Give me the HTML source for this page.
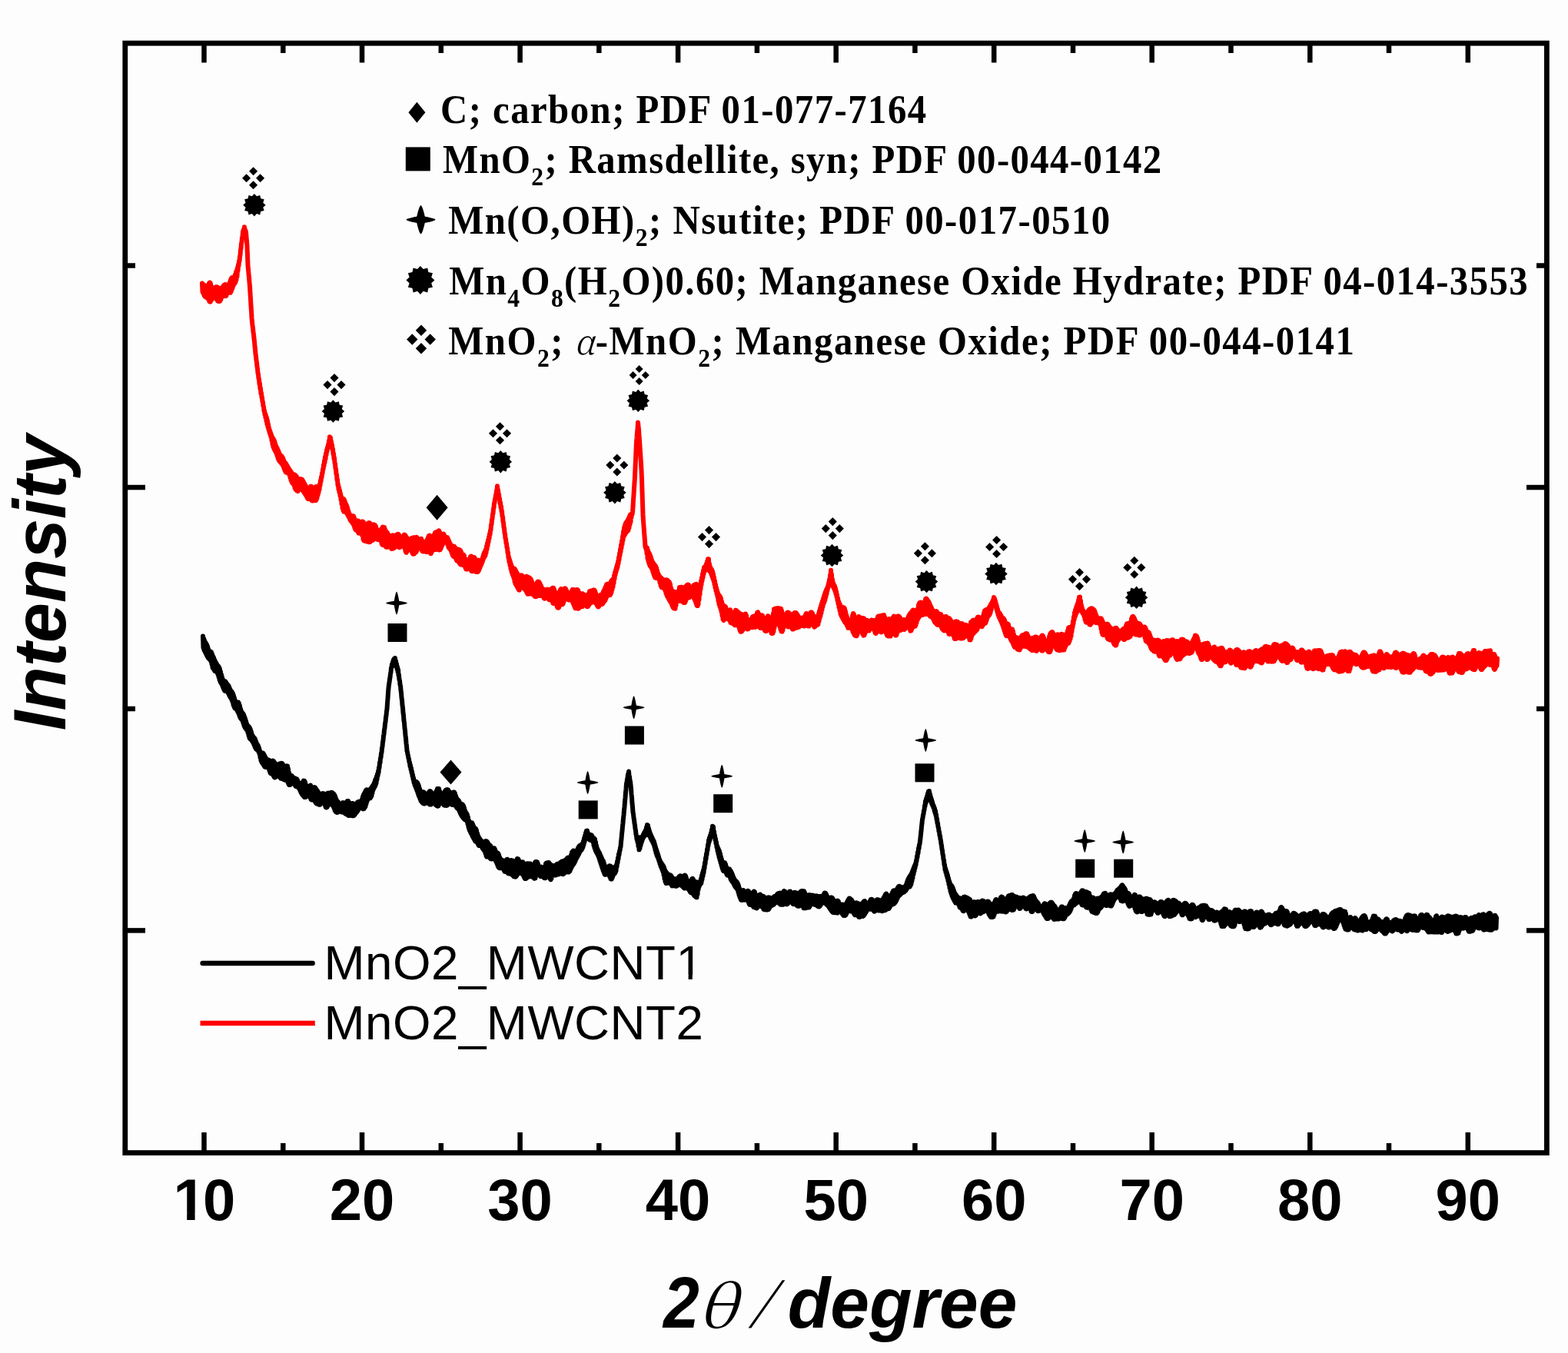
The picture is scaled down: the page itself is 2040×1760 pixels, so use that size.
<!DOCTYPE html>
<html><head><meta charset="utf-8"><title>XRD</title>
<style>html,body{margin:0;padding:0;background:#fdfdfd;}svg{display:block;}</style>
</head><body>
<svg xmlns="http://www.w3.org/2000/svg" width="2040" height="1760" viewBox="0 0 2040 1760">
<defs><clipPath id="clip2"><path clip-rule="evenodd" d="M400,1200 H1000 V1300 H400 Z M880,1268.2 H895.6 V1280 H880 Z M900.8,1268.2 H916 V1280 H900.8 Z"/></clipPath><clipPath id="clip1"><path clip-rule="evenodd" d="M200,1500 H300 V1600 H200 Z M200,1578.5 H243.2 V1600 H200 Z M253.6,1578.5 H300 V1600 H253.6 Z"/></clipPath></defs>
<rect x="0" y="0" width="2040" height="1760" fill="#fdfdfd"/>
<g fill="none" stroke-linejoin="round" stroke-linecap="round">
<path d="M264.0,827.4 L264.5,842.3 L265.0,830.4 L265.5,845.3 L266.0,833.0 L266.5,847.4 L267.0,835.2 L267.5,849.4 L268.0,836.7 L268.5,851.3 L269.0,838.4 L269.5,853.4 L270.0,840.8 L270.5,855.2 L271.0,844.0 L271.5,856.5 L272.0,846.6 L272.5,857.4 L273.0,847.4 L273.5,858.3 L274.0,847.4 L274.5,860.4 L275.0,848.5 L275.5,864.0 L276.0,850.9 L276.5,868.2 L277.0,853.5 L277.5,869.7 L278.0,855.6 L278.5,871.1 L279.0,858.1 L279.5,872.9 L280.0,860.3 L280.5,873.1 L281.0,862.1 L281.5,873.4 L282.0,863.8 L282.5,874.8 L283.0,865.4 L283.5,877.0 L284.0,866.6 L284.5,880.3 L285.0,868.0 L285.5,883.9 L286.0,870.2 L286.5,886.6 L287.0,873.7 L287.5,888.3 L288.0,877.5 L288.5,890.0 L289.0,881.0 L289.5,892.3 L290.0,884.1 L290.5,894.8 L291.0,885.9 L291.5,897.2 L292.0,886.2 L292.5,898.6 L293.0,886.3 L293.5,899.0 L294.0,887.5 L294.5,898.9 L295.0,889.2 L295.5,899.4 L296.0,890.4 L296.5,900.8 L297.0,891.5 L297.5,902.7 L298.0,893.3 L298.5,904.8 L299.0,895.7 L299.5,906.6 L300.0,897.8 L300.5,908.2 L301.0,899.2 L301.5,910.1 L302.0,900.3 L302.5,912.9 L303.0,902.2 L303.5,916.7 L304.0,904.8 L304.5,919.2 L305.0,908.0 L305.5,921.1 L306.0,911.2 L306.5,921.7 L307.0,913.5 L307.5,922.4 L308.0,914.3 L308.5,924.2 L309.0,913.7 L309.5,926.1 L310.0,913.4 L310.5,928.1 L311.0,915.2 L311.5,930.8 L312.0,918.2 L312.5,933.4 L313.0,922.0 L313.5,934.8 L314.0,925.1 L314.5,935.6 L315.0,926.9 L315.5,937.5 L316.0,928.1 L316.5,940.6 L317.0,929.6 L317.5,943.8 L318.0,932.0 L318.5,946.0 L319.0,934.7 L319.5,947.4 L320.0,937.8 L320.5,948.5 L321.0,941.0 L321.5,950.0 L322.0,943.4 L322.5,952.9 L323.0,944.6 L323.5,956.7 L324.0,945.4 L324.5,959.8 L325.0,946.9 L325.5,961.2 L326.0,949.2 L326.5,962.0 L327.0,952.3 L327.5,963.2 L328.0,955.5 L328.5,964.5 L329.0,957.6 L329.5,966.4 L330.0,958.9 L330.5,968.7 L331.0,960.0 L331.5,971.1 L332.0,961.6 L332.5,973.2 L333.0,964.2 L333.5,974.7 L334.0,966.7 L334.5,975.3 L335.0,968.4 L335.5,976.0 L336.0,970.1 L336.5,978.0 L337.0,972.7 L337.5,980.6 L338.0,976.0 L338.5,985.1 L339.0,978.4 L339.5,989.1 L340.0,979.2 L340.5,991.5 L341.0,979.2 L341.5,992.8 L342.0,979.5 L342.5,994.1 L343.0,980.7 L343.5,995.8 L344.0,982.4 L344.5,997.4 L345.0,984.4 L345.5,998.0 L346.0,986.3 L346.5,997.6 L347.0,987.6 L347.5,997.0 L348.0,988.4 L348.5,997.4 L349.0,988.7 L349.5,999.3 L350.0,988.7 L350.5,1002.4 L351.0,989.4 L351.5,1005.1 L352.0,990.2 L352.5,1006.2 L353.0,990.6 L353.5,1006.6 L354.0,990.0 L354.5,1007.0 L355.0,989.6 L355.5,1008.5 L356.0,990.2 L356.5,1010.4 L357.0,991.8 L357.5,1011.5 L358.0,992.9 L358.5,1010.7 L359.0,993.7 L359.5,1009.0 L360.0,994.9 L360.5,1008.5 L361.0,996.0 L361.5,1009.2 L362.0,995.6 L362.5,1009.8 L363.0,994.3 L363.5,1010.3 L364.0,993.3 L364.5,1011.3 L365.0,992.9 L365.5,1012.6 L366.0,992.7 L366.5,1013.0 L367.0,992.9 L367.5,1012.9 L368.0,994.2 L368.5,1013.3 L369.0,996.7 L369.5,1014.2 L370.0,998.9 L370.5,1014.8 L371.0,999.6 L371.5,1014.5 L372.0,998.2 L372.5,1014.3 L373.0,996.2 L373.5,1015.5 L374.0,996.4 L374.5,1017.7 L375.0,999.9 L375.5,1020.0 L376.0,1004.9 L376.5,1021.1 L377.0,1008.2 L377.5,1020.8 L378.0,1008.9 L378.5,1019.9 L379.0,1008.7 L379.5,1019.2 L380.0,1009.4 L380.5,1018.9 L381.0,1010.9 L381.5,1018.9 L382.0,1011.6 L382.5,1019.5 L383.0,1011.9 L383.5,1020.9 L384.0,1012.5 L384.5,1022.4 L385.0,1012.9 L385.5,1023.2 L386.0,1013.3 L386.5,1023.4 L387.0,1014.7 L387.5,1023.9 L388.0,1017.0 L388.5,1024.9 L389.0,1018.6 L389.5,1026.4 L390.0,1019.2 L390.5,1028.3 L391.0,1019.8 L391.5,1030.5 L392.0,1020.4 L392.5,1032.5 L393.0,1020.3 L393.5,1033.9 L394.0,1017.2 L394.5,1034.9 L395.0,1015.4 L395.5,1036.2 L396.0,1015.7 L396.5,1037.1 L397.0,1017.6 L397.5,1037.0 L398.0,1020.8 L398.5,1036.1 L399.0,1024.7 L399.5,1035.1 L400.0,1026.2 L400.5,1034.5 L401.0,1026.9 L401.5,1034.5 L402.0,1025.6 L402.5,1035.5 L403.0,1022.4 L403.5,1037.5 L404.0,1021.6 L404.5,1039.7 L405.0,1023.8 L405.5,1040.5 L406.0,1026.2 L406.5,1040.1 L407.0,1026.4 L407.5,1039.6 L408.0,1024.8 L408.5,1040.3 L409.0,1023.9 L409.5,1042.0 L410.0,1024.6 L410.5,1043.6 L411.0,1026.1 L411.5,1044.8 L412.0,1027.5 L412.5,1045.6 L413.0,1028.7 L413.5,1045.8 L414.0,1030.6 L414.5,1046.2 L415.0,1033.1 L415.5,1046.8 L416.0,1034.2 L416.5,1046.7 L417.0,1033.5 L417.5,1044.6 L418.0,1032.5 L418.5,1041.0 L419.0,1032.2 L419.5,1040.5 L420.0,1032.2 L420.5,1040.6 L421.0,1032.2 L421.5,1042.6 L422.0,1032.7 L422.5,1046.6 L423.0,1033.5 L423.5,1049.4 L424.0,1033.7 L424.5,1050.5 L425.0,1033.0 L425.5,1049.9 L426.0,1032.1 L426.5,1048.1 L427.0,1031.5 L427.5,1046.6 L428.0,1032.0 L428.5,1046.2 L429.0,1032.8 L429.5,1046.3 L430.0,1032.3 L430.5,1046.2 L431.0,1030.8 L431.5,1046.3 L432.0,1030.9 L432.5,1047.1 L433.0,1031.7 L433.5,1048.6 L434.0,1032.5 L434.5,1050.9 L435.0,1033.7 L435.5,1053.6 L436.0,1035.8 L436.5,1055.5 L437.0,1038.6 L437.5,1056.5 L438.0,1041.0 L438.5,1056.9 L439.0,1042.2 L439.5,1056.6 L440.0,1043.2 L440.5,1055.4 L441.0,1045.1 L441.5,1054.1 L442.0,1047.1 L442.5,1054.1 L443.0,1047.5 L443.5,1055.5 L444.0,1046.5 L444.5,1056.4 L445.0,1044.9 L445.5,1056.2 L446.0,1044.1 L446.5,1055.9 L447.0,1044.7 L447.5,1056.5 L448.0,1045.9 L448.5,1057.5 L449.0,1046.2 L449.5,1058.4 L450.0,1045.2 L450.5,1059.1 L451.0,1043.1 L451.5,1059.5 L452.0,1041.9 L452.5,1060.2 L453.0,1042.0 L453.5,1060.9 L454.0,1043.7 L454.5,1061.0 L455.0,1046.2 L455.5,1060.5 L456.0,1047.4 L456.5,1060.4 L457.0,1046.5 L457.5,1060.9 L458.0,1045.1 L458.5,1061.2 L459.0,1045.1 L459.5,1061.2 L460.0,1046.5 L460.5,1060.9 L461.0,1048.0 L461.5,1059.8 L462.0,1048.3 L462.5,1058.3 L463.0,1047.0 L463.5,1057.1 L464.0,1045.1 L464.5,1056.2 L465.0,1043.8 L465.5,1054.7 L466.0,1043.1 L466.5,1053.0 L467.0,1042.7 L467.5,1051.4 L468.0,1042.8 L468.5,1050.0 L469.0,1043.1 L469.5,1049.1 L470.0,1042.3 L470.5,1049.8 L471.0,1039.8 L471.5,1051.4 L472.0,1036.3 L472.5,1052.3 L473.0,1033.8 L473.5,1051.9 L474.0,1032.1 L474.5,1050.5 L475.0,1030.1 L475.5,1048.9 L476.0,1028.3 L476.5,1045.7 L477.0,1027.3 L477.5,1042.5 L478.0,1027.4 L478.5,1040.1 L479.0,1028.7 L479.5,1039.0 L480.0,1029.4 L480.5,1038.6 L481.0,1027.9 L481.5,1038.3 L482.0,1026.3 L482.5,1037.2 L483.0,1024.9 L483.5,1035.0 L484.0,1023.4 L484.5,1031.4 L485.0,1022.0 L485.5,1027.8 L486.0,1020.5 L486.5,1025.5 L487.0,1018.0 L487.5,1023.9 L488.0,1015.1 L488.5,1022.0 L489.0,1013.1 L489.5,1019.1 L490.0,1010.1 L490.5,1014.4 L491.0,1006.9 L491.5,1009.6 L492.0,1003.3 L492.5,1005.3 L493.0,998.5 L493.5,999.0 L494.0,992.0 L494.5,992.3 L495.0,986.0 L495.5,985.6 L496.0,979.8 L496.5,979.0 L497.0,973.1 L497.5,971.3 L498.0,965.2 L498.5,963.2 L499.0,957.2 L499.5,955.1 L500.0,949.4 L500.5,947.1 L501.0,941.5 L501.5,938.9 L502.0,933.6 L502.5,930.6 L503.0,925.5 L503.5,922.3 L504.0,914.6 L504.5,908.5 L505.0,901.0 L505.5,894.9 L506.0,890.7 L506.5,887.9 L507.0,883.7 L507.5,881.2 L508.0,876.4 L508.5,874.4 L509.0,868.7 L509.5,868.1 L510.0,863.8 L510.5,866.7 L511.0,860.9 L511.5,865.4 L512.0,858.3 L512.5,863.7 L513.0,856.8 L513.5,862.1 L514.0,855.9 L514.5,862.5 L515.0,859.8 L515.5,866.7 L516.0,863.5 L516.5,870.2 L517.0,867.2 L517.5,873.7 L518.0,870.8 L518.5,878.4 L519.0,877.9 L519.5,884.6 L520.0,884.9 L520.5,890.8 L521.0,891.8 L521.5,898.1 L522.0,900.9 L522.5,907.8 L523.0,910.8 L523.5,917.6 L524.0,920.7 L524.5,927.6 L525.0,930.4 L525.5,937.5 L526.0,940.2 L526.5,947.3 L527.0,950.3 L527.5,957.0 L528.0,960.3 L528.5,966.8 L529.0,970.4 L529.5,976.7 L530.0,978.1 L530.5,981.6 L531.0,983.0 L531.5,986.6 L532.0,987.4 L532.5,991.7 L533.0,991.5 L533.5,996.7 L534.0,995.3 L534.5,1000.8 L535.0,999.1 L535.5,1004.9 L536.0,1003.3 L536.5,1009.2 L537.0,1007.7 L537.5,1013.6 L538.0,1011.7 L538.5,1017.8 L539.0,1015.2 L539.5,1021.1 L540.0,1016.2 L540.5,1023.4 L541.0,1016.6 L541.5,1025.8 L542.0,1017.2 L542.5,1028.4 L543.0,1018.2 L543.5,1031.2 L544.0,1019.9 L544.5,1034.3 L545.0,1022.5 L545.5,1036.3 L546.0,1025.9 L546.5,1039.1 L547.0,1028.9 L547.5,1041.6 L548.0,1030.2 L548.5,1043.0 L549.0,1030.2 L549.5,1044.0 L550.0,1030.1 L550.5,1045.0 L551.0,1030.2 L551.5,1045.5 L552.0,1031.0 L552.5,1045.5 L553.0,1032.6 L553.5,1044.5 L554.0,1034.1 L554.5,1043.4 L555.0,1034.5 L555.5,1043.1 L556.0,1033.7 L556.5,1044.0 L557.0,1032.3 L557.5,1045.1 L558.0,1030.6 L558.5,1046.0 L559.0,1029.2 L559.5,1046.6 L560.0,1029.2 L560.5,1046.6 L561.0,1030.4 L561.5,1045.4 L562.0,1031.8 L562.5,1043.2 L563.0,1032.4 L563.5,1041.7 L564.0,1032.6 L564.5,1042.6 L565.0,1032.5 L565.5,1044.9 L566.0,1031.9 L566.5,1046.6 L567.0,1030.5 L567.5,1047.3 L568.0,1028.4 L568.5,1048.1 L569.0,1025.9 L569.5,1048.8 L570.0,1025.9 L570.5,1048.1 L571.0,1026.1 L571.5,1045.9 L572.0,1029.0 L572.5,1044.1 L573.0,1031.5 L573.5,1043.2 L574.0,1032.9 L574.5,1043.3 L575.0,1034.0 L575.5,1044.2 L576.0,1034.1 L576.5,1045.7 L577.0,1032.9 L577.5,1047.1 L578.0,1030.8 L578.5,1047.7 L579.0,1028.9 L579.5,1047.8 L580.0,1027.8 L580.5,1048.0 L581.0,1027.2 L581.5,1047.8 L582.0,1027.0 L582.5,1046.7 L583.0,1027.5 L583.5,1046.2 L584.0,1029.1 L584.5,1046.0 L585.0,1030.6 L585.5,1045.5 L586.0,1031.3 L586.5,1045.5 L587.0,1031.4 L587.5,1046.4 L588.0,1031.2 L588.5,1046.9 L589.0,1030.9 L589.5,1046.2 L590.0,1030.5 L590.5,1045.7 L591.0,1030.6 L591.5,1046.4 L592.0,1032.3 L592.5,1047.9 L593.0,1035.2 L593.5,1049.4 L594.0,1038.1 L594.5,1050.8 L595.0,1039.7 L595.5,1051.6 L596.0,1040.5 L596.5,1052.6 L597.0,1041.7 L597.5,1054.6 L598.0,1043.7 L598.5,1057.0 L599.0,1045.2 L599.5,1059.2 L600.0,1045.8 L600.5,1061.0 L601.0,1046.0 L601.5,1062.4 L602.0,1046.7 L602.5,1063.6 L603.0,1048.3 L603.5,1064.9 L604.0,1051.1 L604.5,1065.9 L605.0,1054.3 L605.5,1066.3 L606.0,1056.7 L606.5,1066.8 L607.0,1058.0 L607.5,1068.4 L608.0,1060.0 L608.5,1071.9 L609.0,1063.3 L609.5,1076.0 L610.0,1067.2 L610.5,1079.1 L611.0,1069.8 L611.5,1081.2 L612.0,1070.5 L612.5,1083.3 L613.0,1070.1 L613.5,1084.8 L614.0,1070.3 L614.5,1087.3 L615.0,1072.1 L615.5,1089.1 L616.0,1074.6 L616.5,1090.9 L617.0,1076.5 L617.5,1092.6 L618.0,1077.2 L618.5,1094.4 L619.0,1077.9 L619.5,1094.3 L620.0,1080.3 L620.5,1095.4 L621.0,1083.9 L621.5,1097.1 L622.0,1087.1 L622.5,1099.1 L623.0,1089.3 L623.5,1100.1 L624.0,1090.7 L624.5,1100.0 L625.0,1092.0 L625.5,1100.0 L626.0,1093.3 L626.5,1101.1 L627.0,1094.6 L627.5,1103.1 L628.0,1096.0 L628.5,1104.7 L629.0,1096.5 L629.5,1105.5 L630.0,1095.7 L630.5,1107.0 L631.0,1094.6 L631.5,1109.8 L632.0,1094.1 L632.5,1113.1 L633.0,1094.3 L633.5,1114.6 L634.0,1095.2 L634.5,1114.4 L635.0,1096.7 L635.5,1114.2 L636.0,1098.5 L636.5,1114.9 L637.0,1099.4 L637.5,1116.1 L638.0,1100.0 L638.5,1117.2 L639.0,1101.9 L639.5,1117.5 L640.0,1104.0 L640.5,1116.7 L641.0,1104.3 L641.5,1115.6 L642.0,1103.4 L642.5,1115.9 L643.0,1103.3 L643.5,1117.5 L644.0,1105.0 L644.5,1119.1 L645.0,1107.5 L645.5,1120.8 L646.0,1109.2 L646.5,1123.2 L647.0,1109.6 L647.5,1125.9 L648.0,1110.0 L648.5,1128.0 L649.0,1112.0 L649.5,1129.0 L650.0,1115.1 L650.5,1129.3 L651.0,1117.5 L651.5,1128.9 L652.0,1118.0 L652.5,1128.4 L653.0,1118.5 L653.5,1128.7 L654.0,1119.7 L654.5,1129.8 L655.0,1120.4 L655.5,1131.7 L656.0,1121.0 L656.5,1133.6 L657.0,1121.7 L657.5,1133.9 L658.0,1120.0 L658.5,1133.4 L659.0,1118.2 L659.5,1133.8 L660.0,1117.7 L660.5,1135.2 L661.0,1118.7 L661.5,1136.3 L662.0,1119.9 L662.5,1136.5 L663.0,1120.1 L663.5,1136.5 L664.0,1119.6 L664.5,1136.8 L665.0,1119.1 L665.5,1137.3 L666.0,1119.2 L666.5,1137.8 L667.0,1119.6 L667.5,1138.8 L668.0,1120.3 L668.5,1140.1 L669.0,1121.6 L669.5,1140.5 L670.0,1122.9 L670.5,1140.7 L671.0,1122.1 L671.5,1140.0 L672.0,1119.3 L672.5,1138.4 L673.0,1116.9 L673.5,1137.0 L674.0,1117.2 L674.5,1136.1 L675.0,1119.1 L675.5,1135.2 L676.0,1121.0 L676.5,1135.0 L677.0,1122.3 L677.5,1135.5 L678.0,1122.5 L678.5,1136.4 L679.0,1121.7 L679.5,1137.0 L680.0,1121.3 L680.5,1138.1 L681.0,1122.5 L681.5,1140.1 L682.0,1124.1 L682.5,1142.2 L683.0,1124.7 L683.5,1143.1 L684.0,1124.4 L684.5,1142.6 L685.0,1123.7 L685.5,1141.7 L686.0,1123.2 L686.5,1141.1 L687.0,1123.4 L687.5,1140.5 L688.0,1123.6 L688.5,1140.1 L689.0,1123.5 L689.5,1140.0 L690.0,1123.5 L690.5,1140.3 L691.0,1124.4 L691.5,1140.5 L692.0,1125.9 L692.5,1140.6 L693.0,1126.9 L693.5,1140.9 L694.0,1126.8 L694.5,1141.8 L695.0,1125.0 L695.5,1142.8 L696.0,1121.9 L696.5,1142.1 L697.0,1120.9 L697.5,1139.0 L698.0,1121.1 L698.5,1135.8 L699.0,1121.4 L699.5,1136.0 L700.0,1123.9 L700.5,1136.2 L701.0,1127.8 L701.5,1137.0 L702.0,1129.4 L702.5,1139.0 L703.0,1128.6 L703.5,1140.0 L704.0,1127.5 L704.5,1140.1 L705.0,1127.8 L705.5,1140.1 L706.0,1129.2 L706.5,1140.6 L707.0,1130.4 L707.5,1141.4 L708.0,1130.0 L708.5,1142.2 L709.0,1127.3 L709.5,1142.2 L710.0,1123.4 L710.5,1141.0 L711.0,1122.4 L711.5,1139.5 L712.0,1122.5 L712.5,1138.7 L713.0,1122.4 L713.5,1138.6 L714.0,1122.1 L714.5,1140.1 L715.0,1123.3 L715.5,1142.7 L716.0,1125.2 L716.5,1144.2 L717.0,1125.9 L717.5,1142.4 L718.0,1125.6 L718.5,1138.7 L719.0,1125.7 L719.5,1136.5 L720.0,1126.4 L720.5,1136.7 L721.0,1127.3 L721.5,1138.0 L722.0,1127.4 L722.5,1138.6 L723.0,1126.2 L723.5,1138.1 L724.0,1124.5 L724.5,1137.4 L725.0,1123.8 L725.5,1137.4 L726.0,1124.2 L726.5,1137.5 L727.0,1124.0 L727.5,1136.9 L728.0,1122.9 L728.5,1136.1 L729.0,1122.0 L729.5,1135.8 L730.0,1121.2 L730.5,1136.3 L731.0,1120.6 L731.5,1137.0 L732.0,1120.3 L732.5,1137.2 L733.0,1120.1 L733.5,1136.5 L734.0,1119.5 L734.5,1135.4 L735.0,1119.2 L735.5,1134.2 L736.0,1118.5 L736.5,1133.2 L737.0,1117.4 L737.5,1133.2 L738.0,1116.2 L738.5,1134.4 L739.0,1115.5 L739.5,1134.6 L740.0,1115.7 L740.5,1134.0 L741.0,1116.1 L741.5,1132.8 L742.0,1115.2 L742.5,1130.5 L743.0,1112.3 L743.5,1128.4 L744.0,1108.8 L744.5,1126.5 L745.0,1107.8 L745.5,1125.0 L746.0,1106.6 L746.5,1123.7 L747.0,1106.7 L747.5,1122.2 L748.0,1108.2 L748.5,1120.0 L749.0,1108.8 L749.5,1117.5 L750.0,1107.8 L750.5,1115.6 L751.0,1105.4 L751.5,1114.0 L752.0,1103.2 L752.5,1112.1 L753.0,1101.6 L753.5,1110.3 L754.0,1100.2 L754.5,1108.2 L755.0,1099.4 L755.5,1106.8 L756.0,1099.1 L756.5,1105.8 L757.0,1098.7 L757.5,1104.4 L758.0,1097.1 L758.5,1102.1 L759.0,1094.2 L759.5,1098.7 L760.0,1090.5 L760.5,1095.3 L761.0,1087.2 L761.5,1092.2 L762.0,1083.6 L762.5,1089.7 L763.0,1080.7 L763.5,1087.7 L764.0,1080.4 L764.5,1089.5 L765.0,1083.4 L765.5,1090.6 L766.0,1085.0 L766.5,1091.7 L767.0,1086.0 L767.5,1092.7 L768.0,1086.3 L768.5,1092.7 L769.0,1086.0 L769.5,1092.5 L770.0,1086.8 L770.5,1093.9 L771.0,1088.6 L771.5,1095.3 L772.0,1089.9 L772.5,1099.5 L773.0,1090.4 L773.5,1102.8 L774.0,1091.7 L774.5,1105.6 L775.0,1095.6 L775.5,1107.9 L776.0,1100.0 L776.5,1109.7 L777.0,1103.4 L777.5,1111.6 L778.0,1105.8 L778.5,1113.7 L779.0,1107.7 L779.5,1116.6 L780.0,1109.5 L780.5,1119.8 L781.0,1111.9 L781.5,1122.8 L782.0,1114.3 L782.5,1125.8 L783.0,1116.4 L783.5,1129.0 L784.0,1118.7 L784.5,1132.0 L785.0,1120.2 L785.5,1134.5 L786.0,1123.3 L786.5,1136.8 L787.0,1126.5 L787.5,1137.8 L788.0,1127.2 L788.5,1137.6 L789.0,1128.0 L789.5,1136.8 L790.0,1128.7 L790.5,1136.4 L791.0,1128.6 L791.5,1137.0 L792.0,1127.1 L792.5,1138.5 L793.0,1126.2 L793.5,1140.8 L794.0,1126.4 L794.5,1143.1 L795.0,1127.3 L795.5,1143.6 L796.0,1128.9 L796.5,1142.0 L797.0,1130.4 L797.5,1139.5 L798.0,1130.2 L798.5,1137.5 L799.0,1128.5 L799.5,1136.3 L800.0,1127.8 L800.5,1135.6 L801.0,1128.7 L801.5,1133.0 L802.0,1125.0 L802.5,1127.9 L803.0,1120.8 L803.5,1122.5 L804.0,1116.1 L804.5,1117.4 L805.0,1111.1 L805.5,1112.0 L806.0,1107.0 L806.5,1106.6 L807.0,1102.5 L807.5,1101.6 L808.0,1095.1 L808.5,1091.2 L809.0,1084.9 L809.5,1080.9 L810.0,1074.7 L810.5,1070.5 L811.0,1064.3 L811.5,1060.1 L812.0,1053.8 L812.5,1049.3 L813.0,1042.4 L813.5,1037.8 L814.0,1030.8 L814.5,1026.3 L815.0,1019.4 L815.5,1017.7 L816.0,1013.5 L816.5,1012.1 L817.0,1007.4 L817.5,1006.9 L818.0,1003.5 L818.5,1009.3 L819.0,1010.2 L819.5,1015.0 L820.0,1016.5 L820.5,1020.8 L821.0,1025.7 L821.5,1033.0 L822.0,1037.7 L822.5,1045.1 L823.0,1049.8 L823.5,1056.6 L824.0,1059.0 L824.5,1063.8 L825.0,1066.3 L825.5,1070.9 L826.0,1073.5 L826.5,1078.2 L827.0,1080.4 L827.5,1085.6 L828.0,1087.2 L828.5,1091.8 L829.0,1090.0 L829.5,1095.6 L830.0,1090.4 L830.5,1100.7 L831.0,1090.0 L831.5,1105.3 L832.0,1089.2 L832.5,1103.4 L833.0,1089.4 L833.5,1099.9 L834.0,1089.8 L834.5,1096.5 L835.0,1089.3 L835.5,1093.7 L836.0,1087.8 L836.5,1091.1 L837.0,1085.4 L837.5,1088.9 L838.0,1083.5 L838.5,1087.5 L839.0,1081.8 L839.5,1086.5 L840.0,1079.7 L840.5,1086.0 L841.0,1076.2 L841.5,1085.9 L842.0,1073.0 L842.5,1085.6 L843.0,1073.7 L843.5,1086.2 L844.0,1077.4 L844.5,1086.7 L845.0,1080.8 L845.5,1088.3 L846.0,1084.1 L846.5,1090.6 L847.0,1086.3 L847.5,1092.6 L848.0,1088.5 L848.5,1094.3 L849.0,1090.7 L849.5,1096.2 L850.0,1092.7 L850.5,1098.4 L851.0,1094.8 L851.5,1101.9 L852.0,1098.2 L852.5,1105.8 L853.0,1101.8 L853.5,1109.5 L854.0,1105.0 L854.5,1112.5 L855.0,1108.0 L855.5,1114.9 L856.0,1111.0 L856.5,1117.3 L857.0,1114.2 L857.5,1120.2 L858.0,1117.4 L858.5,1123.4 L859.0,1120.0 L859.5,1126.4 L860.0,1121.8 L860.5,1128.9 L861.0,1123.2 L861.5,1131.2 L862.0,1124.7 L862.5,1133.9 L863.0,1126.6 L863.5,1137.8 L864.0,1128.4 L864.5,1142.9 L865.0,1131.5 L865.5,1146.7 L866.0,1133.4 L866.5,1148.9 L867.0,1134.9 L867.5,1149.0 L868.0,1136.1 L868.5,1147.9 L869.0,1137.1 L869.5,1147.9 L870.0,1137.7 L870.5,1148.5 L871.0,1138.0 L871.5,1148.8 L872.0,1138.3 L872.5,1149.4 L873.0,1138.9 L873.5,1150.9 L874.0,1140.6 L874.5,1152.4 L875.0,1142.5 L875.5,1152.3 L876.0,1143.7 L876.5,1151.7 L877.0,1143.8 L877.5,1151.6 L878.0,1143.2 L878.5,1152.3 L879.0,1143.3 L879.5,1152.8 L880.0,1143.4 L880.5,1152.7 L881.0,1143.2 L881.5,1152.1 L882.0,1142.7 L882.5,1151.3 L883.0,1141.1 L883.5,1150.7 L884.0,1139.9 L884.5,1150.5 L885.0,1139.3 L885.5,1150.6 L886.0,1139.4 L886.5,1151.6 L887.0,1139.8 L887.5,1152.6 L888.0,1140.0 L888.5,1153.5 L889.0,1139.9 L889.5,1154.7 L890.0,1139.2 L890.5,1155.4 L891.0,1138.5 L891.5,1155.5 L892.0,1139.4 L892.5,1155.3 L893.0,1142.2 L893.5,1155.2 L894.0,1145.4 L894.5,1155.4 L895.0,1147.1 L895.5,1156.3 L896.0,1146.7 L896.5,1157.7 L897.0,1146.0 L897.5,1159.4 L898.0,1145.9 L898.5,1160.8 L899.0,1145.2 L899.5,1161.4 L900.0,1143.6 L900.5,1161.4 L901.0,1142.7 L901.5,1162.1 L902.0,1143.9 L902.5,1164.0 L903.0,1146.2 L903.5,1165.2 L904.0,1147.5 L904.5,1166.0 L905.0,1147.3 L905.5,1166.9 L906.0,1147.3 L906.5,1167.3 L907.0,1149.7 L907.5,1163.3 L908.0,1152.0 L908.5,1157.6 L909.0,1151.2 L909.5,1154.0 L910.0,1149.2 L910.5,1151.2 L911.0,1146.3 L911.5,1150.1 L912.0,1143.0 L912.5,1148.5 L913.0,1139.0 L913.5,1144.4 L914.0,1135.5 L914.5,1139.8 L915.0,1132.2 L915.5,1135.5 L916.0,1128.0 L916.5,1129.8 L917.0,1122.2 L917.5,1123.8 L918.0,1116.3 L918.5,1117.8 L919.0,1110.7 L919.5,1111.8 L920.0,1105.1 L920.5,1106.1 L921.0,1099.1 L921.5,1100.4 L922.0,1093.0 L922.5,1096.1 L923.0,1089.7 L923.5,1092.9 L924.0,1086.9 L924.5,1089.7 L925.0,1083.8 L925.5,1086.8 L926.0,1079.5 L926.5,1085.0 L927.0,1074.7 L927.5,1082.6 L928.0,1075.4 L928.5,1084.6 L929.0,1081.4 L929.5,1088.0 L930.0,1086.6 L930.5,1092.2 L931.0,1091.1 L931.5,1097.1 L932.0,1095.4 L932.5,1102.1 L933.0,1099.9 L933.5,1106.9 L934.0,1102.7 L934.5,1110.9 L935.0,1104.8 L935.5,1114.9 L936.0,1107.2 L936.5,1118.4 L937.0,1110.6 L937.5,1121.9 L938.0,1114.4 L938.5,1125.3 L939.0,1118.1 L939.5,1128.8 L940.0,1121.1 L940.5,1131.6 L941.0,1123.2 L941.5,1133.0 L942.0,1122.5 L942.5,1132.6 L943.0,1122.2 L943.5,1133.1 L944.0,1124.2 L944.5,1134.9 L945.0,1127.4 L945.5,1137.3 L946.0,1129.6 L946.5,1138.6 L947.0,1130.3 L947.5,1138.2 L948.0,1130.3 L948.5,1138.2 L949.0,1130.6 L949.5,1140.3 L950.0,1131.9 L950.5,1143.3 L951.0,1133.4 L951.5,1145.2 L952.0,1135.4 L952.5,1146.5 L953.0,1137.8 L953.5,1147.7 L954.0,1140.2 L954.5,1149.6 L955.0,1142.4 L955.5,1151.7 L956.0,1144.3 L956.5,1153.4 L957.0,1145.7 L957.5,1154.6 L958.0,1146.6 L958.5,1155.6 L959.0,1147.8 L959.5,1157.4 L960.0,1149.6 L960.5,1160.6 L961.0,1152.1 L961.5,1164.2 L962.0,1155.4 L962.5,1166.9 L963.0,1157.9 L963.5,1169.3 L964.0,1159.6 L964.5,1170.8 L965.0,1160.9 L965.5,1170.9 L966.0,1159.1 L966.5,1170.2 L967.0,1158.1 L967.5,1170.3 L968.0,1158.9 L968.5,1170.7 L969.0,1160.7 L969.5,1170.6 L970.0,1161.6 L970.5,1169.7 L971.0,1160.9 L971.5,1169.0 L972.0,1159.5 L972.5,1170.1 L973.0,1158.7 L973.5,1172.8 L974.0,1159.4 L974.5,1175.4 L975.0,1160.8 L975.5,1176.8 L976.0,1162.1 L976.5,1177.0 L977.0,1163.3 L977.5,1176.8 L978.0,1164.0 L978.5,1177.0 L979.0,1163.0 L979.5,1178.4 L980.0,1160.7 L980.5,1179.9 L981.0,1159.4 L981.5,1180.3 L982.0,1160.6 L982.5,1180.7 L983.0,1163.4 L983.5,1181.0 L984.0,1165.9 L984.5,1181.4 L985.0,1167.1 L985.5,1180.4 L986.0,1166.8 L986.5,1178.8 L987.0,1165.4 L987.5,1178.3 L988.0,1163.9 L988.5,1178.3 L989.0,1163.6 L989.5,1178.5 L990.0,1164.5 L990.5,1179.0 L991.0,1165.2 L991.5,1179.6 L992.0,1165.4 L992.5,1180.6 L993.0,1165.8 L993.5,1182.6 L994.0,1166.8 L994.5,1183.2 L995.0,1167.9 L995.5,1183.3 L996.0,1168.4 L996.5,1183.4 L997.0,1168.1 L997.5,1183.5 L998.0,1167.7 L998.5,1183.5 L999.0,1167.6 L999.5,1183.1 L1000.0,1167.6 L1000.5,1182.1 L1001.0,1167.5 L1001.5,1180.4 L1002.0,1167.7 L1002.5,1179.0 L1003.0,1168.1 L1003.5,1178.3 L1004.0,1168.6 L1004.5,1177.9 L1005.0,1168.6 L1005.5,1177.4 L1006.0,1167.8 L1006.5,1176.8 L1007.0,1166.5 L1007.5,1175.6 L1008.0,1165.8 L1008.5,1173.8 L1009.0,1165.7 L1009.5,1172.7 L1010.0,1165.0 L1010.5,1173.0 L1011.0,1163.5 L1011.5,1173.9 L1012.0,1162.4 L1012.5,1174.3 L1013.0,1162.1 L1013.5,1174.6 L1014.0,1162.0 L1014.5,1175.7 L1015.0,1161.6 L1015.5,1176.7 L1016.0,1161.9 L1016.5,1176.7 L1017.0,1162.8 L1017.5,1176.5 L1018.0,1162.7 L1018.5,1176.8 L1019.0,1160.7 L1019.5,1176.5 L1020.0,1159.0 L1020.5,1175.6 L1021.0,1159.6 L1021.5,1175.1 L1022.0,1161.5 L1022.5,1175.6 L1023.0,1162.7 L1023.5,1176.3 L1024.0,1162.9 L1024.5,1175.9 L1025.0,1162.3 L1025.5,1174.8 L1026.0,1160.9 L1026.5,1173.6 L1027.0,1159.7 L1027.5,1172.6 L1028.0,1159.6 L1028.5,1172.5 L1029.0,1160.9 L1029.5,1172.5 L1030.0,1162.3 L1030.5,1174.1 L1031.0,1162.7 L1031.5,1175.6 L1032.0,1161.9 L1032.5,1176.2 L1033.0,1161.1 L1033.5,1175.7 L1034.0,1160.8 L1034.5,1175.3 L1035.0,1160.9 L1035.5,1175.9 L1036.0,1161.6 L1036.5,1177.3 L1037.0,1163.3 L1037.5,1178.5 L1038.0,1164.7 L1038.5,1178.8 L1039.0,1164.3 L1039.5,1178.7 L1040.0,1162.4 L1040.5,1178.1 L1041.0,1160.4 L1041.5,1177.2 L1042.0,1159.4 L1042.5,1176.4 L1043.0,1159.1 L1043.5,1176.7 L1044.0,1159.0 L1044.5,1178.7 L1045.0,1159.2 L1045.5,1181.2 L1046.0,1159.3 L1046.5,1181.3 L1047.0,1161.2 L1047.5,1181.3 L1048.0,1163.5 L1048.5,1181.2 L1049.0,1164.7 L1049.5,1180.2 L1050.0,1164.9 L1050.5,1180.5 L1051.0,1164.7 L1051.5,1180.6 L1052.0,1164.2 L1052.5,1180.3 L1053.0,1163.9 L1053.5,1179.2 L1054.0,1164.3 L1054.5,1177.4 L1055.0,1164.8 L1055.5,1175.6 L1056.0,1164.7 L1056.5,1174.7 L1057.0,1164.4 L1057.5,1174.9 L1058.0,1164.7 L1058.5,1175.9 L1059.0,1165.4 L1059.5,1176.6 L1060.0,1165.8 L1060.5,1176.9 L1061.0,1165.6 L1061.5,1177.1 L1062.0,1165.3 L1062.5,1177.7 L1063.0,1165.4 L1063.5,1178.5 L1064.0,1165.8 L1064.5,1179.2 L1065.0,1166.1 L1065.5,1179.4 L1066.0,1166.1 L1066.5,1179.0 L1067.0,1166.0 L1067.5,1177.7 L1068.0,1166.1 L1068.5,1175.6 L1069.0,1166.2 L1069.5,1174.3 L1070.0,1165.9 L1070.5,1174.4 L1071.0,1164.8 L1071.5,1174.4 L1072.0,1163.0 L1072.5,1174.4 L1073.0,1161.6 L1073.5,1174.6 L1074.0,1161.7 L1074.5,1175.7 L1075.0,1163.3 L1075.5,1176.6 L1076.0,1165.5 L1076.5,1177.5 L1077.0,1167.3 L1077.5,1178.5 L1078.0,1168.0 L1078.5,1179.8 L1079.0,1168.2 L1079.5,1181.3 L1080.0,1167.9 L1080.5,1182.9 L1081.0,1167.6 L1081.5,1184.4 L1082.0,1167.4 L1082.5,1185.7 L1083.0,1168.2 L1083.5,1186.6 L1084.0,1170.1 L1084.5,1187.1 L1085.0,1172.0 L1085.5,1187.2 L1086.0,1172.8 L1086.5,1186.5 L1087.0,1172.7 L1087.5,1186.5 L1088.0,1172.3 L1088.5,1187.3 L1089.0,1171.8 L1089.5,1187.6 L1090.0,1171.7 L1090.5,1186.6 L1091.0,1173.0 L1091.5,1185.1 L1092.0,1175.4 L1092.5,1184.4 L1093.0,1177.1 L1093.5,1185.1 L1094.0,1177.2 L1094.5,1186.4 L1095.0,1177.2 L1095.5,1188.0 L1096.0,1176.5 L1096.5,1189.7 L1097.0,1176.7 L1097.5,1190.9 L1098.0,1177.7 L1098.5,1190.9 L1099.0,1177.9 L1099.5,1190.9 L1100.0,1177.2 L1100.5,1190.2 L1101.0,1175.3 L1101.5,1188.1 L1102.0,1173.4 L1102.5,1186.1 L1103.0,1171.6 L1103.5,1184.2 L1104.0,1169.7 L1104.5,1183.3 L1105.0,1168.6 L1105.5,1184.0 L1106.0,1169.0 L1106.5,1185.1 L1107.0,1169.9 L1107.5,1185.6 L1108.0,1170.8 L1108.5,1185.6 L1109.0,1172.4 L1109.5,1186.0 L1110.0,1175.0 L1110.5,1187.4 L1111.0,1177.3 L1111.5,1189.2 L1112.0,1177.6 L1112.5,1190.3 L1113.0,1175.9 L1113.5,1189.6 L1114.0,1174.3 L1114.5,1188.2 L1115.0,1174.6 L1115.5,1188.7 L1116.0,1175.7 L1116.5,1191.3 L1117.0,1175.9 L1117.5,1192.8 L1118.0,1175.8 L1118.5,1192.9 L1119.0,1176.1 L1119.5,1191.8 L1120.0,1176.3 L1120.5,1191.2 L1121.0,1175.8 L1121.5,1191.6 L1122.0,1174.9 L1122.5,1191.9 L1123.0,1173.8 L1123.5,1191.2 L1124.0,1172.4 L1124.5,1189.8 L1125.0,1171.9 L1125.5,1188.3 L1126.0,1173.3 L1126.5,1186.9 L1127.0,1175.7 L1127.5,1185.3 L1128.0,1176.7 L1128.5,1183.1 L1129.0,1176.5 L1129.5,1181.0 L1130.0,1176.2 L1130.5,1180.6 L1131.0,1174.5 L1131.5,1181.8 L1132.0,1171.9 L1132.5,1182.8 L1133.0,1170.0 L1133.5,1182.4 L1134.0,1169.7 L1134.5,1181.8 L1135.0,1170.5 L1135.5,1182.4 L1136.0,1171.8 L1136.5,1184.3 L1137.0,1173.5 L1137.5,1185.7 L1138.0,1174.4 L1138.5,1185.1 L1139.0,1173.5 L1139.5,1182.8 L1140.0,1171.5 L1140.5,1181.2 L1141.0,1170.2 L1141.5,1182.1 L1142.0,1170.2 L1142.5,1184.0 L1143.0,1170.5 L1143.5,1184.6 L1144.0,1170.9 L1144.5,1183.9 L1145.0,1171.6 L1145.5,1183.7 L1146.0,1172.0 L1146.5,1184.5 L1147.0,1171.7 L1147.5,1185.2 L1148.0,1170.5 L1148.5,1185.0 L1149.0,1169.0 L1149.5,1184.4 L1150.0,1167.3 L1150.5,1184.3 L1151.0,1165.5 L1151.5,1184.2 L1152.0,1163.6 L1152.5,1183.5 L1153.0,1162.6 L1153.5,1182.6 L1154.0,1163.8 L1154.5,1182.1 L1155.0,1167.1 L1155.5,1182.2 L1156.0,1169.8 L1156.5,1182.0 L1157.0,1169.1 L1157.5,1180.5 L1158.0,1167.5 L1158.5,1178.3 L1159.0,1165.3 L1159.5,1176.9 L1160.0,1163.2 L1160.5,1176.6 L1161.0,1160.9 L1161.5,1176.5 L1162.0,1158.9 L1162.5,1176.0 L1163.0,1158.2 L1163.5,1175.1 L1164.0,1158.7 L1164.5,1174.1 L1165.0,1158.9 L1165.5,1172.8 L1166.0,1158.0 L1166.5,1170.9 L1167.0,1156.4 L1167.5,1168.6 L1168.0,1154.7 L1168.5,1166.6 L1169.0,1153.2 L1169.5,1165.5 L1170.0,1152.7 L1170.5,1164.7 L1171.0,1153.2 L1171.5,1163.5 L1172.0,1153.8 L1172.5,1162.3 L1173.0,1154.0 L1173.5,1161.5 L1174.0,1154.2 L1174.5,1161.3 L1175.0,1154.3 L1175.5,1160.9 L1176.0,1153.9 L1176.5,1160.2 L1177.0,1153.7 L1177.5,1159.3 L1178.0,1152.6 L1178.5,1158.6 L1179.0,1150.6 L1179.5,1157.2 L1180.0,1147.6 L1180.5,1155.0 L1181.0,1144.8 L1181.5,1153.2 L1182.0,1142.8 L1182.5,1153.0 L1183.0,1140.9 L1183.5,1153.6 L1184.0,1139.3 L1184.5,1152.2 L1185.0,1138.0 L1185.5,1149.9 L1186.0,1136.1 L1186.5,1145.8 L1187.0,1133.4 L1187.5,1141.8 L1188.0,1130.9 L1188.5,1137.7 L1189.0,1128.2 L1189.5,1133.5 L1190.0,1125.9 L1190.5,1129.4 L1191.0,1123.4 L1191.5,1125.6 L1192.0,1119.4 L1192.5,1120.3 L1193.0,1114.1 L1193.5,1115.2 L1194.0,1108.7 L1194.5,1109.9 L1195.0,1103.6 L1195.5,1103.9 L1196.0,1099.0 L1196.5,1098.1 L1197.0,1094.3 L1197.5,1090.5 L1198.0,1084.8 L1198.5,1080.9 L1199.0,1075.1 L1199.5,1071.2 L1200.0,1065.8 L1200.5,1064.2 L1201.0,1060.1 L1201.5,1059.0 L1202.0,1054.2 L1202.5,1053.9 L1203.0,1048.2 L1203.5,1048.8 L1204.0,1042.3 L1204.5,1044.9 L1205.0,1039.1 L1205.5,1042.3 L1206.0,1036.1 L1206.5,1040.0 L1207.0,1032.6 L1207.5,1038.2 L1208.0,1029.4 L1208.5,1036.7 L1209.0,1028.9 L1209.5,1038.4 L1210.0,1033.0 L1210.5,1041.0 L1211.0,1036.6 L1211.5,1043.5 L1212.0,1039.8 L1212.5,1046.0 L1213.0,1043.0 L1213.5,1048.2 L1214.0,1046.3 L1214.5,1050.8 L1215.0,1048.7 L1215.5,1054.1 L1216.0,1051.3 L1216.5,1057.2 L1217.0,1054.6 L1217.5,1060.4 L1218.0,1059.2 L1218.5,1065.5 L1219.0,1064.9 L1219.5,1070.7 L1220.0,1070.6 L1220.5,1076.1 L1221.0,1076.2 L1221.5,1081.5 L1222.0,1081.9 L1222.5,1086.6 L1223.0,1087.4 L1223.5,1091.6 L1224.0,1093.3 L1224.5,1098.0 L1225.0,1099.8 L1225.5,1104.7 L1226.0,1106.2 L1226.5,1111.5 L1227.0,1112.4 L1227.5,1118.3 L1228.0,1118.5 L1228.5,1124.9 L1229.0,1124.6 L1229.5,1131.2 L1230.0,1129.1 L1230.5,1134.8 L1231.0,1132.3 L1231.5,1138.4 L1232.0,1135.2 L1232.5,1141.8 L1233.0,1138.5 L1233.5,1145.9 L1234.0,1142.3 L1234.5,1150.4 L1235.0,1145.8 L1235.5,1154.9 L1236.0,1148.7 L1236.5,1159.0 L1237.0,1150.9 L1237.5,1162.2 L1238.0,1152.0 L1238.5,1165.2 L1239.0,1153.4 L1239.5,1167.7 L1240.0,1155.7 L1240.5,1169.5 L1241.0,1158.6 L1241.5,1171.4 L1242.0,1161.3 L1242.5,1173.2 L1243.0,1163.0 L1243.5,1174.5 L1244.0,1164.2 L1244.5,1174.5 L1245.0,1165.7 L1245.5,1174.3 L1246.0,1167.4 L1246.5,1175.0 L1247.0,1168.0 L1247.5,1177.4 L1248.0,1168.0 L1248.5,1179.8 L1249.0,1168.5 L1249.5,1180.8 L1250.0,1169.4 L1250.5,1181.2 L1251.0,1169.8 L1251.5,1182.4 L1252.0,1169.1 L1252.5,1184.3 L1253.0,1167.7 L1253.5,1185.2 L1254.0,1166.7 L1254.5,1184.4 L1255.0,1166.5 L1255.5,1183.0 L1256.0,1166.9 L1256.5,1182.3 L1257.0,1167.3 L1257.5,1182.6 L1258.0,1167.8 L1258.5,1183.6 L1259.0,1168.3 L1259.5,1184.8 L1260.0,1168.9 L1260.5,1186.8 L1261.0,1169.5 L1261.5,1189.8 L1262.0,1170.2 L1262.5,1192.1 L1263.0,1172.5 L1263.5,1192.6 L1264.0,1174.2 L1264.5,1191.7 L1265.0,1174.8 L1265.5,1190.0 L1266.0,1174.2 L1266.5,1189.7 L1267.0,1173.2 L1267.5,1190.7 L1268.0,1173.2 L1268.5,1191.5 L1269.0,1174.1 L1269.5,1191.1 L1270.0,1174.6 L1270.5,1189.1 L1271.0,1173.9 L1271.5,1186.3 L1272.0,1173.0 L1272.5,1184.8 L1273.0,1173.0 L1273.5,1185.7 L1274.0,1173.9 L1274.5,1187.7 L1275.0,1174.5 L1275.5,1188.5 L1276.0,1173.8 L1276.5,1187.7 L1277.0,1172.3 L1277.5,1186.7 L1278.0,1171.6 L1278.5,1186.3 L1279.0,1171.8 L1279.5,1186.1 L1280.0,1172.5 L1280.5,1185.4 L1281.0,1173.2 L1281.5,1183.8 L1282.0,1173.7 L1282.5,1183.0 L1283.0,1173.6 L1283.5,1183.1 L1284.0,1172.9 L1284.5,1184.5 L1285.0,1172.4 L1285.5,1186.7 L1286.0,1172.8 L1286.5,1188.8 L1287.0,1174.3 L1287.5,1190.7 L1288.0,1176.2 L1288.5,1192.1 L1289.0,1177.4 L1289.5,1193.1 L1290.0,1177.3 L1290.5,1193.1 L1291.0,1176.3 L1291.5,1192.9 L1292.0,1175.8 L1292.5,1192.5 L1293.0,1175.3 L1293.5,1189.9 L1294.0,1173.5 L1294.5,1187.2 L1295.0,1171.0 L1295.5,1185.5 L1296.0,1170.0 L1296.5,1185.2 L1297.0,1171.1 L1297.5,1185.6 L1298.0,1173.2 L1298.5,1185.7 L1299.0,1174.2 L1299.5,1185.2 L1300.0,1172.9 L1300.5,1184.6 L1301.0,1170.0 L1301.5,1184.6 L1302.0,1167.5 L1302.5,1185.3 L1303.0,1166.6 L1303.5,1185.7 L1304.0,1166.9 L1304.5,1185.4 L1305.0,1168.1 L1305.5,1185.1 L1306.0,1170.2 L1306.5,1185.4 L1307.0,1172.5 L1307.5,1186.1 L1308.0,1173.4 L1308.5,1186.4 L1309.0,1172.0 L1309.5,1186.0 L1310.0,1169.5 L1310.5,1184.3 L1311.0,1167.2 L1311.5,1181.5 L1312.0,1165.6 L1312.5,1179.1 L1313.0,1165.1 L1313.5,1179.0 L1314.0,1165.0 L1314.5,1181.2 L1315.0,1164.6 L1315.5,1183.5 L1316.0,1164.0 L1316.5,1184.0 L1317.0,1164.0 L1317.5,1183.8 L1318.0,1164.9 L1318.5,1183.6 L1319.0,1166.1 L1319.5,1182.1 L1320.0,1166.7 L1320.5,1179.2 L1321.0,1166.6 L1321.5,1176.7 L1322.0,1166.4 L1322.5,1175.7 L1323.0,1166.9 L1323.5,1176.1 L1324.0,1167.7 L1324.5,1177.9 L1325.0,1167.9 L1325.5,1180.5 L1326.0,1167.7 L1326.5,1182.0 L1327.0,1168.3 L1327.5,1181.6 L1328.0,1169.2 L1328.5,1180.1 L1329.0,1169.1 L1329.5,1178.5 L1330.0,1168.2 L1330.5,1177.2 L1331.0,1167.5 L1331.5,1176.7 L1332.0,1167.7 L1332.5,1177.9 L1333.0,1168.8 L1333.5,1180.0 L1334.0,1170.1 L1334.5,1181.9 L1335.0,1170.6 L1335.5,1182.4 L1336.0,1169.8 L1336.5,1181.1 L1337.0,1168.8 L1337.5,1179.5 L1338.0,1168.1 L1338.5,1179.1 L1339.0,1167.4 L1339.5,1180.2 L1340.0,1166.6 L1340.5,1182.6 L1341.0,1165.8 L1341.5,1185.4 L1342.0,1165.5 L1342.5,1186.1 L1343.0,1165.2 L1343.5,1185.4 L1344.0,1165.0 L1344.5,1183.4 L1345.0,1166.1 L1345.5,1182.1 L1346.0,1168.3 L1346.5,1181.4 L1347.0,1170.6 L1347.5,1181.1 L1348.0,1171.9 L1348.5,1182.2 L1349.0,1172.9 L1349.5,1184.1 L1350.0,1174.1 L1350.5,1185.2 L1351.0,1175.5 L1351.5,1185.1 L1352.0,1177.2 L1352.5,1184.5 L1353.0,1178.6 L1353.5,1183.6 L1354.0,1179.1 L1354.5,1183.5 L1355.0,1179.5 L1355.5,1183.9 L1356.0,1179.9 L1356.5,1185.5 L1357.0,1179.5 L1357.5,1187.9 L1358.0,1176.7 L1358.5,1189.6 L1359.0,1175.3 L1359.5,1190.9 L1360.0,1175.5 L1360.5,1192.6 L1361.0,1177.2 L1361.5,1194.4 L1362.0,1179.0 L1362.5,1195.1 L1363.0,1179.0 L1363.5,1194.8 L1364.0,1177.4 L1364.5,1194.0 L1365.0,1175.7 L1365.5,1193.4 L1366.0,1174.5 L1366.5,1192.7 L1367.0,1173.7 L1367.5,1192.3 L1368.0,1173.7 L1368.5,1192.4 L1369.0,1174.7 L1369.5,1193.3 L1370.0,1176.3 L1370.5,1194.9 L1371.0,1177.7 L1371.5,1195.9 L1372.0,1178.6 L1372.5,1195.7 L1373.0,1179.9 L1373.5,1195.0 L1374.0,1181.9 L1374.5,1195.0 L1375.0,1183.8 L1375.5,1195.4 L1376.0,1184.4 L1376.5,1195.6 L1377.0,1184.2 L1377.5,1195.4 L1378.0,1183.8 L1378.5,1194.8 L1379.0,1182.9 L1379.5,1194.5 L1380.0,1181.2 L1380.5,1194.6 L1381.0,1179.6 L1381.5,1194.9 L1382.0,1179.5 L1382.5,1195.1 L1383.0,1180.9 L1383.5,1195.3 L1384.0,1182.0 L1384.5,1194.8 L1385.0,1181.7 L1385.5,1193.3 L1386.0,1181.1 L1386.5,1191.2 L1387.0,1181.9 L1387.5,1190.0 L1388.0,1182.3 L1388.5,1189.2 L1389.0,1181.0 L1389.5,1188.6 L1390.0,1179.8 L1390.5,1187.6 L1391.0,1178.1 L1391.5,1186.4 L1392.0,1175.8 L1392.5,1184.8 L1393.0,1173.7 L1393.5,1182.4 L1394.0,1172.3 L1394.5,1179.8 L1395.0,1171.6 L1395.5,1178.0 L1396.0,1170.9 L1396.5,1177.7 L1397.0,1168.7 L1397.5,1177.3 L1398.0,1164.9 L1398.5,1176.5 L1399.0,1162.7 L1399.5,1175.7 L1400.0,1161.9 L1400.5,1174.7 L1401.0,1162.3 L1401.5,1174.2 L1402.0,1163.3 L1402.5,1173.7 L1403.0,1164.5 L1403.5,1172.6 L1404.0,1164.9 L1404.5,1171.6 L1405.0,1163.7 L1405.5,1172.3 L1406.0,1161.5 L1406.5,1174.7 L1407.0,1159.5 L1407.5,1176.9 L1408.0,1158.3 L1408.5,1177.5 L1409.0,1158.6 L1409.5,1177.3 L1410.0,1159.9 L1410.5,1177.3 L1411.0,1160.7 L1411.5,1178.0 L1412.0,1160.6 L1412.5,1179.2 L1413.0,1160.1 L1413.5,1180.4 L1414.0,1160.5 L1414.5,1180.8 L1415.0,1161.0 L1415.5,1180.1 L1416.0,1161.4 L1416.5,1179.1 L1417.0,1162.0 L1417.5,1179.0 L1418.0,1165.2 L1418.5,1180.5 L1419.0,1168.5 L1419.5,1183.3 L1420.0,1169.7 L1420.5,1185.6 L1421.0,1168.6 L1421.5,1186.1 L1422.0,1167.6 L1422.5,1186.6 L1423.0,1168.2 L1423.5,1187.1 L1424.0,1169.9 L1424.5,1187.5 L1425.0,1170.7 L1425.5,1187.9 L1426.0,1170.2 L1426.5,1188.1 L1427.0,1169.0 L1427.5,1187.3 L1428.0,1168.4 L1428.5,1185.8 L1429.0,1169.1 L1429.5,1183.4 L1430.0,1169.2 L1430.5,1181.9 L1431.0,1168.6 L1431.5,1181.3 L1432.0,1167.6 L1432.5,1180.5 L1433.0,1166.8 L1433.5,1179.2 L1434.0,1166.0 L1434.5,1177.8 L1435.0,1164.3 L1435.5,1176.4 L1436.0,1162.4 L1436.5,1175.4 L1437.0,1162.0 L1437.5,1175.7 L1438.0,1161.7 L1438.5,1177.1 L1439.0,1163.5 L1439.5,1178.1 L1440.0,1165.7 L1440.5,1177.7 L1441.0,1167.1 L1441.5,1176.9 L1442.0,1167.0 L1442.5,1176.8 L1443.0,1165.4 L1443.5,1177.3 L1444.0,1163.8 L1444.5,1178.3 L1445.0,1163.3 L1445.5,1178.6 L1446.0,1163.8 L1446.5,1177.7 L1447.0,1164.4 L1447.5,1175.4 L1448.0,1164.4 L1448.5,1172.9 L1449.0,1163.4 L1449.5,1170.7 L1450.0,1162.6 L1450.5,1169.2 L1451.0,1162.1 L1451.5,1168.0 L1452.0,1160.8 L1452.5,1167.5 L1453.0,1158.7 L1453.5,1167.2 L1454.0,1157.5 L1454.5,1166.1 L1455.0,1156.9 L1455.5,1165.4 L1456.0,1156.1 L1456.5,1166.3 L1457.0,1155.1 L1457.5,1168.8 L1458.0,1153.9 L1458.5,1171.7 L1459.0,1152.3 L1459.5,1172.0 L1460.0,1151.3 L1460.5,1172.4 L1461.0,1152.5 L1461.5,1171.8 L1462.0,1154.0 L1462.5,1170.0 L1463.0,1155.2 L1463.5,1169.3 L1464.0,1157.0 L1464.5,1169.8 L1465.0,1159.8 L1465.5,1171.2 L1466.0,1161.8 L1466.5,1173.2 L1467.0,1162.1 L1467.5,1175.7 L1468.0,1162.0 L1468.5,1178.0 L1469.0,1163.1 L1469.5,1178.9 L1470.0,1165.4 L1470.5,1178.4 L1471.0,1167.7 L1471.5,1177.4 L1472.0,1169.0 L1472.5,1176.7 L1473.0,1169.3 L1473.5,1176.2 L1474.0,1167.7 L1474.5,1176.7 L1475.0,1165.3 L1475.5,1178.7 L1476.0,1163.8 L1476.5,1181.7 L1477.0,1164.3 L1477.5,1184.3 L1478.0,1166.1 L1478.5,1186.0 L1479.0,1167.3 L1479.5,1186.5 L1480.0,1167.5 L1480.5,1185.4 L1481.0,1166.9 L1481.5,1183.9 L1482.0,1166.4 L1482.5,1184.0 L1483.0,1166.6 L1483.5,1185.1 L1484.0,1167.5 L1484.5,1186.0 L1485.0,1168.7 L1485.5,1186.1 L1486.0,1169.4 L1486.5,1185.5 L1487.0,1169.4 L1487.5,1184.3 L1488.0,1169.4 L1488.5,1183.0 L1489.0,1169.5 L1489.5,1182.3 L1490.0,1169.2 L1490.5,1183.2 L1491.0,1168.7 L1491.5,1186.0 L1492.0,1168.8 L1492.5,1189.2 L1493.0,1169.2 L1493.5,1189.7 L1494.0,1169.6 L1494.5,1189.8 L1495.0,1169.7 L1495.5,1189.8 L1496.0,1170.0 L1496.5,1189.7 L1497.0,1170.9 L1497.5,1189.4 L1498.0,1172.4 L1498.5,1186.7 L1499.0,1173.8 L1499.5,1184.6 L1500.0,1174.2 L1500.5,1183.6 L1501.0,1173.7 L1501.5,1183.2 L1502.0,1173.3 L1502.5,1183.0 L1503.0,1173.7 L1503.5,1183.4 L1504.0,1174.6 L1504.5,1184.8 L1505.0,1175.4 L1505.5,1186.8 L1506.0,1176.0 L1506.5,1187.8 L1507.0,1176.2 L1507.5,1187.1 L1508.0,1175.4 L1508.5,1185.4 L1509.0,1174.0 L1509.5,1183.8 L1510.0,1173.1 L1510.5,1183.5 L1511.0,1173.1 L1511.5,1184.7 L1512.0,1173.9 L1512.5,1186.8 L1513.0,1175.3 L1513.5,1189.3 L1514.0,1176.5 L1514.5,1191.5 L1515.0,1176.2 L1515.5,1192.2 L1516.0,1174.6 L1516.5,1190.4 L1517.0,1173.2 L1517.5,1187.7 L1518.0,1172.2 L1518.5,1186.8 L1519.0,1171.2 L1519.5,1188.5 L1520.0,1170.7 L1520.5,1191.2 L1521.0,1172.4 L1521.5,1192.2 L1522.0,1175.3 L1522.5,1192.0 L1523.0,1176.5 L1523.5,1191.9 L1524.0,1174.8 L1524.5,1191.4 L1525.0,1172.2 L1525.5,1190.5 L1526.0,1170.9 L1526.5,1190.3 L1527.0,1170.8 L1527.5,1190.1 L1528.0,1171.2 L1528.5,1189.2 L1529.0,1171.7 L1529.5,1187.8 L1530.0,1172.6 L1530.5,1186.6 L1531.0,1173.7 L1531.5,1185.1 L1532.0,1174.4 L1532.5,1183.6 L1533.0,1174.4 L1533.5,1182.7 L1534.0,1174.9 L1534.5,1182.8 L1535.0,1176.4 L1535.5,1184.0 L1536.0,1178.0 L1536.5,1186.9 L1537.0,1178.6 L1537.5,1189.6 L1538.0,1178.3 L1538.5,1190.3 L1539.0,1177.4 L1539.5,1189.3 L1540.0,1176.3 L1540.5,1188.0 L1541.0,1175.3 L1541.5,1187.4 L1542.0,1174.7 L1542.5,1187.5 L1543.0,1175.2 L1543.5,1188.0 L1544.0,1176.4 L1544.5,1188.9 L1545.0,1178.1 L1545.5,1190.4 L1546.0,1179.8 L1546.5,1192.5 L1547.0,1180.8 L1547.5,1194.8 L1548.0,1180.7 L1548.5,1195.3 L1549.0,1179.6 L1549.5,1195.5 L1550.0,1178.0 L1550.5,1195.1 L1551.0,1176.8 L1551.5,1193.5 L1552.0,1176.9 L1552.5,1192.7 L1553.0,1178.4 L1553.5,1192.7 L1554.0,1181.1 L1554.5,1193.0 L1555.0,1183.1 L1555.5,1193.2 L1556.0,1183.4 L1556.5,1192.7 L1557.0,1183.4 L1557.5,1191.8 L1558.0,1181.6 L1558.5,1190.6 L1559.0,1180.8 L1559.5,1189.6 L1560.0,1180.7 L1560.5,1189.3 L1561.0,1180.4 L1561.5,1190.4 L1562.0,1179.3 L1562.5,1193.3 L1563.0,1178.2 L1563.5,1196.3 L1564.0,1177.9 L1564.5,1197.2 L1565.0,1178.1 L1565.5,1195.7 L1566.0,1177.7 L1566.5,1193.5 L1567.0,1177.8 L1567.5,1192.3 L1568.0,1178.0 L1568.5,1192.1 L1569.0,1178.3 L1569.5,1192.0 L1570.0,1180.0 L1570.5,1192.3 L1571.0,1181.6 L1571.5,1194.0 L1572.0,1182.6 L1572.5,1195.9 L1573.0,1183.4 L1573.5,1196.2 L1574.0,1183.7 L1574.5,1194.8 L1575.0,1183.9 L1575.5,1193.2 L1576.0,1184.1 L1576.5,1193.4 L1577.0,1184.6 L1577.5,1194.2 L1578.0,1185.3 L1578.5,1195.9 L1579.0,1186.4 L1579.5,1197.3 L1580.0,1187.5 L1580.5,1197.7 L1581.0,1187.7 L1581.5,1197.4 L1582.0,1187.2 L1582.5,1196.4 L1583.0,1186.6 L1583.5,1195.3 L1584.0,1187.1 L1584.5,1195.5 L1585.0,1188.3 L1585.5,1195.6 L1586.0,1188.9 L1586.5,1195.6 L1587.0,1188.2 L1587.5,1198.6 L1588.0,1187.1 L1588.5,1202.1 L1589.0,1186.2 L1589.5,1204.9 L1590.0,1185.4 L1590.5,1204.9 L1591.0,1184.7 L1591.5,1204.9 L1592.0,1183.7 L1592.5,1205.0 L1593.0,1182.3 L1593.5,1203.5 L1594.0,1182.4 L1594.5,1202.3 L1595.0,1183.1 L1595.5,1201.3 L1596.0,1185.5 L1596.5,1200.0 L1597.0,1186.7 L1597.5,1198.8 L1598.0,1186.4 L1598.5,1199.2 L1599.0,1186.1 L1599.5,1201.1 L1600.0,1186.3 L1600.5,1203.1 L1601.0,1187.0 L1601.5,1204.3 L1602.0,1188.2 L1602.5,1204.8 L1603.0,1189.2 L1603.5,1205.3 L1604.0,1189.1 L1604.5,1205.3 L1605.0,1187.5 L1605.5,1205.0 L1606.0,1185.2 L1606.5,1203.2 L1607.0,1183.7 L1607.5,1198.9 L1608.0,1183.7 L1608.5,1195.2 L1609.0,1184.0 L1609.5,1195.1 L1610.0,1183.7 L1610.5,1196.6 L1611.0,1183.6 L1611.5,1198.6 L1612.0,1184.2 L1612.5,1199.1 L1613.0,1185.3 L1613.5,1198.8 L1614.0,1186.7 L1614.5,1197.9 L1615.0,1188.2 L1615.5,1196.8 L1616.0,1188.8 L1616.5,1197.3 L1617.0,1187.7 L1617.5,1198.5 L1618.0,1186.2 L1618.5,1202.3 L1619.0,1185.5 L1619.5,1206.1 L1620.0,1185.6 L1620.5,1208.1 L1621.0,1186.2 L1621.5,1208.3 L1622.0,1187.5 L1622.5,1208.4 L1623.0,1188.7 L1623.5,1208.4 L1624.0,1188.7 L1624.5,1208.3 L1625.0,1187.1 L1625.5,1207.5 L1626.0,1185.3 L1626.5,1205.3 L1627.0,1185.1 L1627.5,1203.8 L1628.0,1185.3 L1628.5,1204.0 L1629.0,1188.0 L1629.5,1205.1 L1630.0,1191.0 L1630.5,1205.9 L1631.0,1192.6 L1631.5,1205.9 L1632.0,1192.0 L1632.5,1204.9 L1633.0,1189.6 L1633.5,1202.7 L1634.0,1187.1 L1634.5,1200.0 L1635.0,1186.5 L1635.5,1198.4 L1636.0,1187.3 L1636.5,1199.0 L1637.0,1188.0 L1637.5,1201.9 L1638.0,1187.9 L1638.5,1205.1 L1639.0,1187.3 L1639.5,1206.7 L1640.0,1186.3 L1640.5,1206.2 L1641.0,1185.6 L1641.5,1204.8 L1642.0,1186.2 L1642.5,1203.3 L1643.0,1188.2 L1643.5,1202.2 L1644.0,1190.3 L1644.5,1201.8 L1645.0,1191.2 L1645.5,1201.6 L1646.0,1190.9 L1646.5,1201.0 L1647.0,1190.6 L1647.5,1200.4 L1648.0,1190.8 L1648.5,1199.9 L1649.0,1190.5 L1649.5,1199.6 L1650.0,1189.7 L1650.5,1199.7 L1651.0,1189.5 L1651.5,1200.7 L1652.0,1190.3 L1652.5,1202.2 L1653.0,1191.2 L1653.5,1203.2 L1654.0,1191.3 L1654.5,1202.9 L1655.0,1191.0 L1655.5,1201.5 L1656.0,1190.9 L1656.5,1200.8 L1657.0,1191.2 L1657.5,1201.0 L1658.0,1190.5 L1658.5,1201.2 L1659.0,1189.0 L1659.5,1200.5 L1660.0,1187.8 L1660.5,1200.0 L1661.0,1187.4 L1661.5,1200.8 L1662.0,1187.2 L1662.5,1202.3 L1663.0,1186.9 L1663.5,1202.0 L1664.0,1186.0 L1664.5,1199.8 L1665.0,1183.8 L1665.5,1196.8 L1666.0,1181.0 L1666.5,1194.2 L1667.0,1180.1 L1667.5,1194.0 L1668.0,1180.9 L1668.5,1196.0 L1669.0,1183.1 L1669.5,1199.4 L1670.0,1184.9 L1670.5,1202.3 L1671.0,1185.7 L1671.5,1203.6 L1672.0,1185.6 L1672.5,1204.0 L1673.0,1185.0 L1673.5,1204.5 L1674.0,1185.3 L1674.5,1204.7 L1675.0,1186.8 L1675.5,1204.2 L1676.0,1189.2 L1676.5,1203.5 L1677.0,1191.5 L1677.5,1203.2 L1678.0,1192.7 L1678.5,1202.6 L1679.0,1192.8 L1679.5,1201.4 L1680.0,1192.3 L1680.5,1199.7 L1681.0,1190.9 L1681.5,1198.6 L1682.0,1188.9 L1682.5,1197.7 L1683.0,1187.7 L1683.5,1197.3 L1684.0,1187.9 L1684.5,1197.3 L1685.0,1188.7 L1685.5,1199.9 L1686.0,1189.6 L1686.5,1203.1 L1687.0,1190.7 L1687.5,1204.8 L1688.0,1191.7 L1688.5,1204.8 L1689.0,1192.3 L1689.5,1203.6 L1690.0,1192.3 L1690.5,1201.7 L1691.0,1191.5 L1691.5,1200.4 L1692.0,1190.7 L1692.5,1200.7 L1693.0,1190.1 L1693.5,1201.2 L1694.0,1189.4 L1694.5,1200.9 L1695.0,1188.7 L1695.5,1201.1 L1696.0,1188.4 L1696.5,1202.9 L1697.0,1188.6 L1697.5,1204.7 L1698.0,1189.5 L1698.5,1205.2 L1699.0,1190.9 L1699.5,1204.8 L1700.0,1192.2 L1700.5,1204.2 L1701.0,1192.4 L1701.5,1203.2 L1702.0,1191.3 L1702.5,1202.0 L1703.0,1189.6 L1703.5,1200.5 L1704.0,1188.3 L1704.5,1198.6 L1705.0,1187.9 L1705.5,1198.8 L1706.0,1188.8 L1706.5,1199.0 L1707.0,1189.7 L1707.5,1199.1 L1708.0,1189.1 L1708.5,1199.3 L1709.0,1187.3 L1709.5,1202.0 L1710.0,1185.7 L1710.5,1203.8 L1711.0,1185.6 L1711.5,1204.2 L1712.0,1185.6 L1712.5,1203.3 L1713.0,1185.7 L1713.5,1202.1 L1714.0,1188.0 L1714.5,1201.8 L1715.0,1191.0 L1715.5,1202.1 L1716.0,1193.3 L1716.5,1202.4 L1717.0,1194.0 L1717.5,1202.2 L1718.0,1193.1 L1718.5,1202.3 L1719.0,1191.3 L1719.5,1203.6 L1720.0,1189.7 L1720.5,1205.4 L1721.0,1189.1 L1721.5,1206.4 L1722.0,1189.1 L1722.5,1206.0 L1723.0,1189.5 L1723.5,1204.7 L1724.0,1190.2 L1724.5,1203.6 L1725.0,1191.6 L1725.5,1203.6 L1726.0,1193.1 L1726.5,1204.7 L1727.0,1193.9 L1727.5,1205.9 L1728.0,1194.0 L1728.5,1206.5 L1729.0,1193.9 L1729.5,1206.5 L1730.0,1193.0 L1730.5,1206.0 L1731.0,1191.2 L1731.5,1204.9 L1732.0,1189.3 L1732.5,1204.3 L1733.0,1187.9 L1733.5,1205.4 L1734.0,1187.1 L1734.5,1207.2 L1735.0,1186.8 L1735.5,1208.1 L1736.0,1185.9 L1736.5,1207.8 L1737.0,1185.1 L1737.5,1206.5 L1738.0,1184.7 L1738.5,1204.6 L1739.0,1184.6 L1739.5,1202.2 L1740.0,1185.1 L1740.5,1199.8 L1741.0,1184.5 L1741.5,1197.6 L1742.0,1183.2 L1742.5,1196.6 L1743.0,1183.0 L1743.5,1196.4 L1744.0,1183.1 L1744.5,1196.8 L1745.0,1184.1 L1745.5,1197.3 L1746.0,1187.6 L1746.5,1197.7 L1747.0,1188.0 L1747.5,1200.4 L1748.0,1185.5 L1748.5,1203.6 L1749.0,1185.4 L1749.5,1206.4 L1750.0,1185.8 L1750.5,1208.6 L1751.0,1188.6 L1751.5,1208.9 L1752.0,1193.6 L1752.5,1209.3 L1753.0,1196.0 L1753.5,1209.6 L1754.0,1196.3 L1754.5,1209.5 L1755.0,1194.7 L1755.5,1208.1 L1756.0,1193.2 L1756.5,1205.9 L1757.0,1193.0 L1757.5,1203.7 L1758.0,1194.5 L1758.5,1203.5 L1759.0,1196.7 L1759.5,1205.4 L1760.0,1197.7 L1760.5,1207.7 L1761.0,1196.8 L1761.5,1209.0 L1762.0,1195.0 L1762.5,1209.4 L1763.0,1194.0 L1763.5,1209.5 L1764.0,1194.9 L1764.5,1209.7 L1765.0,1197.2 L1765.5,1210.1 L1766.0,1199.2 L1766.5,1210.6 L1767.0,1200.0 L1767.5,1210.0 L1768.0,1199.4 L1768.5,1208.4 L1769.0,1198.1 L1769.5,1207.5 L1770.0,1196.5 L1770.5,1208.5 L1771.0,1194.8 L1771.5,1210.2 L1772.0,1193.3 L1772.5,1210.6 L1773.0,1192.1 L1773.5,1209.1 L1774.0,1191.3 L1774.5,1207.6 L1775.0,1191.1 L1775.5,1207.8 L1776.0,1191.9 L1776.5,1209.0 L1777.0,1194.4 L1777.5,1209.3 L1778.0,1197.8 L1778.5,1207.8 L1779.0,1200.3 L1779.5,1205.8 L1780.0,1200.3 L1780.5,1205.4 L1781.0,1200.4 L1781.5,1206.6 L1782.0,1200.1 L1782.5,1208.0 L1783.0,1199.1 L1783.5,1208.8 L1784.0,1198.1 L1784.5,1209.3 L1785.0,1196.5 L1785.5,1209.7 L1786.0,1194.0 L1786.5,1210.3 L1787.0,1191.6 L1787.5,1211.3 L1788.0,1191.7 L1788.5,1212.1 L1789.0,1191.7 L1789.5,1211.9 L1790.0,1193.9 L1790.5,1210.8 L1791.0,1195.5 L1791.5,1209.8 L1792.0,1195.6 L1792.5,1209.2 L1793.0,1195.4 L1793.5,1208.4 L1794.0,1196.5 L1794.5,1207.5 L1795.0,1198.1 L1795.5,1207.5 L1796.0,1198.8 L1796.5,1208.7 L1797.0,1198.8 L1797.5,1210.3 L1798.0,1199.5 L1798.5,1211.3 L1799.0,1200.7 L1799.5,1212.1 L1800.0,1201.0 L1800.5,1213.3 L1801.0,1199.8 L1801.5,1214.5 L1802.0,1197.8 L1802.5,1214.6 L1803.0,1196.0 L1803.5,1213.5 L1804.0,1195.2 L1804.5,1212.0 L1805.0,1196.2 L1805.5,1210.7 L1806.0,1198.4 L1806.5,1209.8 L1807.0,1200.0 L1807.5,1209.3 L1808.0,1200.4 L1808.5,1209.4 L1809.0,1200.4 L1809.5,1210.1 L1810.0,1200.6 L1810.5,1210.9 L1811.0,1200.3 L1811.5,1211.4 L1812.0,1199.0 L1812.5,1210.7 L1813.0,1197.6 L1813.5,1208.8 L1814.0,1196.7 L1814.5,1206.7 L1815.0,1196.2 L1815.5,1206.2 L1816.0,1196.1 L1816.5,1207.5 L1817.0,1196.6 L1817.5,1209.0 L1818.0,1197.3 L1818.5,1209.6 L1819.0,1197.7 L1819.5,1209.1 L1820.0,1197.9 L1820.5,1208.7 L1821.0,1197.8 L1821.5,1209.3 L1822.0,1197.9 L1822.5,1210.9 L1823.0,1198.9 L1823.5,1211.9 L1824.0,1200.3 L1824.5,1210.8 L1825.0,1200.1 L1825.5,1208.1 L1826.0,1199.9 L1826.5,1205.8 L1827.0,1197.8 L1827.5,1205.8 L1828.0,1195.3 L1828.5,1208.0 L1829.0,1192.7 L1829.5,1210.4 L1830.0,1190.9 L1830.5,1211.2 L1831.0,1190.2 L1831.5,1210.2 L1832.0,1190.1 L1832.5,1208.6 L1833.0,1190.3 L1833.5,1207.6 L1834.0,1190.5 L1834.5,1207.5 L1835.0,1191.1 L1835.5,1208.4 L1836.0,1192.9 L1836.5,1209.4 L1837.0,1193.5 L1837.5,1209.8 L1838.0,1192.4 L1838.5,1209.7 L1839.0,1191.4 L1839.5,1209.8 L1840.0,1191.4 L1840.5,1210.1 L1841.0,1191.5 L1841.5,1210.2 L1842.0,1193.6 L1842.5,1210.3 L1843.0,1195.5 L1843.5,1210.4 L1844.0,1196.8 L1844.5,1210.3 L1845.0,1197.3 L1845.5,1209.1 L1846.0,1196.2 L1846.5,1207.2 L1847.0,1193.7 L1847.5,1205.1 L1848.0,1191.1 L1848.5,1204.2 L1849.0,1190.0 L1849.5,1204.9 L1850.0,1189.9 L1850.5,1206.3 L1851.0,1191.2 L1851.5,1207.0 L1852.0,1192.9 L1852.5,1206.9 L1853.0,1193.8 L1853.5,1207.1 L1854.0,1193.0 L1854.5,1207.7 L1855.0,1191.1 L1855.5,1208.3 L1856.0,1189.8 L1856.5,1209.3 L1857.0,1190.1 L1857.5,1211.3 L1858.0,1191.5 L1858.5,1212.4 L1859.0,1192.7 L1859.5,1212.4 L1860.0,1193.6 L1860.5,1212.3 L1861.0,1195.0 L1861.5,1212.3 L1862.0,1197.2 L1862.5,1212.3 L1863.0,1198.8 L1863.5,1212.3 L1864.0,1198.8 L1864.5,1212.4 L1865.0,1198.8 L1865.5,1212.4 L1866.0,1198.1 L1866.5,1212.4 L1867.0,1195.3 L1867.5,1212.0 L1868.0,1192.2 L1868.5,1212.5 L1869.0,1191.3 L1869.5,1212.5 L1870.0,1193.4 L1870.5,1212.6 L1871.0,1197.0 L1871.5,1212.3 L1872.0,1199.1 L1872.5,1211.6 L1873.0,1198.3 L1873.5,1211.9 L1874.0,1195.7 L1874.5,1212.7 L1875.0,1193.4 L1875.5,1213.1 L1876.0,1192.6 L1876.5,1212.1 L1877.0,1192.7 L1877.5,1209.8 L1878.0,1193.1 L1878.5,1207.5 L1879.0,1193.6 L1879.5,1206.5 L1880.0,1194.2 L1880.5,1207.4 L1881.0,1194.2 L1881.5,1209.6 L1882.0,1193.1 L1882.5,1211.5 L1883.0,1191.7 L1883.5,1212.0 L1884.0,1191.2 L1884.5,1211.4 L1885.0,1191.6 L1885.5,1210.8 L1886.0,1192.2 L1886.5,1210.6 L1887.0,1192.5 L1887.5,1210.2 L1888.0,1192.6 L1888.5,1209.4 L1889.0,1192.8 L1889.5,1209.3 L1890.0,1193.3 L1890.5,1209.5 L1891.0,1193.3 L1891.5,1209.4 L1892.0,1192.2 L1892.5,1210.1 L1893.0,1191.8 L1893.5,1212.5 L1894.0,1191.7 L1894.5,1214.5 L1895.0,1191.7 L1895.5,1214.4 L1896.0,1192.7 L1896.5,1214.2 L1897.0,1193.5 L1897.5,1213.6 L1898.0,1193.5 L1898.5,1210.6 L1899.0,1193.2 L1899.5,1208.7 L1900.0,1193.2 L1900.5,1207.7 L1901.0,1193.3 L1901.5,1207.2 L1902.0,1193.7 L1902.5,1207.4 L1903.0,1194.1 L1903.5,1207.7 L1904.0,1194.2 L1904.5,1207.4 L1905.0,1193.7 L1905.5,1206.5 L1906.0,1193.0 L1906.5,1205.1 L1907.0,1193.1 L1907.5,1205.0 L1908.0,1194.2 L1908.5,1206.0 L1909.0,1195.5 L1909.5,1208.6 L1910.0,1196.2 L1910.5,1210.9 L1911.0,1196.2 L1911.5,1211.8 L1912.0,1195.6 L1912.5,1211.8 L1913.0,1194.7 L1913.5,1211.4 L1914.0,1194.0 L1914.5,1211.2 L1915.0,1193.7 L1915.5,1210.9 L1916.0,1194.0 L1916.5,1209.9 L1917.0,1193.9 L1917.5,1208.0 L1918.0,1193.0 L1918.5,1206.0 L1919.0,1192.3 L1919.5,1204.4 L1920.0,1193.2 L1920.5,1203.6 L1921.0,1194.4 L1921.5,1204.1 L1922.0,1193.5 L1922.5,1205.8 L1923.0,1191.2 L1923.5,1207.3 L1924.0,1190.0 L1924.5,1207.4 L1925.0,1190.5 L1925.5,1206.3 L1926.0,1191.1 L1926.5,1205.2 L1927.0,1191.0 L1927.5,1205.0 L1928.0,1190.3 L1928.5,1206.0 L1929.0,1189.4 L1929.5,1208.3 L1930.0,1189.3 L1930.5,1209.6 L1931.0,1190.5 L1931.5,1209.3 L1932.0,1191.9 L1932.5,1209.1 L1933.0,1192.3 L1933.5,1209.1 L1934.0,1191.5 L1934.5,1208.7 L1935.0,1190.3 L1935.5,1208.2 L1936.0,1189.3 L1936.5,1208.8 L1937.0,1188.3 L1937.5,1209.6 L1938.0,1187.7 L1938.5,1209.8 L1939.0,1188.5 L1939.5,1209.8 L1940.0,1190.6 L1940.5,1209.6 L1941.0,1192.4 L1941.5,1208.9 L1942.0,1193.1 L1942.5,1208.1 L1943.0,1192.5 L1943.5,1207.3 L1944.0,1191.4 L1944.5,1206.7 L1945.0,1190.8 L1945.5,1206.6 L1946.0,1191.9 L1946.5,1207.4 L1947.0,1193.9" stroke="#000" stroke-width="6"/>
<path d="M263.0,368.6 L263.5,379.6 L264.0,369.8 L264.5,381.4 L265.0,370.6 L265.5,384.0 L266.0,371.1 L266.5,385.5 L267.0,371.6 L267.5,386.1 L268.0,373.0 L268.5,386.8 L269.0,374.6 L269.5,387.4 L270.0,374.3 L270.5,388.1 L271.0,371.5 L271.5,390.0 L272.0,368.5 L272.5,392.2 L273.0,367.6 L273.5,392.7 L274.0,369.1 L274.5,391.1 L275.0,372.3 L275.5,389.3 L276.0,375.5 L276.5,388.3 L277.0,377.2 L277.5,387.6 L278.0,377.2 L278.5,387.3 L279.0,376.1 L279.5,387.4 L280.0,374.5 L280.5,387.7 L281.0,373.3 L281.5,388.7 L282.0,373.2 L282.5,390.4 L283.0,373.8 L283.5,391.6 L284.0,374.2 L284.5,392.0 L285.0,374.7 L285.5,392.0 L286.0,375.3 L286.5,391.2 L287.0,375.5 L287.5,389.4 L288.0,375.2 L288.5,386.6 L289.0,374.2 L289.5,383.6 L290.0,372.9 L290.5,381.9 L291.0,371.5 L291.5,382.2 L292.0,370.4 L292.5,384.0 L293.0,370.0 L293.5,385.2 L294.0,370.4 L294.5,384.5 L295.0,371.5 L295.5,381.6 L296.0,371.5 L296.5,378.7 L297.0,370.9 L297.5,377.8 L298.0,369.3 L298.5,379.6 L299.0,366.9 L299.5,380.8 L300.0,364.1 L300.5,379.5 L301.0,361.9 L301.5,377.0 L302.0,361.0 L302.5,374.6 L303.0,361.1 L303.5,371.8 L304.0,360.9 L304.5,369.7 L305.0,359.8 L305.5,368.5 L306.0,357.2 L306.5,366.8 L307.0,354.3 L307.5,363.8 L308.0,351.8 L308.5,359.7 L309.0,348.3 L309.5,352.6 L310.0,344.2 L310.5,345.8 L311.0,339.7 L311.5,339.9 L312.0,333.9 L312.5,332.1 L313.0,325.3 L313.5,323.3 L314.0,316.8 L314.5,315.2 L315.0,309.1 L315.5,307.8 L316.0,301.2 L316.5,303.4 L317.0,298.4 L317.5,302.0 L318.0,295.2 L318.5,301.4 L319.0,298.6 L319.5,301.9 L320.0,301.4 L320.5,308.3 L321.0,313.6 L321.5,320.3 L322.0,332.2 L322.5,345.3 L323.0,350.1 L323.5,356.2 L324.0,361.0 L324.5,367.1 L325.0,372.4 L325.5,381.2 L326.0,388.4 L326.5,397.4 L327.0,404.4 L327.5,413.5 L328.0,418.1 L328.5,423.5 L329.0,426.5 L329.5,432.0 L330.0,434.9 L330.5,440.5 L331.0,444.2 L331.5,450.5 L332.0,454.4 L332.5,460.5 L333.0,463.5 L333.5,468.7 L334.0,471.5 L334.5,477.0 L335.0,479.4 L335.5,485.4 L336.0,486.7 L336.5,492.5 L337.0,492.9 L337.5,499.4 L338.0,498.9 L338.5,505.9 L339.0,504.9 L339.5,511.9 L340.0,510.9 L340.5,517.0 L341.0,516.9 L341.5,522.7 L342.0,522.9 L342.5,528.6 L343.0,528.9 L343.5,534.4 L344.0,534.1 L344.5,539.0 L345.0,537.5 L345.5,543.2 L346.0,540.3 L346.5,547.6 L347.0,543.3 L347.5,551.8 L348.0,547.0 L348.5,555.5 L349.0,551.4 L349.5,558.8 L350.0,556.3 L350.5,562.3 L351.0,559.6 L351.5,565.3 L352.0,562.4 L352.5,568.3 L353.0,565.2 L353.5,572.8 L354.0,568.0 L354.5,577.8 L355.0,569.9 L355.5,581.3 L356.0,571.5 L356.5,583.7 L357.0,573.4 L357.5,585.7 L358.0,576.4 L358.5,587.7 L359.0,579.8 L359.5,589.7 L360.0,582.0 L360.5,592.4 L361.0,583.8 L361.5,595.5 L362.0,586.1 L362.5,598.0 L363.0,588.6 L363.5,599.5 L364.0,590.8 L364.5,600.7 L365.0,592.2 L365.5,601.8 L366.0,593.0 L366.5,603.0 L367.0,593.9 L367.5,604.3 L368.0,595.8 L368.5,606.3 L369.0,598.3 L369.5,609.1 L370.0,600.5 L370.5,611.7 L371.0,601.9 L371.5,613.5 L372.0,603.1 L372.5,614.5 L373.0,604.7 L373.5,614.9 L374.0,606.4 L374.5,615.2 L375.0,608.1 L375.5,615.9 L376.0,609.8 L376.5,617.8 L377.0,611.2 L377.5,621.0 L378.0,612.7 L378.5,624.4 L379.0,614.3 L379.5,626.9 L380.0,615.7 L380.5,628.3 L381.0,617.0 L381.5,629.2 L382.0,617.0 L382.5,631.1 L383.0,617.3 L383.5,634.3 L384.0,618.1 L384.5,636.4 L385.0,619.0 L385.5,637.5 L386.0,620.3 L386.5,638.4 L387.0,622.1 L387.5,638.9 L388.0,623.8 L388.5,637.6 L389.0,624.2 L389.5,635.3 L390.0,623.6 L390.5,633.8 L391.0,623.1 L391.5,634.2 L392.0,623.2 L392.5,635.7 L393.0,623.8 L393.5,637.7 L394.0,625.2 L394.5,639.0 L395.0,627.1 L395.5,640.4 L396.0,629.0 L396.5,642.0 L397.0,630.7 L397.5,643.4 L398.0,632.4 L398.5,645.0 L399.0,634.6 L399.5,647.1 L400.0,637.0 L400.5,648.6 L401.0,637.2 L401.5,649.0 L402.0,635.9 L402.5,648.9 L403.0,634.0 L403.5,649.0 L404.0,632.8 L404.5,649.8 L405.0,632.7 L405.5,650.9 L406.0,633.7 L406.5,651.4 L407.0,635.3 L407.5,651.3 L408.0,636.3 L408.5,651.0 L409.0,635.7 L409.5,651.1 L410.0,634.7 L410.5,651.1 L411.0,633.0 L411.5,650.2 L412.0,633.0 L412.5,647.9 L413.0,634.2 L413.5,644.1 L414.0,635.0 L414.5,641.0 L415.0,634.4 L415.5,637.0 L416.0,629.8 L416.5,631.7 L417.0,625.1 L417.5,626.4 L418.0,620.5 L418.5,621.3 L419.0,615.7 L419.5,615.9 L420.0,610.4 L420.5,610.8 L421.0,604.8 L421.5,606.2 L422.0,599.4 L422.5,601.8 L423.0,594.5 L423.5,597.2 L424.0,590.0 L424.5,592.1 L425.0,585.6 L425.5,587.2 L426.0,582.0 L426.5,583.1 L427.0,578.2 L427.5,579.8 L428.0,573.5 L428.5,576.9 L429.0,568.2 L429.5,573.8 L430.0,569.2 L430.5,576.3 L431.0,573.9 L431.5,579.6 L432.0,578.4 L432.5,584.4 L433.0,584.0 L433.5,590.4 L434.0,589.8 L434.5,596.2 L435.0,595.7 L435.5,602.6 L436.0,602.9 L436.5,609.6 L437.0,610.0 L437.5,616.7 L438.0,617.0 L438.5,624.0 L439.0,623.7 L439.5,631.1 L440.0,630.2 L440.5,636.4 L441.0,633.9 L441.5,640.5 L442.0,637.7 L442.5,644.9 L443.0,641.8 L443.5,649.9 L444.0,645.7 L444.5,655.6 L445.0,648.8 L445.5,660.5 L446.0,648.9 L446.5,663.8 L447.0,649.0 L447.5,665.6 L448.0,650.5 L448.5,665.6 L449.0,653.1 L449.5,665.9 L450.0,655.5 L450.5,666.6 L451.0,657.6 L451.5,668.0 L452.0,660.2 L452.5,670.1 L453.0,663.4 L453.5,672.0 L454.0,666.6 L454.5,673.8 L455.0,669.0 L455.5,676.4 L456.0,670.6 L456.5,677.6 L457.0,671.5 L457.5,678.9 L458.0,671.7 L458.5,680.2 L459.0,671.1 L459.5,681.4 L460.0,671.6 L460.5,684.0 L461.0,674.0 L461.5,686.9 L462.0,677.0 L462.5,688.9 L463.0,678.5 L463.5,689.6 L464.0,678.1 L464.5,690.0 L465.0,677.3 L465.5,691.4 L466.0,677.4 L466.5,693.3 L467.0,678.3 L467.5,693.7 L468.0,678.7 L468.5,692.2 L469.0,678.9 L469.5,691.2 L470.0,678.9 L470.5,692.6 L471.0,678.5 L471.5,697.0 L472.0,678.4 L472.5,701.4 L473.0,679.6 L473.5,703.3 L474.0,682.0 L474.5,703.6 L475.0,684.7 L475.5,703.9 L476.0,686.2 L476.5,704.2 L477.0,685.2 L477.5,704.4 L478.0,682.7 L478.5,704.7 L479.0,680.6 L479.5,705.0 L480.0,679.9 L480.5,705.3 L481.0,680.2 L481.5,704.9 L482.0,681.5 L482.5,703.8 L483.0,683.7 L483.5,703.2 L484.0,684.6 L484.5,702.8 L485.0,683.0 L485.5,702.1 L486.0,682.3 L486.5,701.4 L487.0,682.7 L487.5,700.5 L488.0,683.2 L488.5,699.9 L489.0,684.9 L489.5,700.1 L490.0,687.8 L490.5,701.2 L491.0,689.9 L491.5,702.0 L492.0,691.2 L492.5,701.3 L493.0,691.6 L493.5,700.2 L494.0,690.9 L494.5,700.6 L495.0,689.7 L495.5,703.5 L496.0,688.5 L496.5,706.9 L497.0,686.9 L497.5,708.7 L498.0,685.6 L498.5,708.9 L499.0,685.8 L499.5,708.9 L500.0,686.1 L500.5,709.5 L501.0,688.8 L501.5,710.6 L502.0,691.0 L502.5,711.7 L503.0,692.1 L503.5,711.8 L504.0,693.2 L504.5,709.7 L505.0,694.9 L505.5,706.9 L506.0,696.3 L506.5,706.4 L507.0,697.1 L507.5,709.1 L508.0,697.5 L508.5,712.4 L509.0,697.3 L509.5,713.9 L510.0,696.6 L510.5,713.8 L511.0,696.3 L511.5,713.4 L512.0,696.8 L512.5,712.9 L513.0,697.3 L513.5,712.2 L514.0,697.2 L514.5,711.1 L515.0,696.4 L515.5,710.1 L516.0,695.6 L516.5,709.8 L517.0,695.1 L517.5,710.3 L518.0,694.8 L518.5,711.3 L519.0,695.8 L519.5,712.2 L520.0,699.0 L520.5,711.8 L521.0,703.0 L521.5,710.5 L522.0,704.9 L522.5,709.9 L523.0,703.5 L523.5,710.2 L524.0,700.1 L524.5,710.4 L525.0,696.7 L525.5,710.7 L526.0,695.6 L526.5,713.1 L527.0,695.9 L527.5,717.0 L528.0,697.4 L528.5,718.8 L529.0,699.0 L529.5,717.5 L530.0,700.6 L530.5,715.8 L531.0,702.7 L531.5,715.1 L532.0,704.2 L532.5,714.7 L533.0,704.0 L533.5,714.3 L534.0,702.1 L534.5,714.8 L535.0,700.4 L535.5,716.8 L536.0,699.8 L536.5,719.3 L537.0,699.6 L537.5,720.8 L538.0,699.3 L538.5,720.6 L539.0,699.2 L539.5,719.6 L540.0,699.4 L540.5,718.7 L541.0,699.1 L541.5,717.9 L542.0,698.8 L542.5,715.9 L543.0,699.9 L543.5,712.1 L544.0,702.7 L544.5,710.5 L545.0,704.6 L545.5,710.2 L546.0,703.5 L546.5,709.9 L547.0,701.2 L547.5,711.9 L548.0,700.8 L548.5,715.0 L549.0,703.1 L549.5,716.8 L550.0,704.6 L550.5,717.4 L551.0,704.6 L551.5,717.3 L552.0,704.7 L552.5,716.9 L553.0,704.8 L553.5,717.1 L554.0,705.0 L554.5,718.0 L555.0,704.2 L555.5,718.0 L556.0,701.6 L556.5,716.5 L557.0,699.1 L557.5,715.1 L558.0,696.9 L558.5,716.1 L559.0,696.5 L559.5,718.7 L560.0,698.1 L560.5,720.1 L561.0,700.1 L561.5,718.5 L562.0,701.0 L562.5,715.6 L563.0,700.4 L563.5,714.4 L564.0,698.3 L564.5,714.9 L565.0,695.3 L565.5,715.3 L566.0,692.9 L566.5,715.0 L567.0,692.3 L567.5,714.6 L568.0,693.1 L568.5,714.4 L569.0,692.8 L569.5,714.6 L570.0,691.0 L570.5,715.3 L571.0,690.2 L571.5,715.4 L572.0,691.9 L572.5,715.3 L573.0,694.6 L573.5,713.5 L574.0,696.1 L574.5,711.1 L575.0,696.0 L575.5,708.8 L576.0,695.0 L576.5,707.1 L577.0,694.4 L577.5,705.8 L578.0,695.9 L578.5,705.0 L579.0,698.8 L579.5,704.7 L580.0,699.8 L580.5,704.6 L581.0,699.5 L581.5,705.7 L582.0,699.0 L582.5,708.8 L583.0,701.3 L583.5,711.9 L584.0,703.4 L584.5,713.0 L585.0,705.4 L585.5,714.2 L586.0,707.4 L586.5,715.9 L587.0,709.3 L587.5,718.5 L588.0,711.1 L588.5,721.3 L589.0,711.8 L589.5,723.1 L590.0,710.4 L590.5,723.8 L591.0,710.7 L591.5,724.3 L592.0,712.5 L592.5,725.5 L593.0,713.9 L593.5,727.7 L594.0,714.2 L594.5,729.4 L595.0,714.2 L595.5,730.0 L596.0,714.6 L596.5,730.6 L597.0,714.9 L597.5,731.9 L598.0,715.2 L598.5,733.3 L599.0,715.9 L599.5,734.3 L600.0,718.1 L600.5,734.7 L601.0,720.6 L601.5,734.4 L602.0,721.5 L602.5,734.0 L603.0,721.5 L603.5,734.4 L604.0,723.1 L604.5,736.2 L605.0,726.7 L605.5,738.7 L606.0,727.4 L606.5,740.4 L607.0,727.9 L607.5,740.6 L608.0,728.2 L608.5,739.9 L609.0,728.6 L609.5,739.2 L610.0,729.0 L610.5,738.8 L611.0,727.1 L611.5,739.2 L612.0,724.2 L612.5,741.1 L613.0,723.4 L613.5,742.8 L614.0,724.6 L614.5,743.2 L615.0,725.8 L615.5,742.8 L616.0,725.7 L616.5,742.5 L617.0,725.1 L617.5,742.4 L618.0,726.5 L618.5,742.9 L619.0,728.9 L619.5,743.8 L620.0,729.9 L620.5,744.1 L621.0,729.1 L621.5,743.8 L622.0,728.7 L622.5,742.8 L623.0,728.8 L623.5,740.8 L624.0,729.6 L624.5,738.4 L625.0,729.9 L625.5,736.1 L626.0,729.6 L626.5,734.0 L627.0,728.5 L627.5,731.5 L628.0,725.0 L628.5,728.6 L629.0,721.4 L629.5,725.9 L630.0,719.0 L630.5,724.4 L631.0,717.2 L631.5,722.7 L632.0,714.8 L632.5,719.1 L633.0,710.7 L633.5,714.7 L634.0,706.7 L634.5,710.1 L635.0,702.8 L635.5,705.5 L636.0,698.7 L636.5,700.4 L637.0,694.4 L637.5,695.6 L638.0,689.9 L638.5,689.6 L639.0,682.7 L639.5,682.3 L640.0,675.5 L640.5,675.1 L641.0,668.4 L641.5,668.0 L642.0,661.4 L642.5,660.6 L643.0,654.6 L643.5,653.9 L644.0,649.3 L644.5,648.0 L645.0,643.9 L645.5,642.8 L646.0,638.3 L646.5,638.2 L647.0,632.3 L647.5,638.8 L648.0,637.2 L648.5,643.7 L649.0,642.9 L649.5,649.0 L650.0,648.3 L650.5,654.8 L651.0,653.3 L651.5,660.1 L652.0,658.5 L652.5,665.0 L653.0,664.7 L653.5,671.6 L654.0,672.1 L654.5,678.6 L655.0,679.6 L655.5,686.0 L656.0,687.1 L656.5,693.4 L657.0,694.4 L657.5,700.2 L658.0,700.8 L658.5,706.4 L659.0,707.0 L659.5,712.6 L660.0,712.7 L660.5,719.0 L661.0,718.5 L661.5,725.6 L662.0,724.5 L662.5,731.0 L663.0,727.6 L663.5,735.3 L664.0,730.8 L664.5,739.9 L665.0,733.9 L665.5,743.6 L666.0,736.8 L666.5,746.6 L667.0,738.9 L667.5,748.8 L668.0,739.2 L668.5,752.0 L669.0,739.6 L669.5,756.3 L670.0,740.6 L670.5,759.3 L671.0,742.3 L671.5,761.0 L672.0,744.2 L672.5,762.6 L673.0,746.0 L673.5,764.5 L674.0,748.2 L674.5,766.3 L675.0,750.3 L675.5,767.6 L676.0,750.8 L676.5,765.8 L677.0,749.7 L677.5,763.9 L678.0,748.3 L678.5,763.0 L679.0,748.5 L679.5,763.1 L680.0,750.9 L680.5,764.0 L681.0,753.5 L681.5,765.2 L682.0,753.8 L682.5,766.3 L683.0,752.2 L683.5,767.2 L684.0,750.1 L684.5,768.8 L685.0,749.8 L685.5,771.0 L686.0,750.3 L686.5,772.7 L687.0,750.8 L687.5,772.8 L688.0,751.3 L688.5,772.0 L689.0,751.8 L689.5,771.4 L690.0,752.7 L690.5,771.9 L691.0,754.1 L691.5,772.7 L692.0,756.8 L692.5,773.0 L693.0,759.7 L693.5,773.1 L694.0,761.0 L694.5,774.0 L695.0,760.9 L695.5,775.4 L696.0,760.5 L696.5,776.2 L697.0,760.2 L697.5,776.1 L698.0,759.1 L698.5,775.2 L699.0,757.2 L699.5,774.3 L700.0,756.4 L700.5,774.1 L701.0,756.7 L701.5,774.6 L702.0,758.2 L702.5,775.1 L703.0,760.2 L703.5,774.8 L704.0,762.2 L704.5,774.1 L705.0,764.6 L705.5,774.1 L706.0,766.6 L706.5,775.4 L707.0,767.1 L707.5,777.5 L708.0,766.8 L708.5,778.7 L709.0,767.1 L709.5,778.1 L710.0,767.6 L710.5,776.4 L711.0,767.4 L711.5,775.6 L712.0,766.7 L712.5,776.8 L713.0,766.8 L713.5,778.9 L714.0,767.6 L714.5,780.2 L715.0,767.9 L715.5,780.1 L716.0,767.4 L716.5,779.9 L717.0,766.4 L717.5,780.6 L718.0,765.5 L718.5,782.5 L719.0,764.8 L719.5,784.6 L720.0,764.8 L720.5,785.1 L721.0,766.6 L721.5,783.9 L722.0,769.6 L722.5,783.3 L723.0,772.3 L723.5,785.1 L724.0,773.5 L724.5,788.5 L725.0,773.0 L725.5,790.5 L726.0,772.1 L726.5,790.7 L727.0,771.1 L727.5,789.3 L728.0,769.4 L728.5,786.5 L729.0,767.2 L729.5,785.2 L730.0,766.1 L730.5,785.6 L731.0,767.3 L731.5,786.3 L732.0,769.0 L732.5,785.5 L733.0,768.7 L733.5,783.0 L734.0,766.6 L734.5,780.5 L735.0,765.3 L735.5,779.1 L736.0,766.0 L736.5,778.8 L737.0,767.9 L737.5,779.0 L738.0,769.7 L738.5,779.2 L739.0,771.2 L739.5,780.1 L740.0,772.6 L740.5,780.6 L741.0,773.6 L741.5,780.0 L742.0,773.3 L742.5,780.2 L743.0,771.5 L743.5,780.3 L744.0,768.6 L744.5,782.2 L745.0,766.7 L745.5,784.5 L746.0,767.0 L746.5,786.6 L747.0,768.0 L747.5,789.1 L748.0,767.9 L748.5,791.3 L749.0,767.3 L749.5,791.3 L750.0,767.0 L750.5,791.5 L751.0,767.1 L751.5,791.6 L752.0,767.8 L752.5,791.7 L753.0,770.3 L753.5,790.6 L754.0,773.5 L754.5,789.4 L755.0,774.9 L755.5,788.9 L756.0,773.7 L756.5,789.2 L757.0,772.2 L757.5,789.1 L758.0,772.2 L758.5,788.0 L759.0,773.2 L759.5,786.2 L760.0,773.6 L760.5,785.0 L761.0,773.9 L761.5,785.6 L762.0,775.5 L762.5,787.3 L763.0,775.6 L763.5,788.8 L764.0,775.6 L764.5,789.2 L765.0,775.7 L765.5,788.2 L766.0,772.1 L766.5,786.3 L767.0,769.3 L767.5,784.9 L768.0,768.7 L768.5,784.4 L769.0,768.9 L769.5,784.0 L770.0,768.6 L770.5,783.1 L771.0,767.9 L771.5,782.2 L772.0,767.5 L772.5,782.1 L773.0,767.5 L773.5,782.9 L774.0,768.4 L774.5,783.8 L775.0,771.2 L775.5,784.9 L776.0,775.3 L776.5,786.5 L777.0,776.9 L777.5,788.5 L778.0,776.9 L778.5,789.5 L779.0,776.6 L779.5,788.3 L780.0,774.7 L780.5,786.6 L781.0,774.1 L781.5,785.7 L782.0,774.2 L782.5,785.9 L783.0,773.5 L783.5,786.0 L784.0,771.7 L784.5,784.8 L785.0,769.5 L785.5,783.1 L786.0,767.5 L786.5,781.8 L787.0,765.6 L787.5,780.6 L788.0,762.9 L788.5,778.2 L789.0,760.5 L789.5,775.8 L790.0,759.8 L790.5,774.4 L791.0,759.8 L791.5,774.1 L792.0,760.2 L792.5,774.2 L793.0,759.8 L793.5,774.1 L794.0,758.4 L794.5,772.9 L795.0,756.2 L795.5,770.5 L796.0,754.7 L796.5,766.8 L797.0,753.9 L797.5,763.3 L798.0,752.7 L798.5,758.8 L799.0,748.7 L799.5,753.3 L800.0,745.0 L800.5,748.4 L801.0,741.5 L801.5,744.5 L802.0,738.0 L802.5,741.1 L803.0,734.5 L803.5,737.8 L804.0,730.5 L804.5,733.4 L805.0,725.3 L805.5,728.2 L806.0,720.0 L806.5,722.9 L807.0,714.5 L807.5,718.0 L808.0,709.0 L808.5,713.1 L809.0,703.7 L809.5,708.0 L810.0,697.8 L810.5,702.9 L811.0,691.5 L811.5,698.0 L812.0,686.4 L812.5,696.4 L813.0,683.2 L813.5,694.6 L814.0,680.6 L814.5,692.8 L815.0,679.3 L815.5,691.7 L816.0,677.7 L816.5,691.0 L817.0,676.1 L817.5,689.6 L818.0,674.0 L818.5,686.4 L819.0,671.8 L819.5,682.4 L820.0,669.6 L820.5,678.9 L821.0,668.9 L821.5,673.3 L822.0,667.9 L822.5,669.3 L823.0,665.8 L823.5,659.4 L824.0,650.6 L824.5,643.6 L825.0,635.3 L825.5,627.9 L826.0,619.7 L826.5,608.9 L827.0,597.2 L827.5,586.5 L828.0,574.7 L828.5,569.5 L829.0,562.4 L829.5,558.1 L830.0,549.4 L830.5,554.4 L831.0,558.5 L831.5,567.4 L832.0,572.7 L832.5,580.6 L833.0,587.7 L833.5,596.1 L834.0,603.5 L834.5,611.8 L835.0,623.7 L835.5,639.3 L836.0,654.2 L836.5,669.7 L837.0,677.8 L837.5,684.6 L838.0,690.8 L838.5,697.9 L839.0,703.2 L839.5,711.3 L840.0,710.2 L840.5,714.7 L841.0,711.9 L841.5,719.8 L842.0,712.8 L842.5,726.3 L843.0,716.1 L843.5,730.1 L844.0,718.4 L844.5,733.2 L845.0,720.3 L845.5,735.6 L846.0,722.6 L846.5,737.2 L847.0,725.3 L847.5,738.4 L848.0,728.5 L848.5,740.8 L849.0,731.0 L849.5,744.2 L850.0,732.6 L850.5,747.2 L851.0,734.0 L851.5,749.6 L852.0,735.3 L852.5,751.3 L853.0,736.5 L853.5,751.8 L854.0,738.6 L854.5,751.4 L855.0,741.9 L855.5,751.1 L856.0,745.2 L856.5,752.1 L857.0,747.4 L857.5,754.0 L858.0,749.3 L858.5,757.9 L859.0,750.7 L859.5,761.5 L860.0,751.6 L860.5,763.5 L861.0,752.6 L861.5,764.3 L862.0,753.6 L862.5,764.6 L863.0,754.4 L863.5,764.8 L864.0,754.6 L864.5,765.8 L865.0,754.5 L865.5,768.4 L866.0,754.5 L866.5,771.6 L867.0,754.3 L867.5,774.5 L868.0,754.6 L868.5,776.3 L869.0,755.6 L869.5,778.0 L870.0,756.6 L870.5,780.0 L871.0,757.6 L871.5,781.8 L872.0,760.3 L872.5,783.2 L873.0,764.5 L873.5,785.3 L874.0,767.6 L874.5,787.7 L875.0,768.9 L875.5,790.0 L876.0,769.2 L876.5,790.9 L877.0,769.4 L877.5,791.6 L878.0,769.9 L878.5,791.8 L879.0,771.2 L879.5,787.3 L880.0,773.1 L880.5,782.6 L881.0,773.9 L881.5,781.2 L882.0,772.1 L882.5,781.3 L883.0,768.0 L883.5,781.3 L884.0,764.0 L884.5,781.9 L885.0,764.0 L885.5,781.7 L886.0,763.8 L886.5,781.5 L887.0,763.7 L887.5,782.1 L888.0,766.3 L888.5,783.0 L889.0,767.1 L889.5,783.8 L890.0,765.8 L890.5,784.1 L891.0,764.2 L891.5,783.2 L892.0,763.0 L892.5,780.7 L893.0,761.9 L893.5,778.1 L894.0,760.9 L894.5,777.2 L895.0,760.4 L895.5,777.5 L896.0,761.0 L896.5,777.5 L897.0,763.3 L897.5,776.2 L898.0,766.1 L898.5,774.5 L899.0,767.3 L899.5,774.9 L900.0,766.0 L900.5,775.2 L901.0,763.7 L901.5,775.6 L902.0,762.1 L902.5,777.4 L903.0,761.1 L903.5,779.4 L904.0,760.5 L904.5,781.6 L905.0,759.9 L905.5,784.5 L906.0,759.8 L906.5,787.5 L907.0,761.4 L907.5,788.1 L908.0,764.4 L908.5,786.1 L909.0,765.6 L909.5,780.0 L910.0,763.8 L910.5,773.3 L911.0,761.0 L911.5,766.7 L912.0,756.1 L912.5,760.9 L913.0,751.4 L913.5,755.9 L914.0,746.7 L914.5,751.6 L915.0,742.3 L915.5,747.0 L916.0,738.2 L916.5,743.6 L917.0,737.2 L917.5,742.2 L918.0,735.9 L918.5,741.5 L919.0,733.6 L919.5,740.7 L920.0,730.4 L920.5,740.8 L921.0,727.3 L921.5,741.5 L922.0,727.3 L922.5,741.6 L923.0,733.4 L923.5,743.2 L924.0,737.2 L924.5,744.6 L925.0,739.4 L925.5,747.3 L926.0,740.7 L926.5,750.0 L927.0,743.0 L927.5,752.7 L928.0,746.4 L928.5,755.5 L929.0,750.8 L929.5,759.8 L930.0,755.6 L930.5,764.3 L931.0,760.2 L931.5,768.5 L932.0,764.5 L932.5,772.3 L933.0,768.1 L933.5,776.4 L934.0,771.1 L934.5,781.3 L935.0,773.7 L935.5,785.8 L936.0,774.8 L936.5,788.9 L937.0,776.3 L937.5,791.9 L938.0,778.4 L938.5,795.6 L939.0,782.4 L939.5,800.7 L940.0,785.7 L940.5,805.1 L941.0,787.9 L941.5,806.9 L942.0,788.4 L942.5,805.5 L943.0,788.4 L943.5,803.9 L944.0,789.5 L944.5,803.9 L945.0,792.1 L945.5,804.9 L946.0,794.5 L946.5,805.2 L947.0,795.3 L947.5,804.6 L948.0,794.6 L948.5,805.3 L949.0,793.5 L949.5,807.7 L950.0,793.2 L950.5,810.0 L951.0,795.6 L951.5,810.4 L952.0,799.6 L952.5,809.8 L953.0,800.6 L953.5,810.2 L954.0,801.0 L954.5,811.7 L955.0,799.7 L955.5,812.9 L956.0,796.1 L956.5,813.3 L957.0,793.8 L957.5,812.7 L958.0,794.0 L958.5,811.5 L959.0,795.3 L959.5,811.2 L960.0,796.1 L960.5,812.9 L961.0,796.7 L961.5,816.3 L962.0,797.8 L962.5,819.8 L963.0,799.0 L963.5,821.8 L964.0,799.3 L964.5,821.8 L965.0,799.0 L965.5,820.7 L966.0,799.5 L966.5,819.4 L967.0,800.5 L967.5,817.8 L968.0,800.6 L968.5,816.5 L969.0,799.4 L969.5,816.1 L970.0,798.6 L970.5,816.6 L971.0,800.6 L971.5,817.4 L972.0,804.7 L972.5,818.4 L973.0,808.0 L973.5,818.3 L974.0,808.2 L974.5,816.6 L975.0,807.8 L975.5,814.4 L976.0,807.4 L976.5,814.1 L977.0,807.1 L977.5,815.5 L978.0,804.6 L978.5,816.3 L979.0,802.4 L979.5,815.8 L980.0,801.7 L980.5,815.5 L981.0,801.6 L981.5,815.8 L982.0,802.0 L982.5,815.9 L983.0,801.9 L983.5,815.3 L984.0,800.1 L984.5,813.8 L985.0,797.2 L985.5,812.3 L986.0,796.3 L986.5,812.4 L987.0,798.3 L987.5,813.7 L988.0,801.1 L988.5,816.3 L989.0,802.4 L989.5,816.9 L990.0,801.6 L990.5,815.8 L991.0,800.3 L991.5,815.0 L992.0,800.7 L992.5,815.7 L993.0,803.4 L993.5,817.3 L994.0,806.4 L994.5,819.2 L995.0,806.7 L995.5,820.7 L996.0,806.7 L996.5,821.1 L997.0,805.6 L997.5,820.3 L998.0,803.0 L998.5,818.5 L999.0,801.3 L999.5,816.5 L1000.0,801.7 L1000.5,815.5 L1001.0,803.8 L1001.5,816.9 L1002.0,806.1 L1002.5,820.2 L1003.0,806.4 L1003.5,823.5 L1004.0,806.1 L1004.5,824.1 L1005.0,803.9 L1005.5,823.7 L1006.0,798.0 L1006.5,821.2 L1007.0,792.3 L1007.5,816.8 L1008.0,791.9 L1008.5,812.8 L1009.0,791.6 L1009.5,810.1 L1010.0,791.4 L1010.5,809.5 L1011.0,791.3 L1011.5,809.9 L1012.0,791.2 L1012.5,811.2 L1013.0,791.3 L1013.5,812.7 L1014.0,791.4 L1014.5,815.3 L1015.0,791.5 L1015.5,818.7 L1016.0,791.8 L1016.5,821.1 L1017.0,794.2 L1017.5,821.6 L1018.0,797.8 L1018.5,819.6 L1019.0,801.2 L1019.5,815.6 L1020.0,803.7 L1020.5,811.3 L1021.0,804.1 L1021.5,810.0 L1022.0,802.6 L1022.5,810.0 L1023.0,799.2 L1023.5,812.0 L1024.0,797.1 L1024.5,814.8 L1025.0,796.6 L1025.5,815.4 L1026.0,797.0 L1026.5,814.7 L1027.0,797.7 L1027.5,814.1 L1028.0,798.8 L1028.5,814.4 L1029.0,800.4 L1029.5,815.9 L1030.0,801.5 L1030.5,817.6 L1031.0,801.5 L1031.5,818.6 L1032.0,799.9 L1032.5,818.3 L1033.0,797.9 L1033.5,817.5 L1034.0,797.0 L1034.5,816.7 L1035.0,797.0 L1035.5,816.6 L1036.0,797.4 L1036.5,816.6 L1037.0,799.0 L1037.5,816.4 L1038.0,800.5 L1038.5,815.9 L1039.0,802.1 L1039.5,815.5 L1040.0,804.3 L1040.5,814.8 L1041.0,806.3 L1041.5,813.9 L1042.0,806.4 L1042.5,813.5 L1043.0,804.7 L1043.5,813.1 L1044.0,803.6 L1044.5,813.4 L1045.0,803.9 L1045.5,814.3 L1046.0,804.3 L1046.5,814.4 L1047.0,802.6 L1047.5,814.0 L1048.0,799.7 L1048.5,813.6 L1049.0,797.9 L1049.5,813.4 L1050.0,798.3 L1050.5,813.7 L1051.0,799.6 L1051.5,814.5 L1052.0,800.7 L1052.5,814.6 L1053.0,800.2 L1053.5,812.6 L1054.0,798.2 L1054.5,809.5 L1055.0,796.5 L1055.5,809.4 L1056.0,796.4 L1056.5,809.4 L1057.0,797.9 L1057.5,810.4 L1058.0,800.2 L1058.5,813.8 L1059.0,802.2 L1059.5,815.7 L1060.0,803.0 L1060.5,815.0 L1061.0,802.6 L1061.5,813.2 L1062.0,802.6 L1062.5,812.5 L1063.0,803.4 L1063.5,813.0 L1064.0,803.0 L1064.5,811.8 L1065.0,798.6 L1065.5,808.2 L1066.0,794.7 L1066.5,804.1 L1067.0,791.6 L1067.5,801.1 L1068.0,788.3 L1068.5,797.3 L1069.0,785.1 L1069.5,793.1 L1070.0,782.1 L1070.5,789.1 L1071.0,778.7 L1071.5,785.7 L1072.0,775.5 L1072.5,783.0 L1073.0,772.5 L1073.5,780.1 L1074.0,769.7 L1074.5,776.6 L1075.0,767.3 L1075.5,772.7 L1076.0,765.4 L1076.5,768.6 L1077.0,762.6 L1077.5,764.4 L1078.0,758.8 L1078.5,760.4 L1079.0,754.1 L1079.5,757.6 L1080.0,748.2 L1080.5,755.3 L1081.0,741.8 L1081.5,757.0 L1082.0,747.2 L1082.5,760.1 L1083.0,753.4 L1083.5,762.3 L1084.0,758.0 L1084.5,764.6 L1085.0,760.5 L1085.5,766.6 L1086.0,762.1 L1086.5,769.3 L1087.0,765.1 L1087.5,772.6 L1088.0,768.9 L1088.5,776.4 L1089.0,773.2 L1089.5,780.8 L1090.0,777.6 L1090.5,785.4 L1091.0,781.7 L1091.5,789.7 L1092.0,784.6 L1092.5,794.1 L1093.0,786.6 L1093.5,798.3 L1094.0,789.0 L1094.5,801.0 L1095.0,790.0 L1095.5,802.7 L1096.0,790.3 L1096.5,804.7 L1097.0,789.9 L1097.5,806.4 L1098.0,790.4 L1098.5,808.2 L1099.0,791.8 L1099.5,809.7 L1100.0,795.3 L1100.5,810.7 L1101.0,799.4 L1101.5,812.3 L1102.0,802.6 L1102.5,814.7 L1103.0,805.0 L1103.5,816.8 L1104.0,806.5 L1104.5,816.6 L1105.0,806.9 L1105.5,814.8 L1106.0,807.2 L1106.5,813.7 L1107.0,807.6 L1107.5,815.6 L1108.0,806.1 L1108.5,819.0 L1109.0,801.1 L1109.5,821.7 L1110.0,798.1 L1110.5,823.7 L1111.0,799.3 L1111.5,825.6 L1112.0,803.6 L1112.5,826.7 L1113.0,807.6 L1113.5,827.1 L1114.0,808.7 L1114.5,827.3 L1115.0,806.8 L1115.5,825.2 L1116.0,803.8 L1116.5,821.8 L1117.0,802.1 L1117.5,820.0 L1118.0,802.4 L1118.5,820.2 L1119.0,803.3 L1119.5,821.2 L1120.0,804.1 L1120.5,821.9 L1121.0,804.7 L1121.5,823.0 L1122.0,804.6 L1122.5,825.0 L1123.0,804.1 L1123.5,826.8 L1124.0,804.6 L1124.5,826.3 L1125.0,806.0 L1125.5,823.7 L1126.0,807.0 L1126.5,820.6 L1127.0,806.9 L1127.5,818.9 L1128.0,806.8 L1128.5,819.2 L1129.0,807.5 L1129.5,820.5 L1130.0,808.9 L1130.5,820.5 L1131.0,809.8 L1131.5,819.2 L1132.0,809.2 L1132.5,817.8 L1133.0,807.7 L1133.5,817.1 L1134.0,806.6 L1134.5,817.2 L1135.0,806.8 L1135.5,817.5 L1136.0,807.6 L1136.5,817.7 L1137.0,807.6 L1137.5,819.9 L1138.0,807.0 L1138.5,822.9 L1139.0,806.9 L1139.5,823.9 L1140.0,806.8 L1140.5,822.1 L1141.0,805.3 L1141.5,819.3 L1142.0,802.6 L1142.5,817.9 L1143.0,801.6 L1143.5,817.8 L1144.0,801.4 L1144.5,819.9 L1145.0,801.2 L1145.5,822.0 L1146.0,801.0 L1146.5,822.5 L1147.0,800.7 L1147.5,821.5 L1148.0,800.5 L1148.5,819.8 L1149.0,800.2 L1149.5,818.0 L1150.0,800.1 L1150.5,817.8 L1151.0,802.4 L1151.5,820.0 L1152.0,805.9 L1152.5,823.0 L1153.0,808.4 L1153.5,825.2 L1154.0,808.5 L1154.5,826.9 L1155.0,806.8 L1155.5,827.4 L1156.0,805.2 L1156.5,827.4 L1157.0,804.9 L1157.5,827.5 L1158.0,805.6 L1158.5,827.6 L1159.0,806.7 L1159.5,825.4 L1160.0,806.9 L1160.5,823.2 L1161.0,805.3 L1161.5,822.4 L1162.0,803.0 L1162.5,822.9 L1163.0,801.6 L1163.5,824.1 L1164.0,802.3 L1164.5,825.7 L1165.0,803.7 L1165.5,826.6 L1166.0,804.0 L1166.5,825.7 L1167.0,802.7 L1167.5,822.8 L1168.0,801.4 L1168.5,819.9 L1169.0,801.5 L1169.5,818.9 L1170.0,802.3 L1170.5,819.3 L1171.0,803.5 L1171.5,819.9 L1172.0,805.2 L1172.5,819.5 L1173.0,806.8 L1173.5,818.6 L1174.0,807.2 L1174.5,818.0 L1175.0,806.6 L1175.5,818.4 L1176.0,806.1 L1176.5,819.0 L1177.0,806.5 L1177.5,818.1 L1178.0,807.2 L1178.5,815.5 L1179.0,807.1 L1179.5,813.4 L1180.0,805.9 L1180.5,813.4 L1181.0,803.9 L1181.5,814.5 L1182.0,801.7 L1182.5,816.0 L1183.0,799.7 L1183.5,818.4 L1184.0,798.2 L1184.5,820.8 L1185.0,797.2 L1185.5,820.2 L1186.0,795.9 L1186.5,817.8 L1187.0,794.6 L1187.5,815.3 L1188.0,793.6 L1188.5,814.7 L1189.0,793.7 L1189.5,814.9 L1190.0,795.2 L1190.5,814.7 L1191.0,796.5 L1191.5,813.0 L1192.0,796.6 L1192.5,810.0 L1193.0,795.2 L1193.5,806.7 L1194.0,791.8 L1194.5,804.3 L1195.0,787.1 L1195.5,802.8 L1196.0,784.7 L1196.5,801.3 L1197.0,783.8 L1197.5,800.1 L1198.0,783.4 L1198.5,799.9 L1199.0,785.3 L1199.5,800.2 L1200.0,785.9 L1200.5,799.9 L1201.0,785.8 L1201.5,798.9 L1202.0,785.0 L1202.5,798.8 L1203.0,782.9 L1203.5,798.8 L1204.0,779.6 L1204.5,799.1 L1205.0,778.4 L1205.5,798.0 L1206.0,779.6 L1206.5,797.2 L1207.0,781.3 L1207.5,797.6 L1208.0,782.2 L1208.5,799.2 L1209.0,784.0 L1209.5,800.9 L1210.0,786.4 L1210.5,802.0 L1211.0,788.7 L1211.5,802.4 L1212.0,790.8 L1212.5,802.7 L1213.0,792.9 L1213.5,803.8 L1214.0,794.7 L1214.5,805.8 L1215.0,795.7 L1215.5,808.1 L1216.0,796.1 L1216.5,809.7 L1217.0,795.5 L1217.5,810.5 L1218.0,794.9 L1218.5,811.6 L1219.0,795.8 L1219.5,812.7 L1220.0,797.5 L1220.5,812.9 L1221.0,799.0 L1221.5,812.1 L1222.0,799.2 L1222.5,811.7 L1223.0,798.8 L1223.5,813.0 L1224.0,799.0 L1224.5,815.2 L1225.0,800.7 L1225.5,817.3 L1226.0,803.3 L1226.5,818.7 L1227.0,805.1 L1227.5,819.7 L1228.0,805.0 L1228.5,820.4 L1229.0,803.5 L1229.5,820.2 L1230.0,802.1 L1230.5,819.1 L1231.0,802.0 L1231.5,818.2 L1232.0,803.3 L1232.5,819.2 L1233.0,804.3 L1233.5,822.2 L1234.0,804.3 L1234.5,824.8 L1235.0,804.3 L1235.5,824.9 L1236.0,805.4 L1236.5,823.0 L1237.0,807.1 L1237.5,821.4 L1238.0,808.7 L1238.5,821.6 L1239.0,809.7 L1239.5,823.4 L1240.0,809.9 L1240.5,826.6 L1241.0,809.7 L1241.5,830.1 L1242.0,809.3 L1242.5,831.1 L1243.0,808.6 L1243.5,831.0 L1244.0,808.2 L1244.5,830.4 L1245.0,808.5 L1245.5,827.3 L1246.0,809.1 L1246.5,826.2 L1247.0,810.0 L1247.5,827.6 L1248.0,811.0 L1248.5,829.5 L1249.0,811.5 L1249.5,830.5 L1250.0,811.3 L1250.5,830.5 L1251.0,810.9 L1251.5,830.4 L1252.0,811.2 L1252.5,830.3 L1253.0,812.6 L1253.5,829.6 L1254.0,813.8 L1254.5,828.6 L1255.0,813.5 L1255.5,827.8 L1256.0,812.7 L1256.5,827.0 L1257.0,812.9 L1257.5,826.0 L1258.0,814.2 L1258.5,825.4 L1259.0,816.1 L1259.5,826.3 L1260.0,817.6 L1260.5,829.2 L1261.0,817.3 L1261.5,832.3 L1262.0,814.0 L1262.5,832.5 L1263.0,809.6 L1263.5,830.2 L1264.0,808.7 L1264.5,827.0 L1265.0,807.8 L1265.5,824.9 L1266.0,806.8 L1266.5,823.7 L1267.0,806.7 L1267.5,822.8 L1268.0,807.8 L1268.5,821.8 L1269.0,807.9 L1269.5,821.0 L1270.0,806.5 L1270.5,820.0 L1271.0,804.4 L1271.5,818.4 L1272.0,802.8 L1272.5,815.9 L1273.0,802.6 L1273.5,814.3 L1274.0,803.4 L1274.5,813.4 L1275.0,804.6 L1275.5,812.5 L1276.0,805.3 L1276.5,814.5 L1277.0,805.0 L1277.5,815.2 L1278.0,803.8 L1278.5,813.8 L1279.0,801.2 L1279.5,812.0 L1280.0,797.5 L1280.5,811.0 L1281.0,794.5 L1281.5,810.9 L1282.0,793.8 L1282.5,809.8 L1283.0,793.1 L1283.5,807.2 L1284.0,793.7 L1284.5,804.1 L1285.0,793.1 L1285.5,801.8 L1286.0,791.7 L1286.5,800.5 L1287.0,790.0 L1287.5,799.7 L1288.0,788.2 L1288.5,797.3 L1289.0,786.3 L1289.5,793.9 L1290.0,784.7 L1290.5,790.0 L1291.0,782.8 L1291.5,787.2 L1292.0,780.4 L1292.5,784.3 L1293.0,777.0 L1293.5,782.9 L1294.0,778.4 L1294.5,786.0 L1295.0,781.5 L1295.5,789.1 L1296.0,785.2 L1296.5,792.5 L1297.0,788.6 L1297.5,796.1 L1298.0,792.2 L1298.5,799.6 L1299.0,795.6 L1299.5,802.4 L1300.0,797.1 L1300.5,804.5 L1301.0,798.1 L1301.5,806.6 L1302.0,799.7 L1302.5,808.7 L1303.0,801.7 L1303.5,811.1 L1304.0,803.3 L1304.5,813.7 L1305.0,804.1 L1305.5,816.6 L1306.0,805.0 L1306.5,820.0 L1307.0,806.7 L1307.5,823.0 L1308.0,809.4 L1308.5,825.7 L1309.0,812.0 L1309.5,827.2 L1310.0,812.5 L1310.5,826.9 L1311.0,811.5 L1311.5,826.2 L1312.0,812.4 L1312.5,826.5 L1313.0,816.0 L1313.5,828.4 L1314.0,819.5 L1314.5,830.9 L1315.0,820.3 L1315.5,833.0 L1316.0,818.9 L1316.5,834.3 L1317.0,818.5 L1317.5,836.1 L1318.0,821.3 L1318.5,838.7 L1319.0,825.3 L1319.5,841.0 L1320.0,828.3 L1320.5,842.1 L1321.0,828.8 L1321.5,842.2 L1322.0,829.1 L1322.5,842.7 L1323.0,829.5 L1323.5,844.1 L1324.0,829.8 L1324.5,844.8 L1325.0,830.2 L1325.5,845.2 L1326.0,830.5 L1326.5,845.5 L1327.0,830.0 L1327.5,843.7 L1328.0,828.9 L1328.5,841.1 L1329.0,827.4 L1329.5,840.2 L1330.0,826.2 L1330.5,840.7 L1331.0,826.1 L1331.5,840.7 L1332.0,826.2 L1332.5,839.8 L1333.0,825.5 L1333.5,839.8 L1334.0,824.5 L1334.5,841.0 L1335.0,823.9 L1335.5,841.3 L1336.0,824.3 L1336.5,840.7 L1337.0,826.0 L1337.5,841.2 L1338.0,828.3 L1338.5,842.7 L1339.0,830.5 L1339.5,843.7 L1340.0,832.4 L1340.5,844.1 L1341.0,833.1 L1341.5,844.9 L1342.0,831.9 L1342.5,845.9 L1343.0,830.1 L1343.5,845.9 L1344.0,829.7 L1344.5,845.3 L1345.0,829.8 L1345.5,845.0 L1346.0,829.2 L1346.5,845.4 L1347.0,828.5 L1347.5,846.3 L1348.0,828.5 L1348.5,846.8 L1349.0,828.9 L1349.5,845.6 L1350.0,829.8 L1350.5,843.4 L1351.0,831.3 L1351.5,842.1 L1352.0,832.1 L1352.5,842.5 L1353.0,831.4 L1353.5,843.7 L1354.0,829.5 L1354.5,845.2 L1355.0,827.5 L1355.5,846.4 L1356.0,826.6 L1356.5,846.4 L1357.0,827.3 L1357.5,845.1 L1358.0,829.4 L1358.5,843.5 L1359.0,831.9 L1359.5,842.2 L1360.0,834.5 L1360.5,841.8 L1361.0,834.6 L1361.5,843.2 L1362.0,834.5 L1362.5,845.6 L1363.0,834.4 L1363.5,847.5 L1364.0,832.8 L1364.5,848.2 L1365.0,828.2 L1365.5,848.3 L1366.0,824.9 L1366.5,847.2 L1367.0,823.4 L1367.5,844.1 L1368.0,822.6 L1368.5,839.8 L1369.0,822.1 L1369.5,837.1 L1370.0,823.4 L1370.5,836.6 L1371.0,826.5 L1371.5,837.6 L1372.0,829.2 L1372.5,839.4 L1373.0,829.6 L1373.5,842.1 L1374.0,827.8 L1374.5,844.5 L1375.0,825.7 L1375.5,845.4 L1376.0,825.3 L1376.5,845.4 L1377.0,826.9 L1377.5,845.9 L1378.0,828.4 L1378.5,846.2 L1379.0,828.1 L1379.5,845.9 L1380.0,826.1 L1380.5,844.6 L1381.0,824.7 L1381.5,844.2 L1382.0,825.1 L1382.5,845.2 L1383.0,826.7 L1383.5,845.6 L1384.0,827.6 L1384.5,845.1 L1385.0,827.4 L1385.5,842.5 L1386.0,826.7 L1386.5,840.3 L1387.0,825.4 L1387.5,838.4 L1388.0,823.4 L1388.5,837.4 L1389.0,820.5 L1389.5,836.8 L1390.0,817.1 L1390.5,836.1 L1391.0,815.9 L1391.5,833.9 L1392.0,817.8 L1392.5,831.2 L1393.0,819.8 L1393.5,827.6 L1394.0,817.6 L1394.5,821.9 L1395.0,813.4 L1395.5,816.4 L1396.0,808.3 L1396.5,811.6 L1397.0,802.5 L1397.5,806.7 L1398.0,797.0 L1398.5,803.2 L1399.0,793.5 L1399.5,800.3 L1400.0,790.5 L1400.5,797.7 L1401.0,787.8 L1401.5,795.5 L1402.0,785.1 L1402.5,793.6 L1403.0,781.1 L1403.5,791.9 L1404.0,776.7 L1404.5,790.5 L1405.0,776.4 L1405.5,792.4 L1406.0,781.6 L1406.5,794.1 L1407.0,787.1 L1407.5,795.8 L1408.0,791.0 L1408.5,797.4 L1409.0,793.8 L1409.5,799.0 L1410.0,795.3 L1410.5,801.7 L1411.0,796.4 L1411.5,805.7 L1412.0,796.9 L1412.5,808.6 L1413.0,797.0 L1413.5,809.7 L1414.0,796.9 L1414.5,808.8 L1415.0,795.9 L1415.5,808.4 L1416.0,794.2 L1416.5,810.2 L1417.0,793.0 L1417.5,812.3 L1418.0,792.3 L1418.5,812.7 L1419.0,791.5 L1419.5,811.4 L1420.0,791.2 L1420.5,809.8 L1421.0,791.6 L1421.5,808.6 L1422.0,792.3 L1422.5,807.5 L1423.0,792.9 L1423.5,807.3 L1424.0,794.3 L1424.5,808.5 L1425.0,797.0 L1425.5,809.8 L1426.0,799.8 L1426.5,810.2 L1427.0,801.9 L1427.5,809.6 L1428.0,803.3 L1428.5,808.9 L1429.0,804.4 L1429.5,810.1 L1430.0,804.9 L1430.5,811.3 L1431.0,804.6 L1431.5,813.0 L1432.0,804.2 L1432.5,817.9 L1433.0,805.1 L1433.5,822.6 L1434.0,807.1 L1434.5,825.5 L1435.0,809.3 L1435.5,826.0 L1436.0,811.4 L1436.5,824.2 L1437.0,813.0 L1437.5,822.6 L1438.0,813.7 L1438.5,823.7 L1439.0,812.9 L1439.5,826.8 L1440.0,811.8 L1440.5,829.7 L1441.0,811.7 L1441.5,831.1 L1442.0,813.0 L1442.5,831.6 L1443.0,814.4 L1443.5,832.1 L1444.0,815.7 L1444.5,832.6 L1445.0,817.1 L1445.5,832.3 L1446.0,818.6 L1446.5,832.0 L1447.0,819.3 L1447.5,833.1 L1448.0,819.3 L1448.5,836.0 L1449.0,818.5 L1449.5,837.8 L1450.0,817.5 L1450.5,838.8 L1451.0,817.0 L1451.5,839.6 L1452.0,816.8 L1452.5,838.4 L1453.0,817.7 L1453.5,835.0 L1454.0,819.6 L1454.5,833.0 L1455.0,821.6 L1455.5,831.8 L1456.0,822.2 L1456.5,830.7 L1457.0,821.3 L1457.5,829.7 L1458.0,820.4 L1458.5,828.8 L1459.0,820.3 L1459.5,828.3 L1460.0,819.8 L1460.5,829.3 L1461.0,818.6 L1461.5,831.1 L1462.0,817.8 L1462.5,832.1 L1463.0,817.4 L1463.5,831.5 L1464.0,816.2 L1464.5,830.0 L1465.0,813.8 L1465.5,828.9 L1466.0,811.6 L1466.5,829.0 L1467.0,811.1 L1467.5,829.7 L1468.0,812.1 L1468.5,829.2 L1469.0,813.2 L1469.5,828.5 L1470.0,812.2 L1470.5,827.9 L1471.0,808.9 L1471.5,825.8 L1472.0,804.9 L1472.5,823.9 L1473.0,802.4 L1473.5,822.7 L1474.0,801.8 L1474.5,822.8 L1475.0,803.1 L1475.5,823.7 L1476.0,804.8 L1476.5,824.6 L1477.0,807.0 L1477.5,825.5 L1478.0,809.5 L1478.5,825.7 L1479.0,810.9 L1479.5,824.9 L1480.0,811.1 L1480.5,824.3 L1481.0,810.8 L1481.5,825.2 L1482.0,811.1 L1482.5,826.6 L1483.0,811.8 L1483.5,826.3 L1484.0,812.9 L1484.5,823.6 L1485.0,814.7 L1485.5,819.9 L1486.0,816.0 L1486.5,821.1 L1487.0,817.7 L1487.5,822.6 L1488.0,816.9 L1488.5,824.2 L1489.0,815.6 L1489.5,829.4 L1490.0,816.3 L1490.5,833.2 L1491.0,818.7 L1491.5,834.4 L1492.0,821.0 L1492.5,834.6 L1493.0,822.0 L1493.5,835.5 L1494.0,822.3 L1494.5,836.7 L1495.0,823.3 L1495.5,838.2 L1496.0,825.7 L1496.5,840.7 L1497.0,828.7 L1497.5,843.2 L1498.0,831.2 L1498.5,844.7 L1499.0,832.6 L1499.5,845.4 L1500.0,832.9 L1500.5,846.2 L1501.0,832.6 L1501.5,847.3 L1502.0,832.7 L1502.5,847.7 L1503.0,833.4 L1503.5,847.0 L1504.0,834.0 L1504.5,846.4 L1505.0,833.6 L1505.5,846.9 L1506.0,832.4 L1506.5,849.0 L1507.0,832.7 L1507.5,851.9 L1508.0,833.6 L1508.5,853.5 L1509.0,836.4 L1509.5,853.2 L1510.0,839.2 L1510.5,852.4 L1511.0,839.7 L1511.5,852.4 L1512.0,837.7 L1512.5,853.3 L1513.0,835.0 L1513.5,854.9 L1514.0,834.0 L1514.5,856.5 L1515.0,833.9 L1515.5,858.1 L1516.0,833.7 L1516.5,859.3 L1517.0,833.4 L1517.5,859.0 L1518.0,833.0 L1518.5,857.3 L1519.0,833.4 L1519.5,854.9 L1520.0,833.6 L1520.5,853.5 L1521.0,833.5 L1521.5,853.0 L1522.0,833.6 L1522.5,852.4 L1523.0,834.0 L1523.5,850.2 L1524.0,833.5 L1524.5,847.2 L1525.0,832.3 L1525.5,847.2 L1526.0,832.2 L1526.5,847.4 L1527.0,833.7 L1527.5,848.1 L1528.0,835.3 L1528.5,851.5 L1529.0,835.7 L1529.5,854.6 L1530.0,834.9 L1530.5,856.8 L1531.0,834.1 L1531.5,857.9 L1532.0,833.9 L1532.5,857.6 L1533.0,834.8 L1533.5,857.4 L1534.0,835.9 L1534.5,857.4 L1535.0,835.6 L1535.5,856.9 L1536.0,833.5 L1536.5,855.0 L1537.0,831.7 L1537.5,853.6 L1538.0,831.8 L1538.5,852.6 L1539.0,831.8 L1539.5,851.8 L1540.0,832.7 L1540.5,851.2 L1541.0,834.7 L1541.5,850.6 L1542.0,835.1 L1542.5,849.8 L1543.0,834.6 L1543.5,848.8 L1544.0,834.6 L1544.5,848.2 L1545.0,835.4 L1545.5,848.9 L1546.0,836.5 L1546.5,850.0 L1547.0,837.7 L1547.5,850.1 L1548.0,838.8 L1548.5,849.6 L1549.0,839.4 L1549.5,849.2 L1550.0,837.5 L1550.5,848.7 L1551.0,835.3 L1551.5,846.7 L1552.0,833.3 L1552.5,843.3 L1553.0,831.4 L1553.5,839.4 L1554.0,829.5 L1554.5,836.6 L1555.0,826.6 L1555.5,838.2 L1556.0,827.1 L1556.5,842.2 L1557.0,827.8 L1557.5,844.9 L1558.0,830.0 L1558.5,847.9 L1559.0,833.5 L1559.5,849.9 L1560.0,837.2 L1560.5,851.5 L1561.0,838.2 L1561.5,853.9 L1562.0,838.3 L1562.5,856.9 L1563.0,838.7 L1563.5,858.1 L1564.0,839.2 L1564.5,857.2 L1565.0,838.9 L1565.5,855.7 L1566.0,837.8 L1566.5,854.7 L1567.0,837.2 L1567.5,854.4 L1568.0,837.1 L1568.5,855.1 L1569.0,837.1 L1569.5,856.8 L1570.0,836.8 L1570.5,858.1 L1571.0,836.6 L1571.5,857.5 L1572.0,837.7 L1572.5,855.5 L1573.0,840.4 L1573.5,853.4 L1574.0,843.4 L1574.5,852.5 L1575.0,845.3 L1575.5,853.0 L1576.0,845.6 L1576.5,854.5 L1577.0,844.9 L1577.5,856.2 L1578.0,843.6 L1578.5,857.4 L1579.0,842.1 L1579.5,858.3 L1580.0,841.5 L1580.5,859.4 L1581.0,843.0 L1581.5,860.3 L1582.0,845.8 L1582.5,860.8 L1583.0,847.5 L1583.5,861.0 L1584.0,846.9 L1584.5,861.7 L1585.0,845.1 L1585.5,863.0 L1586.0,843.7 L1586.5,864.7 L1587.0,843.5 L1587.5,866.2 L1588.0,843.3 L1588.5,866.2 L1589.0,842.8 L1589.5,864.3 L1590.0,843.0 L1590.5,861.6 L1591.0,844.8 L1591.5,860.1 L1592.0,846.9 L1592.5,860.4 L1593.0,848.1 L1593.5,861.4 L1594.0,848.1 L1594.5,861.1 L1595.0,848.0 L1595.5,859.5 L1596.0,848.8 L1596.5,857.8 L1597.0,849.2 L1597.5,856.8 L1598.0,848.3 L1598.5,857.0 L1599.0,846.7 L1599.5,858.5 L1600.0,845.6 L1600.5,861.4 L1601.0,846.0 L1601.5,862.7 L1602.0,847.4 L1602.5,861.4 L1603.0,848.8 L1603.5,859.0 L1604.0,849.5 L1604.5,857.6 L1605.0,849.3 L1605.5,857.6 L1606.0,848.3 L1606.5,859.9 L1607.0,846.9 L1607.5,863.1 L1608.0,845.7 L1608.5,865.0 L1609.0,845.0 L1609.5,864.7 L1610.0,845.1 L1610.5,863.8 L1611.0,845.8 L1611.5,864.2 L1612.0,846.8 L1612.5,865.6 L1613.0,847.9 L1613.5,867.0 L1614.0,849.2 L1614.5,868.3 L1615.0,850.5 L1615.5,868.6 L1616.0,850.6 L1616.5,868.8 L1617.0,849.3 L1617.5,868.9 L1618.0,848.2 L1618.5,869.0 L1619.0,848.7 L1619.5,869.2 L1620.0,850.5 L1620.5,867.6 L1621.0,851.5 L1621.5,864.7 L1622.0,850.6 L1622.5,863.2 L1623.0,848.7 L1623.5,863.0 L1624.0,847.5 L1624.5,864.3 L1625.0,847.2 L1625.5,866.5 L1626.0,847.2 L1626.5,867.8 L1627.0,848.0 L1627.5,867.2 L1628.0,849.5 L1628.5,865.3 L1629.0,850.8 L1629.5,863.0 L1630.0,850.7 L1630.5,861.3 L1631.0,849.5 L1631.5,859.9 L1632.0,847.7 L1632.5,859.2 L1633.0,846.4 L1633.5,859.5 L1634.0,846.1 L1634.5,860.0 L1635.0,847.0 L1635.5,860.0 L1636.0,848.4 L1636.5,860.1 L1637.0,849.0 L1637.5,860.5 L1638.0,848.2 L1638.5,860.8 L1639.0,846.6 L1639.5,861.2 L1640.0,845.4 L1640.5,862.2 L1641.0,844.8 L1641.5,862.5 L1642.0,844.3 L1642.5,861.1 L1643.0,844.0 L1643.5,858.8 L1644.0,843.4 L1644.5,857.0 L1645.0,842.3 L1645.5,856.0 L1646.0,841.0 L1646.5,855.8 L1647.0,840.8 L1647.5,856.8 L1648.0,841.6 L1648.5,858.8 L1649.0,841.9 L1649.5,860.4 L1650.0,841.6 L1650.5,860.4 L1651.0,842.0 L1651.5,859.1 L1652.0,843.8 L1652.5,858.3 L1653.0,845.4 L1653.5,859.3 L1654.0,845.3 L1654.5,860.7 L1655.0,843.4 L1655.5,860.6 L1656.0,840.9 L1656.5,860.4 L1657.0,838.9 L1657.5,860.2 L1658.0,838.0 L1658.5,858.4 L1659.0,838.0 L1659.5,856.6 L1660.0,838.3 L1660.5,853.9 L1661.0,838.6 L1661.5,850.5 L1662.0,839.4 L1662.5,848.8 L1663.0,840.6 L1663.5,850.7 L1664.0,841.5 L1664.5,853.9 L1665.0,841.5 L1665.5,856.3 L1666.0,840.9 L1666.5,857.8 L1667.0,840.1 L1667.5,859.3 L1668.0,839.3 L1668.5,859.9 L1669.0,839.0 L1669.5,859.1 L1670.0,838.7 L1670.5,857.7 L1671.0,837.8 L1671.5,857.6 L1672.0,837.0 L1672.5,859.0 L1673.0,837.2 L1673.5,861.0 L1674.0,838.0 L1674.5,862.1 L1675.0,838.9 L1675.5,861.3 L1676.0,840.3 L1676.5,859.3 L1677.0,842.7 L1677.5,858.3 L1678.0,844.6 L1678.5,858.5 L1679.0,844.8 L1679.5,858.0 L1680.0,843.6 L1680.5,855.4 L1681.0,842.6 L1681.5,853.7 L1682.0,843.1 L1682.5,853.8 L1683.0,845.1 L1683.5,854.0 L1684.0,846.9 L1684.5,854.1 L1685.0,847.7 L1685.5,855.4 L1686.0,847.9 L1686.5,857.4 L1687.0,848.1 L1687.5,858.8 L1688.0,848.3 L1688.5,859.0 L1689.0,848.7 L1689.5,858.4 L1690.0,849.2 L1690.5,858.3 L1691.0,848.6 L1691.5,859.3 L1692.0,846.9 L1692.5,861.1 L1693.0,845.6 L1693.5,861.7 L1694.0,845.6 L1694.5,860.2 L1695.0,846.7 L1695.5,858.0 L1696.0,847.8 L1696.5,858.3 L1697.0,848.4 L1697.5,858.9 L1698.0,848.7 L1698.5,862.6 L1699.0,849.6 L1699.5,866.7 L1700.0,850.8 L1700.5,869.5 L1701.0,850.6 L1701.5,870.0 L1702.0,848.7 L1702.5,869.4 L1703.0,847.6 L1703.5,868.4 L1704.0,848.5 L1704.5,867.8 L1705.0,850.4 L1705.5,867.8 L1706.0,852.0 L1706.5,868.5 L1707.0,852.5 L1707.5,869.6 L1708.0,851.3 L1708.5,870.2 L1709.0,848.9 L1709.5,869.7 L1710.0,846.6 L1710.5,868.2 L1711.0,846.5 L1711.5,866.9 L1712.0,846.5 L1712.5,867.1 L1713.0,846.4 L1713.5,868.3 L1714.0,846.2 L1714.5,869.6 L1715.0,846.1 L1715.5,870.2 L1716.0,846.1 L1716.5,870.1 L1717.0,846.1 L1717.5,869.1 L1718.0,846.3 L1718.5,868.6 L1719.0,848.0 L1719.5,869.8 L1720.0,850.6 L1720.5,871.6 L1721.0,853.1 L1721.5,871.4 L1722.0,855.0 L1722.5,868.2 L1723.0,856.6 L1723.5,864.0 L1724.0,857.0 L1724.5,864.0 L1725.0,855.5 L1725.5,864.2 L1726.0,853.6 L1726.5,864.2 L1727.0,853.1 L1727.5,864.1 L1728.0,853.2 L1728.5,863.9 L1729.0,852.7 L1729.5,863.8 L1730.0,852.3 L1730.5,863.8 L1731.0,852.4 L1731.5,864.6 L1732.0,852.4 L1732.5,866.0 L1733.0,852.0 L1733.5,867.9 L1734.0,852.5 L1734.5,869.6 L1735.0,854.4 L1735.5,870.9 L1736.0,856.7 L1736.5,871.5 L1737.0,858.2 L1737.5,871.3 L1738.0,858.5 L1738.5,870.8 L1739.0,857.8 L1739.5,871.1 L1740.0,856.5 L1740.5,872.4 L1741.0,854.9 L1741.5,873.5 L1742.0,852.8 L1742.5,873.7 L1743.0,850.1 L1743.5,873.5 L1744.0,848.2 L1744.5,873.3 L1745.0,847.9 L1745.5,873.2 L1746.0,847.6 L1746.5,872.9 L1747.0,848.2 L1747.5,872.2 L1748.0,848.8 L1748.5,870.8 L1749.0,848.0 L1749.5,869.6 L1750.0,847.2 L1750.5,869.4 L1751.0,848.1 L1751.5,870.2 L1752.0,850.2 L1752.5,871.4 L1753.0,851.6 L1753.5,872.9 L1754.0,851.0 L1754.5,873.1 L1755.0,849.0 L1755.5,872.9 L1756.0,847.7 L1756.5,869.9 L1757.0,848.0 L1757.5,866.0 L1758.0,849.6 L1758.5,863.6 L1759.0,851.1 L1759.5,862.4 L1760.0,851.6 L1760.5,861.6 L1761.0,851.5 L1761.5,861.4 L1762.0,851.5 L1762.5,862.2 L1763.0,851.7 L1763.5,863.6 L1764.0,852.1 L1764.5,864.2 L1765.0,853.1 L1765.5,863.3 L1766.0,854.4 L1766.5,861.9 L1767.0,855.1 L1767.5,861.7 L1768.0,855.4 L1768.5,862.8 L1769.0,855.8 L1769.5,864.5 L1770.0,855.7 L1770.5,866.1 L1771.0,854.2 L1771.5,867.5 L1772.0,852.1 L1772.5,868.4 L1773.0,850.0 L1773.5,868.7 L1774.0,848.5 L1774.5,868.6 L1775.0,848.4 L1775.5,868.3 L1776.0,849.4 L1776.5,867.7 L1777.0,851.1 L1777.5,867.2 L1778.0,852.7 L1778.5,867.1 L1779.0,854.3 L1779.5,867.0 L1780.0,855.5 L1780.5,865.9 L1781.0,856.0 L1781.5,864.1 L1782.0,855.2 L1782.5,863.4 L1783.0,853.8 L1783.5,865.3 L1784.0,853.2 L1784.5,868.9 L1785.0,853.2 L1785.5,871.8 L1786.0,853.0 L1786.5,873.4 L1787.0,852.5 L1787.5,873.6 L1788.0,852.4 L1788.5,873.8 L1789.0,853.2 L1789.5,873.8 L1790.0,854.3 L1790.5,873.3 L1791.0,854.8 L1791.5,872.0 L1792.0,854.4 L1792.5,871.6 L1793.0,852.8 L1793.5,871.7 L1794.0,850.0 L1794.5,871.1 L1795.0,847.6 L1795.5,869.3 L1796.0,847.6 L1796.5,867.0 L1797.0,849.4 L1797.5,865.8 L1798.0,851.9 L1798.5,866.6 L1799.0,854.3 L1799.5,868.5 L1800.0,856.3 L1800.5,869.3 L1801.0,856.8 L1801.5,868.2 L1802.0,855.2 L1802.5,866.6 L1803.0,852.5 L1803.5,866.2 L1804.0,851.0 L1804.5,866.9 L1805.0,851.7 L1805.5,867.7 L1806.0,853.5 L1806.5,867.8 L1807.0,854.5 L1807.5,867.5 L1808.0,854.3 L1808.5,867.6 L1809.0,854.3 L1809.5,867.9 L1810.0,855.0 L1810.5,867.9 L1811.0,855.6 L1811.5,867.5 L1812.0,854.9 L1812.5,867.0 L1813.0,853.3 L1813.5,866.8 L1814.0,851.2 L1814.5,867.5 L1815.0,849.1 L1815.5,868.7 L1816.0,848.4 L1816.5,868.9 L1817.0,849.3 L1817.5,867.2 L1818.0,850.6 L1818.5,865.0 L1819.0,851.5 L1819.5,864.2 L1820.0,852.3 L1820.5,865.1 L1821.0,852.6 L1821.5,867.3 L1822.0,852.0 L1822.5,869.9 L1823.0,851.1 L1823.5,872.3 L1824.0,850.3 L1824.5,874.3 L1825.0,849.7 L1825.5,874.7 L1826.0,849.7 L1826.5,874.6 L1827.0,850.3 L1827.5,872.0 L1828.0,850.9 L1828.5,869.0 L1829.0,851.2 L1829.5,867.8 L1830.0,851.7 L1830.5,869.8 L1831.0,852.2 L1831.5,874.1 L1832.0,852.3 L1832.5,874.8 L1833.0,852.4 L1833.5,874.7 L1834.0,853.2 L1834.5,874.7 L1835.0,854.3 L1835.5,873.2 L1836.0,854.5 L1836.5,871.9 L1837.0,852.9 L1837.5,871.2 L1838.0,850.9 L1838.5,870.3 L1839.0,849.9 L1839.5,869.0 L1840.0,850.4 L1840.5,867.5 L1841.0,852.9 L1841.5,866.5 L1842.0,857.3 L1842.5,866.5 L1843.0,859.9 L1843.5,867.0 L1844.0,859.9 L1844.5,867.6 L1845.0,859.8 L1845.5,868.2 L1846.0,857.7 L1846.5,868.4 L1847.0,857.0 L1847.5,868.4 L1848.0,857.3 L1848.5,868.6 L1849.0,856.9 L1849.5,868.8 L1850.0,855.3 L1850.5,868.3 L1851.0,853.5 L1851.5,867.4 L1852.0,852.6 L1852.5,867.7 L1853.0,853.5 L1853.5,869.8 L1854.0,855.4 L1854.5,872.3 L1855.0,856.5 L1855.5,873.4 L1856.0,855.9 L1856.5,873.1 L1857.0,854.9 L1857.5,872.9 L1858.0,854.6 L1858.5,873.6 L1859.0,854.5 L1859.5,875.2 L1860.0,853.6 L1860.5,876.7 L1861.0,851.9 L1861.5,876.9 L1862.0,850.9 L1862.5,876.1 L1863.0,850.9 L1863.5,875.2 L1864.0,850.9 L1864.5,874.4 L1865.0,851.7 L1865.5,872.7 L1866.0,852.0 L1866.5,870.3 L1867.0,852.7 L1867.5,868.6 L1868.0,854.3 L1868.5,868.8 L1869.0,856.3 L1869.5,870.4 L1870.0,858.0 L1870.5,871.9 L1871.0,859.2 L1871.5,872.0 L1872.0,859.9 L1872.5,871.4 L1873.0,859.7 L1873.5,871.4 L1874.0,858.4 L1874.5,871.8 L1875.0,856.7 L1875.5,871.7 L1876.0,855.1 L1876.5,871.3 L1877.0,854.5 L1877.5,871.3 L1878.0,854.8 L1878.5,871.4 L1879.0,855.7 L1879.5,870.7 L1880.0,857.0 L1880.5,869.3 L1881.0,857.9 L1881.5,867.9 L1882.0,857.4 L1882.5,867.6 L1883.0,855.8 L1883.5,869.4 L1884.0,855.0 L1884.5,872.4 L1885.0,856.3 L1885.5,875.1 L1886.0,858.2 L1886.5,875.8 L1887.0,858.3 L1887.5,875.7 L1888.0,856.5 L1888.5,875.6 L1889.0,854.8 L1889.5,875.5 L1890.0,854.4 L1890.5,873.5 L1891.0,855.8 L1891.5,871.3 L1892.0,857.7 L1892.5,868.6 L1893.0,858.2 L1893.5,866.3 L1894.0,857.5 L1894.5,865.9 L1895.0,856.5 L1895.5,868.1 L1896.0,855.3 L1896.5,871.3 L1897.0,852.8 L1897.5,873.5 L1898.0,850.1 L1898.5,874.1 L1899.0,850.0 L1899.5,874.0 L1900.0,849.9 L1900.5,874.4 L1901.0,851.3 L1901.5,875.1 L1902.0,852.0 L1902.5,874.9 L1903.0,852.7 L1903.5,873.2 L1904.0,854.2 L1904.5,871.0 L1905.0,855.5 L1905.5,869.8 L1906.0,855.4 L1906.5,870.0 L1907.0,853.7 L1907.5,870.4 L1908.0,851.6 L1908.5,870.0 L1909.0,850.3 L1909.5,869.0 L1910.0,850.0 L1910.5,868.0 L1911.0,850.7 L1911.5,866.9 L1912.0,851.8 L1912.5,866.4 L1913.0,852.5 L1913.5,867.7 L1914.0,852.1 L1914.5,869.5 L1915.0,850.5 L1915.5,870.2 L1916.0,847.9 L1916.5,870.3 L1917.0,846.0 L1917.5,871.1 L1918.0,846.1 L1918.5,871.3 L1919.0,849.3 L1919.5,869.6 L1920.0,852.8 L1920.5,866.6 L1921.0,853.8 L1921.5,863.9 L1922.0,852.4 L1922.5,862.8 L1923.0,850.2 L1923.5,863.1 L1924.0,849.1 L1924.5,865.0 L1925.0,849.3 L1925.5,867.8 L1926.0,849.8 L1926.5,870.3 L1927.0,850.1 L1927.5,871.1 L1928.0,850.2 L1928.5,870.1 L1929.0,850.1 L1929.5,868.7 L1930.0,849.5 L1930.5,867.7 L1931.0,848.3 L1931.5,866.7 L1932.0,847.1 L1932.5,865.6 L1933.0,847.1 L1933.5,864.7 L1934.0,847.0 L1934.5,864.0 L1935.0,846.9 L1935.5,863.6 L1936.0,846.8 L1936.5,863.7 L1937.0,846.7 L1937.5,864.4 L1938.0,846.5 L1938.5,865.0 L1939.0,846.3 L1939.5,864.9 L1940.0,849.7 L1940.5,864.6 L1941.0,852.0 L1941.5,864.7 L1942.0,851.7 L1942.5,866.5 L1943.0,850.9 L1943.5,869.5 L1944.0,851.1 L1944.5,871.0 L1945.0,853.0 L1945.5,869.5 L1946.0,855.5 L1946.5,867.1 L1947.0,856.4 L1947.5,865.8 L1948.0,856.5" stroke="#ff0000" stroke-width="6"/>
</g>
<g fill="#000"><path d="M329.6,217.25 L335.15000000000003,222.8 L329.6,228.35000000000002 L324.05,222.8 Z"/><path d="M338.6,226.25 L344.15000000000003,231.8 L338.6,237.35000000000002 L333.05,231.8 Z"/><path d="M329.6,235.25 L335.15000000000003,240.8 L329.6,246.35000000000002 L324.05,240.8 Z"/><path d="M320.6,226.25 L326.15000000000003,231.8 L320.6,237.35000000000002 L315.05,231.8 Z"/><polygon points="330.90,251.95 333.95,255.30 338.27,253.93 339.24,258.36 343.67,259.32 342.30,263.65 345.65,266.70 342.30,269.75 343.67,274.07 339.24,275.04 338.27,279.47 333.95,278.10 330.90,281.45 327.85,278.10 323.52,279.47 322.56,275.04 318.13,274.07 319.50,269.75 316.15,266.70 319.50,263.65 318.13,259.32 322.56,258.36 323.52,253.93 327.85,255.30"/><path d="M435,486.05 L440.55,491.6 L435,497.15000000000003 L429.45,491.6 Z"/><path d="M444.0,495.05 L449.55,500.6 L444.0,506.15000000000003 L438.45,500.6 Z"/><path d="M435,504.05 L440.55,509.6 L435,515.15 L429.45,509.6 Z"/><path d="M426.0,495.05 L431.55,500.6 L426.0,506.15000000000003 L420.45,500.6 Z"/><polygon points="433.40,520.25 436.45,523.60 440.77,522.23 441.74,526.66 446.17,527.62 444.80,531.95 448.15,535.00 444.80,538.05 446.17,542.38 441.74,543.34 440.77,547.77 436.45,546.40 433.40,549.75 430.35,546.40 426.02,547.77 425.06,543.34 420.63,542.38 422.00,538.05 418.65,535.00 422.00,531.95 420.63,527.62 425.06,526.66 426.02,522.23 430.35,523.60"/><path d="M650.5,549.1500000000001 L656.05,554.7 L650.5,560.25 L644.95,554.7 Z"/><path d="M659.5,558.1500000000001 L665.05,563.7 L659.5,569.25 L653.95,563.7 Z"/><path d="M650.5,567.1500000000001 L656.05,572.7 L650.5,578.25 L644.95,572.7 Z"/><path d="M641.5,558.1500000000001 L647.05,563.7 L641.5,569.25 L635.95,563.7 Z"/><polygon points="651.30,585.95 654.35,589.30 658.67,587.93 659.64,592.36 664.07,593.33 662.70,597.65 666.05,600.70 662.70,603.75 664.07,608.08 659.64,609.04 658.67,613.47 654.35,612.10 651.30,615.45 648.25,612.10 643.92,613.47 642.96,609.04 638.53,608.08 639.90,603.75 636.55,600.70 639.90,597.65 638.53,593.33 642.96,592.36 643.92,587.93 648.25,589.30"/><path d="M802.8,590.45 L808.3499999999999,596.0 L802.8,601.55 L797.25,596.0 Z"/><path d="M811.8,599.45 L817.3499999999999,605 L811.8,610.55 L806.25,605 Z"/><path d="M802.8,608.45 L808.3499999999999,614.0 L802.8,619.55 L797.25,614.0 Z"/><path d="M793.8,599.45 L799.3499999999999,605 L793.8,610.55 L788.25,605 Z"/><polygon points="799.90,625.95 802.95,629.30 807.27,627.93 808.24,632.36 812.67,633.33 811.30,637.65 814.65,640.70 811.30,643.75 812.67,648.08 808.24,649.04 807.27,653.47 802.95,652.10 799.90,655.45 796.85,652.10 792.52,653.47 791.56,649.04 787.13,648.08 788.50,643.75 785.15,640.70 788.50,637.65 787.13,633.33 791.56,632.36 792.52,627.93 796.85,629.30"/><path d="M831.7,474.905 L836.695,479.9 L831.7,484.895 L826.705,479.9 Z"/><path d="M839.8000000000001,483.005 L844.7950000000001,488 L839.8000000000001,492.995 L834.8050000000001,488 Z"/><path d="M831.7,491.105 L836.695,496.1 L831.7,501.095 L826.705,496.1 Z"/><path d="M823.6,483.005 L828.595,488 L823.6,492.995 L818.605,488 Z"/><polygon points="830.30,506.55 833.35,509.90 837.67,508.53 838.64,512.96 843.07,513.92 841.70,518.25 845.05,521.30 841.70,524.35 843.07,528.67 838.64,529.64 837.67,534.07 833.35,532.70 830.30,536.05 827.25,532.70 822.92,534.07 821.96,529.64 817.53,528.67 818.90,524.35 815.55,521.30 818.90,518.25 817.53,513.92 821.96,512.96 822.92,508.53 827.25,509.90"/><path d="M1083.3,673.0500000000001 L1088.85,678.6 L1083.3,684.15 L1077.75,678.6 Z"/><path d="M1092.3,682.0500000000001 L1097.85,687.6 L1092.3,693.15 L1086.75,687.6 Z"/><path d="M1083.3,691.0500000000001 L1088.85,696.6 L1083.3,702.15 L1077.75,696.6 Z"/><path d="M1074.3,682.0500000000001 L1079.85,687.6 L1074.3,693.15 L1068.75,687.6 Z"/><polygon points="1082.50,707.75 1085.55,711.10 1089.88,709.73 1090.84,714.16 1095.27,715.12 1093.90,719.45 1097.25,722.50 1093.90,725.55 1095.27,729.88 1090.84,730.84 1089.88,735.27 1085.55,733.90 1082.50,737.25 1079.45,733.90 1075.12,735.27 1074.16,730.84 1069.73,729.88 1071.10,725.55 1067.75,722.50 1071.10,719.45 1069.73,715.12 1074.16,714.16 1075.12,709.73 1079.45,711.10"/><path d="M1203.4,705.1500000000001 L1208.95,710.7 L1203.4,716.25 L1197.8500000000001,710.7 Z"/><path d="M1212.4,714.1500000000001 L1217.95,719.7 L1212.4,725.25 L1206.8500000000001,719.7 Z"/><path d="M1203.4,723.1500000000001 L1208.95,728.7 L1203.4,734.25 L1197.8500000000001,728.7 Z"/><path d="M1194.4,714.1500000000001 L1199.95,719.7 L1194.4,725.25 L1188.8500000000001,719.7 Z"/><polygon points="1205.50,741.85 1208.55,745.20 1212.88,743.83 1213.84,748.26 1218.27,749.23 1216.90,753.55 1220.25,756.60 1216.90,759.65 1218.27,763.98 1213.84,764.94 1212.88,769.37 1208.55,768.00 1205.50,771.35 1202.45,768.00 1198.12,769.37 1197.16,764.94 1192.73,763.98 1194.10,759.65 1190.75,756.60 1194.10,753.55 1192.73,749.23 1197.16,748.26 1198.12,743.83 1202.45,745.20"/><path d="M1296.6,696.95 L1302.1499999999999,702.5 L1296.6,708.05 L1291.05,702.5 Z"/><path d="M1305.6,705.95 L1311.1499999999999,711.5 L1305.6,717.05 L1300.05,711.5 Z"/><path d="M1296.6,714.95 L1302.1499999999999,720.5 L1296.6,726.05 L1291.05,720.5 Z"/><path d="M1287.6,705.95 L1293.1499999999999,711.5 L1287.6,717.05 L1282.05,711.5 Z"/><polygon points="1296.00,731.75 1299.05,735.10 1303.38,733.73 1304.34,738.16 1308.77,739.12 1307.40,743.45 1310.75,746.50 1307.40,749.55 1308.77,753.88 1304.34,754.84 1303.38,759.27 1299.05,757.90 1296.00,761.25 1292.95,757.90 1288.62,759.27 1287.66,754.84 1283.23,753.88 1284.60,749.55 1281.25,746.50 1284.60,743.45 1283.23,739.12 1287.66,738.16 1288.62,733.73 1292.95,735.10"/><path d="M1475.8,723.75 L1481.35,729.3 L1475.8,734.8499999999999 L1470.25,729.3 Z"/><path d="M1484.8,732.75 L1490.35,738.3 L1484.8,743.8499999999999 L1479.25,738.3 Z"/><path d="M1475.8,741.75 L1481.35,747.3 L1475.8,752.8499999999999 L1470.25,747.3 Z"/><path d="M1466.8,732.75 L1472.35,738.3 L1466.8,743.8499999999999 L1461.25,738.3 Z"/><polygon points="1478.60,762.55 1481.65,765.90 1485.97,764.53 1486.94,768.96 1491.37,769.92 1490.00,774.25 1493.35,777.30 1490.00,780.35 1491.37,784.67 1486.94,785.64 1485.97,790.07 1481.65,788.70 1478.60,792.05 1475.55,788.70 1471.22,790.07 1470.26,785.64 1465.83,784.67 1467.20,780.35 1463.85,777.30 1467.20,774.25 1465.83,769.92 1470.26,768.96 1471.22,764.53 1475.55,765.90"/><path d="M922.5,684.0500000000001 L928.05,689.6 L922.5,695.15 L916.95,689.6 Z"/><path d="M931.5,693.0500000000001 L937.05,698.6 L931.5,704.15 L925.95,698.6 Z"/><path d="M922.5,702.0500000000001 L928.05,707.6 L922.5,713.15 L916.95,707.6 Z"/><path d="M913.5,693.0500000000001 L919.05,698.6 L913.5,704.15 L907.95,698.6 Z"/><path d="M1404.5,739.0500000000001 L1410.05,744.6 L1404.5,750.15 L1398.95,744.6 Z"/><path d="M1413.5,748.0500000000001 L1419.05,753.6 L1413.5,759.15 L1407.95,753.6 Z"/><path d="M1404.5,757.0500000000001 L1410.05,762.6 L1404.5,768.15 L1398.95,762.6 Z"/><path d="M1395.5,748.0500000000001 L1401.05,753.6 L1395.5,759.15 L1389.95,753.6 Z"/><path d="M568.6,643.8 L582.6,660.3 L568.6,676.8 L554.6,660.3 Z"/><polygon points="516.00,769.50 516.57,770.25 516.87,771.00 517.12,771.75 517.34,772.50 517.54,773.25 517.73,774.00 517.90,774.75 518.06,775.50 518.22,776.25 518.37,777.00 518.51,777.75 518.65,778.50 518.79,779.25 518.92,780.00 519.05,780.75 519.17,781.50 519.29,782.25 519.41,783.00 519.53,783.75 519.64,784.50 519.53,785.25 519.41,786.00 519.29,786.75 519.17,787.50 519.05,788.25 518.92,789.00 518.79,789.75 518.65,790.50 518.51,791.25 518.37,792.00 518.22,792.75 518.06,793.50 517.90,794.25 517.73,795.00 517.54,795.75 517.34,796.50 517.12,797.25 516.87,798.00 516.57,798.75 516.00,799.50 516.00,799.50 515.43,798.75 515.13,798.00 514.88,797.25 514.66,796.50 514.46,795.75 514.27,795.00 514.10,794.25 513.94,793.50 513.78,792.75 513.63,792.00 513.49,791.25 513.35,790.50 513.21,789.75 513.08,789.00 512.95,788.25 512.83,787.50 512.71,786.75 512.59,786.00 512.47,785.25 512.36,784.50 512.47,783.75 512.59,783.00 512.71,782.25 512.83,781.50 512.95,780.75 513.08,780.00 513.21,779.25 513.35,778.50 513.49,777.75 513.63,777.00 513.78,776.25 513.94,775.50 514.10,774.75 514.27,774.00 514.46,773.25 514.66,772.50 514.88,771.75 515.13,771.00 515.43,770.25 516.00,769.50"/><polygon points="502.00,784.50 502.70,784.99 503.40,785.26 504.10,785.47 504.80,785.66 505.50,785.83 506.20,785.99 506.90,786.14 507.60,786.28 508.30,786.42 509.00,786.55 509.70,786.67 510.40,786.79 511.10,786.91 511.80,787.03 512.50,787.14 513.20,787.24 513.90,787.35 514.60,787.45 515.30,787.55 516.00,787.65 516.70,787.55 517.40,787.45 518.10,787.35 518.80,787.24 519.50,787.14 520.20,787.03 520.90,786.91 521.60,786.79 522.30,786.67 523.00,786.55 523.70,786.42 524.40,786.28 525.10,786.14 525.80,785.99 526.50,785.83 527.20,785.66 527.90,785.47 528.60,785.26 529.30,784.99 530.00,784.50 530.00,784.50 529.30,784.01 528.60,783.74 527.90,783.53 527.20,783.34 526.50,783.17 525.80,783.01 525.10,782.86 524.40,782.72 523.70,782.58 523.00,782.45 522.30,782.33 521.60,782.21 520.90,782.09 520.20,781.97 519.50,781.86 518.80,781.76 518.10,781.65 517.40,781.55 516.70,781.45 516.00,781.35 515.30,781.45 514.60,781.55 513.90,781.65 513.20,781.76 512.50,781.86 511.80,781.97 511.10,782.09 510.40,782.21 509.70,782.33 509.00,782.45 508.30,782.58 507.60,782.72 506.90,782.86 506.20,783.01 505.50,783.17 504.80,783.34 504.10,783.53 503.40,783.74 502.70,784.01 502.00,784.50"/><rect x="504.5" y="811.0" width="25" height="24"/><polygon points="764.60,1002.90 765.17,1003.65 765.47,1004.40 765.72,1005.15 765.94,1005.90 766.14,1006.65 766.33,1007.40 766.50,1008.15 766.66,1008.90 766.82,1009.65 766.97,1010.40 767.11,1011.15 767.25,1011.90 767.39,1012.65 767.52,1013.40 767.65,1014.15 767.77,1014.90 767.89,1015.65 768.01,1016.40 768.13,1017.15 768.24,1017.90 768.13,1018.65 768.01,1019.40 767.89,1020.15 767.77,1020.90 767.65,1021.65 767.52,1022.40 767.39,1023.15 767.25,1023.90 767.11,1024.65 766.97,1025.40 766.82,1026.15 766.66,1026.90 766.50,1027.65 766.33,1028.40 766.14,1029.15 765.94,1029.90 765.72,1030.65 765.47,1031.40 765.17,1032.15 764.60,1032.90 764.60,1032.90 764.03,1032.15 763.73,1031.40 763.48,1030.65 763.26,1029.90 763.06,1029.15 762.87,1028.40 762.70,1027.65 762.54,1026.90 762.38,1026.15 762.23,1025.40 762.09,1024.65 761.95,1023.90 761.81,1023.15 761.68,1022.40 761.55,1021.65 761.43,1020.90 761.31,1020.15 761.19,1019.40 761.07,1018.65 760.96,1017.90 761.07,1017.15 761.19,1016.40 761.31,1015.65 761.43,1014.90 761.55,1014.15 761.68,1013.40 761.81,1012.65 761.95,1011.90 762.09,1011.15 762.23,1010.40 762.38,1009.65 762.54,1008.90 762.70,1008.15 762.87,1007.40 763.06,1006.65 763.26,1005.90 763.48,1005.15 763.73,1004.40 764.03,1003.65 764.60,1002.90"/><polygon points="750.60,1017.90 751.30,1018.39 752.00,1018.66 752.70,1018.87 753.40,1019.06 754.10,1019.23 754.80,1019.39 755.50,1019.54 756.20,1019.68 756.90,1019.82 757.60,1019.95 758.30,1020.07 759.00,1020.19 759.70,1020.31 760.40,1020.43 761.10,1020.54 761.80,1020.64 762.50,1020.75 763.20,1020.85 763.90,1020.95 764.60,1021.05 765.30,1020.95 766.00,1020.85 766.70,1020.75 767.40,1020.64 768.10,1020.54 768.80,1020.43 769.50,1020.31 770.20,1020.19 770.90,1020.07 771.60,1019.95 772.30,1019.82 773.00,1019.68 773.70,1019.54 774.40,1019.39 775.10,1019.23 775.80,1019.06 776.50,1018.87 777.20,1018.66 777.90,1018.39 778.60,1017.90 778.60,1017.90 777.90,1017.41 777.20,1017.14 776.50,1016.93 775.80,1016.74 775.10,1016.57 774.40,1016.41 773.70,1016.26 773.00,1016.12 772.30,1015.98 771.60,1015.85 770.90,1015.73 770.20,1015.61 769.50,1015.49 768.80,1015.37 768.10,1015.26 767.40,1015.16 766.70,1015.05 766.00,1014.95 765.30,1014.85 764.60,1014.75 763.90,1014.85 763.20,1014.95 762.50,1015.05 761.80,1015.16 761.10,1015.26 760.40,1015.37 759.70,1015.49 759.00,1015.61 758.30,1015.73 757.60,1015.85 756.90,1015.98 756.20,1016.12 755.50,1016.26 754.80,1016.41 754.10,1016.57 753.40,1016.74 752.70,1016.93 752.00,1017.14 751.30,1017.41 750.60,1017.90"/><rect x="752.7" y="1041.4" width="25" height="24"/><polygon points="824.60,905.30 825.17,906.05 825.47,906.80 825.72,907.55 825.94,908.30 826.14,909.05 826.33,909.80 826.50,910.55 826.66,911.30 826.82,912.05 826.97,912.80 827.11,913.55 827.25,914.30 827.39,915.05 827.52,915.80 827.65,916.55 827.77,917.30 827.89,918.05 828.01,918.80 828.13,919.55 828.24,920.30 828.13,921.05 828.01,921.80 827.89,922.55 827.77,923.30 827.65,924.05 827.52,924.80 827.39,925.55 827.25,926.30 827.11,927.05 826.97,927.80 826.82,928.55 826.66,929.30 826.50,930.05 826.33,930.80 826.14,931.55 825.94,932.30 825.72,933.05 825.47,933.80 825.17,934.55 824.60,935.30 824.60,935.30 824.03,934.55 823.73,933.80 823.48,933.05 823.26,932.30 823.06,931.55 822.87,930.80 822.70,930.05 822.54,929.30 822.38,928.55 822.23,927.80 822.09,927.05 821.95,926.30 821.81,925.55 821.68,924.80 821.55,924.05 821.43,923.30 821.31,922.55 821.19,921.80 821.07,921.05 820.96,920.30 821.07,919.55 821.19,918.80 821.31,918.05 821.43,917.30 821.55,916.55 821.68,915.80 821.81,915.05 821.95,914.30 822.09,913.55 822.23,912.80 822.38,912.05 822.54,911.30 822.70,910.55 822.87,909.80 823.06,909.05 823.26,908.30 823.48,907.55 823.73,906.80 824.03,906.05 824.60,905.30"/><polygon points="810.60,920.30 811.30,920.79 812.00,921.06 812.70,921.27 813.40,921.46 814.10,921.63 814.80,921.79 815.50,921.94 816.20,922.08 816.90,922.22 817.60,922.35 818.30,922.47 819.00,922.59 819.70,922.71 820.40,922.83 821.10,922.94 821.80,923.04 822.50,923.15 823.20,923.25 823.90,923.35 824.60,923.45 825.30,923.35 826.00,923.25 826.70,923.15 827.40,923.04 828.10,922.94 828.80,922.83 829.50,922.71 830.20,922.59 830.90,922.47 831.60,922.35 832.30,922.22 833.00,922.08 833.70,921.94 834.40,921.79 835.10,921.63 835.80,921.46 836.50,921.27 837.20,921.06 837.90,920.79 838.60,920.30 838.60,920.30 837.90,919.81 837.20,919.54 836.50,919.33 835.80,919.14 835.10,918.97 834.40,918.81 833.70,918.66 833.00,918.52 832.30,918.38 831.60,918.25 830.90,918.13 830.20,918.01 829.50,917.89 828.80,917.77 828.10,917.66 827.40,917.56 826.70,917.45 826.00,917.35 825.30,917.25 824.60,917.15 823.90,917.25 823.20,917.35 822.50,917.45 821.80,917.56 821.10,917.66 820.40,917.77 819.70,917.89 819.00,918.01 818.30,918.13 817.60,918.25 816.90,918.38 816.20,918.52 815.50,918.66 814.80,918.81 814.10,918.97 813.40,919.14 812.70,919.33 812.00,919.54 811.30,919.81 810.60,920.30"/><rect x="812.9" y="944.5" width="25" height="24"/><polygon points="939.20,994.70 939.77,995.45 940.07,996.20 940.32,996.95 940.54,997.70 940.74,998.45 940.93,999.20 941.10,999.95 941.26,1000.70 941.42,1001.45 941.57,1002.20 941.71,1002.95 941.85,1003.70 941.99,1004.45 942.12,1005.20 942.25,1005.95 942.37,1006.70 942.49,1007.45 942.61,1008.20 942.73,1008.95 942.84,1009.70 942.73,1010.45 942.61,1011.20 942.49,1011.95 942.37,1012.70 942.25,1013.45 942.12,1014.20 941.99,1014.95 941.85,1015.70 941.71,1016.45 941.57,1017.20 941.42,1017.95 941.26,1018.70 941.10,1019.45 940.93,1020.20 940.74,1020.95 940.54,1021.70 940.32,1022.45 940.07,1023.20 939.77,1023.95 939.20,1024.70 939.20,1024.70 938.63,1023.95 938.33,1023.20 938.08,1022.45 937.86,1021.70 937.66,1020.95 937.47,1020.20 937.30,1019.45 937.14,1018.70 936.98,1017.95 936.83,1017.20 936.69,1016.45 936.55,1015.70 936.41,1014.95 936.28,1014.20 936.15,1013.45 936.03,1012.70 935.91,1011.95 935.79,1011.20 935.67,1010.45 935.56,1009.70 935.67,1008.95 935.79,1008.20 935.91,1007.45 936.03,1006.70 936.15,1005.95 936.28,1005.20 936.41,1004.45 936.55,1003.70 936.69,1002.95 936.83,1002.20 936.98,1001.45 937.14,1000.70 937.30,999.95 937.47,999.20 937.66,998.45 937.86,997.70 938.08,996.95 938.33,996.20 938.63,995.45 939.20,994.70"/><polygon points="925.20,1009.70 925.90,1010.19 926.60,1010.46 927.30,1010.67 928.00,1010.86 928.70,1011.03 929.40,1011.19 930.10,1011.34 930.80,1011.48 931.50,1011.62 932.20,1011.75 932.90,1011.87 933.60,1011.99 934.30,1012.11 935.00,1012.23 935.70,1012.34 936.40,1012.44 937.10,1012.55 937.80,1012.65 938.50,1012.75 939.20,1012.85 939.90,1012.75 940.60,1012.65 941.30,1012.55 942.00,1012.44 942.70,1012.34 943.40,1012.23 944.10,1012.11 944.80,1011.99 945.50,1011.87 946.20,1011.75 946.90,1011.62 947.60,1011.48 948.30,1011.34 949.00,1011.19 949.70,1011.03 950.40,1010.86 951.10,1010.67 951.80,1010.46 952.50,1010.19 953.20,1009.70 953.20,1009.70 952.50,1009.21 951.80,1008.94 951.10,1008.73 950.40,1008.54 949.70,1008.37 949.00,1008.21 948.30,1008.06 947.60,1007.92 946.90,1007.78 946.20,1007.65 945.50,1007.53 944.80,1007.41 944.10,1007.29 943.40,1007.17 942.70,1007.06 942.00,1006.96 941.30,1006.85 940.60,1006.75 939.90,1006.65 939.20,1006.55 938.50,1006.65 937.80,1006.75 937.10,1006.85 936.40,1006.96 935.70,1007.06 935.00,1007.17 934.30,1007.29 933.60,1007.41 932.90,1007.53 932.20,1007.65 931.50,1007.78 930.80,1007.92 930.10,1008.06 929.40,1008.21 928.70,1008.37 928.00,1008.54 927.30,1008.73 926.60,1008.94 925.90,1009.21 925.20,1009.70"/><rect x="928.2" y="1033.2" width="25" height="24"/><polygon points="1204.30,948.00 1204.87,948.75 1205.17,949.50 1205.42,950.25 1205.64,951.00 1205.84,951.75 1206.03,952.50 1206.20,953.25 1206.36,954.00 1206.52,954.75 1206.67,955.50 1206.81,956.25 1206.95,957.00 1207.09,957.75 1207.22,958.50 1207.35,959.25 1207.47,960.00 1207.59,960.75 1207.71,961.50 1207.83,962.25 1207.94,963.00 1207.83,963.75 1207.71,964.50 1207.59,965.25 1207.47,966.00 1207.35,966.75 1207.22,967.50 1207.09,968.25 1206.95,969.00 1206.81,969.75 1206.67,970.50 1206.52,971.25 1206.36,972.00 1206.20,972.75 1206.03,973.50 1205.84,974.25 1205.64,975.00 1205.42,975.75 1205.17,976.50 1204.87,977.25 1204.30,978.00 1204.30,978.00 1203.73,977.25 1203.43,976.50 1203.18,975.75 1202.96,975.00 1202.76,974.25 1202.57,973.50 1202.40,972.75 1202.24,972.00 1202.08,971.25 1201.93,970.50 1201.79,969.75 1201.65,969.00 1201.51,968.25 1201.38,967.50 1201.25,966.75 1201.13,966.00 1201.01,965.25 1200.89,964.50 1200.77,963.75 1200.66,963.00 1200.77,962.25 1200.89,961.50 1201.01,960.75 1201.13,960.00 1201.25,959.25 1201.38,958.50 1201.51,957.75 1201.65,957.00 1201.79,956.25 1201.93,955.50 1202.08,954.75 1202.24,954.00 1202.40,953.25 1202.57,952.50 1202.76,951.75 1202.96,951.00 1203.18,950.25 1203.43,949.50 1203.73,948.75 1204.30,948.00"/><polygon points="1190.30,963.00 1191.00,963.49 1191.70,963.76 1192.40,963.97 1193.10,964.16 1193.80,964.33 1194.50,964.49 1195.20,964.64 1195.90,964.78 1196.60,964.92 1197.30,965.05 1198.00,965.17 1198.70,965.29 1199.40,965.41 1200.10,965.53 1200.80,965.64 1201.50,965.74 1202.20,965.85 1202.90,965.95 1203.60,966.05 1204.30,966.15 1205.00,966.05 1205.70,965.95 1206.40,965.85 1207.10,965.74 1207.80,965.64 1208.50,965.53 1209.20,965.41 1209.90,965.29 1210.60,965.17 1211.30,965.05 1212.00,964.92 1212.70,964.78 1213.40,964.64 1214.10,964.49 1214.80,964.33 1215.50,964.16 1216.20,963.97 1216.90,963.76 1217.60,963.49 1218.30,963.00 1218.30,963.00 1217.60,962.51 1216.90,962.24 1216.20,962.03 1215.50,961.84 1214.80,961.67 1214.10,961.51 1213.40,961.36 1212.70,961.22 1212.00,961.08 1211.30,960.95 1210.60,960.83 1209.90,960.71 1209.20,960.59 1208.50,960.47 1207.80,960.36 1207.10,960.26 1206.40,960.15 1205.70,960.05 1205.00,959.95 1204.30,959.85 1203.60,959.95 1202.90,960.05 1202.20,960.15 1201.50,960.26 1200.80,960.36 1200.10,960.47 1199.40,960.59 1198.70,960.71 1198.00,960.83 1197.30,960.95 1196.60,961.08 1195.90,961.22 1195.20,961.36 1194.50,961.51 1193.80,961.67 1193.10,961.84 1192.40,962.03 1191.70,962.24 1191.00,962.51 1190.30,963.00"/><rect x="1190.5" y="993.3" width="25" height="24"/><polygon points="1411.20,1079.00 1411.77,1079.75 1412.07,1080.50 1412.32,1081.25 1412.54,1082.00 1412.74,1082.75 1412.93,1083.50 1413.10,1084.25 1413.26,1085.00 1413.42,1085.75 1413.57,1086.50 1413.71,1087.25 1413.85,1088.00 1413.99,1088.75 1414.12,1089.50 1414.25,1090.25 1414.37,1091.00 1414.49,1091.75 1414.61,1092.50 1414.73,1093.25 1414.84,1094.00 1414.73,1094.75 1414.61,1095.50 1414.49,1096.25 1414.37,1097.00 1414.25,1097.75 1414.12,1098.50 1413.99,1099.25 1413.85,1100.00 1413.71,1100.75 1413.57,1101.50 1413.42,1102.25 1413.26,1103.00 1413.10,1103.75 1412.93,1104.50 1412.74,1105.25 1412.54,1106.00 1412.32,1106.75 1412.07,1107.50 1411.77,1108.25 1411.20,1109.00 1411.20,1109.00 1410.63,1108.25 1410.33,1107.50 1410.08,1106.75 1409.86,1106.00 1409.66,1105.25 1409.47,1104.50 1409.30,1103.75 1409.14,1103.00 1408.98,1102.25 1408.83,1101.50 1408.69,1100.75 1408.55,1100.00 1408.41,1099.25 1408.28,1098.50 1408.15,1097.75 1408.03,1097.00 1407.91,1096.25 1407.79,1095.50 1407.67,1094.75 1407.56,1094.00 1407.67,1093.25 1407.79,1092.50 1407.91,1091.75 1408.03,1091.00 1408.15,1090.25 1408.28,1089.50 1408.41,1088.75 1408.55,1088.00 1408.69,1087.25 1408.83,1086.50 1408.98,1085.75 1409.14,1085.00 1409.30,1084.25 1409.47,1083.50 1409.66,1082.75 1409.86,1082.00 1410.08,1081.25 1410.33,1080.50 1410.63,1079.75 1411.20,1079.00"/><polygon points="1397.20,1094.00 1397.90,1094.49 1398.60,1094.76 1399.30,1094.97 1400.00,1095.16 1400.70,1095.33 1401.40,1095.49 1402.10,1095.64 1402.80,1095.78 1403.50,1095.92 1404.20,1096.05 1404.90,1096.17 1405.60,1096.29 1406.30,1096.41 1407.00,1096.53 1407.70,1096.64 1408.40,1096.74 1409.10,1096.85 1409.80,1096.95 1410.50,1097.05 1411.20,1097.15 1411.90,1097.05 1412.60,1096.95 1413.30,1096.85 1414.00,1096.74 1414.70,1096.64 1415.40,1096.53 1416.10,1096.41 1416.80,1096.29 1417.50,1096.17 1418.20,1096.05 1418.90,1095.92 1419.60,1095.78 1420.30,1095.64 1421.00,1095.49 1421.70,1095.33 1422.40,1095.16 1423.10,1094.97 1423.80,1094.76 1424.50,1094.49 1425.20,1094.00 1425.20,1094.00 1424.50,1093.51 1423.80,1093.24 1423.10,1093.03 1422.40,1092.84 1421.70,1092.67 1421.00,1092.51 1420.30,1092.36 1419.60,1092.22 1418.90,1092.08 1418.20,1091.95 1417.50,1091.83 1416.80,1091.71 1416.10,1091.59 1415.40,1091.47 1414.70,1091.36 1414.00,1091.26 1413.30,1091.15 1412.60,1091.05 1411.90,1090.95 1411.20,1090.85 1410.50,1090.95 1409.80,1091.05 1409.10,1091.15 1408.40,1091.26 1407.70,1091.36 1407.00,1091.47 1406.30,1091.59 1405.60,1091.71 1404.90,1091.83 1404.20,1091.95 1403.50,1092.08 1402.80,1092.22 1402.10,1092.36 1401.40,1092.51 1400.70,1092.67 1400.00,1092.84 1399.30,1093.03 1398.60,1093.24 1397.90,1093.51 1397.20,1094.00"/><rect x="1399.2" y="1117.7" width="25" height="24"/><polygon points="1461.20,1080.50 1461.77,1081.25 1462.07,1082.00 1462.32,1082.75 1462.54,1083.50 1462.74,1084.25 1462.93,1085.00 1463.10,1085.75 1463.26,1086.50 1463.42,1087.25 1463.57,1088.00 1463.71,1088.75 1463.85,1089.50 1463.99,1090.25 1464.12,1091.00 1464.25,1091.75 1464.37,1092.50 1464.49,1093.25 1464.61,1094.00 1464.73,1094.75 1464.84,1095.50 1464.73,1096.25 1464.61,1097.00 1464.49,1097.75 1464.37,1098.50 1464.25,1099.25 1464.12,1100.00 1463.99,1100.75 1463.85,1101.50 1463.71,1102.25 1463.57,1103.00 1463.42,1103.75 1463.26,1104.50 1463.10,1105.25 1462.93,1106.00 1462.74,1106.75 1462.54,1107.50 1462.32,1108.25 1462.07,1109.00 1461.77,1109.75 1461.20,1110.50 1461.20,1110.50 1460.63,1109.75 1460.33,1109.00 1460.08,1108.25 1459.86,1107.50 1459.66,1106.75 1459.47,1106.00 1459.30,1105.25 1459.14,1104.50 1458.98,1103.75 1458.83,1103.00 1458.69,1102.25 1458.55,1101.50 1458.41,1100.75 1458.28,1100.00 1458.15,1099.25 1458.03,1098.50 1457.91,1097.75 1457.79,1097.00 1457.67,1096.25 1457.56,1095.50 1457.67,1094.75 1457.79,1094.00 1457.91,1093.25 1458.03,1092.50 1458.15,1091.75 1458.28,1091.00 1458.41,1090.25 1458.55,1089.50 1458.69,1088.75 1458.83,1088.00 1458.98,1087.25 1459.14,1086.50 1459.30,1085.75 1459.47,1085.00 1459.66,1084.25 1459.86,1083.50 1460.08,1082.75 1460.33,1082.00 1460.63,1081.25 1461.20,1080.50"/><polygon points="1447.20,1095.50 1447.90,1095.99 1448.60,1096.26 1449.30,1096.47 1450.00,1096.66 1450.70,1096.83 1451.40,1096.99 1452.10,1097.14 1452.80,1097.28 1453.50,1097.42 1454.20,1097.55 1454.90,1097.67 1455.60,1097.79 1456.30,1097.91 1457.00,1098.03 1457.70,1098.14 1458.40,1098.24 1459.10,1098.35 1459.80,1098.45 1460.50,1098.55 1461.20,1098.65 1461.90,1098.55 1462.60,1098.45 1463.30,1098.35 1464.00,1098.24 1464.70,1098.14 1465.40,1098.03 1466.10,1097.91 1466.80,1097.79 1467.50,1097.67 1468.20,1097.55 1468.90,1097.42 1469.60,1097.28 1470.30,1097.14 1471.00,1096.99 1471.70,1096.83 1472.40,1096.66 1473.10,1096.47 1473.80,1096.26 1474.50,1095.99 1475.20,1095.50 1475.20,1095.50 1474.50,1095.01 1473.80,1094.74 1473.10,1094.53 1472.40,1094.34 1471.70,1094.17 1471.00,1094.01 1470.30,1093.86 1469.60,1093.72 1468.90,1093.58 1468.20,1093.45 1467.50,1093.33 1466.80,1093.21 1466.10,1093.09 1465.40,1092.97 1464.70,1092.86 1464.00,1092.76 1463.30,1092.65 1462.60,1092.55 1461.90,1092.45 1461.20,1092.35 1460.50,1092.45 1459.80,1092.55 1459.10,1092.65 1458.40,1092.76 1457.70,1092.86 1457.00,1092.97 1456.30,1093.09 1455.60,1093.21 1454.90,1093.33 1454.20,1093.45 1453.50,1093.58 1452.80,1093.72 1452.10,1093.86 1451.40,1094.01 1450.70,1094.17 1450.00,1094.34 1449.30,1094.53 1448.60,1094.74 1447.90,1095.01 1447.20,1095.50"/><rect x="1449.2" y="1117.7" width="25" height="24"/><path d="M586.5,988.6 L600.5,1004.6 L586.5,1020.6 L572.5,1004.6 Z"/></g>
<g fill="#000"><path d="M542.4,132.7 L553.4,146.2 L542.4,159.7 L531.4,146.2 Z"/><rect x="527.8" y="191.4" width="32" height="31"/><polygon points="547.50,267.05 548.46,267.99 548.97,268.93 549.40,269.86 549.77,270.80 550.10,271.74 550.41,272.68 550.70,273.61 550.98,274.55 551.24,275.49 551.50,276.43 551.74,277.36 551.98,278.30 552.20,279.24 552.43,280.18 552.64,281.11 552.85,282.05 553.06,282.99 553.26,283.93 553.45,284.86 553.64,285.80 553.45,286.74 553.26,287.68 553.06,288.61 552.85,289.55 552.64,290.49 552.43,291.43 552.20,292.36 551.98,293.30 551.74,294.24 551.50,295.18 551.24,296.11 550.98,297.05 550.70,297.99 550.41,298.93 550.10,299.86 549.77,300.80 549.40,301.74 548.97,302.68 548.46,303.61 547.50,304.55 547.50,304.55 546.54,303.61 546.03,302.68 545.60,301.74 545.23,300.80 544.90,299.86 544.59,298.93 544.30,297.99 544.02,297.05 543.76,296.11 543.50,295.18 543.26,294.24 543.02,293.30 542.80,292.36 542.57,291.43 542.36,290.49 542.15,289.55 541.94,288.61 541.74,287.68 541.55,286.74 541.36,285.80 541.55,284.86 541.74,283.93 541.94,282.99 542.15,282.05 542.36,281.11 542.57,280.18 542.80,279.24 543.02,278.30 543.26,277.36 543.50,276.43 543.76,275.49 544.02,274.55 544.30,273.61 544.59,272.68 544.90,271.74 545.23,270.80 545.60,269.86 546.03,268.93 546.54,267.99 547.50,267.05"/><polygon points="528.30,285.80 529.26,286.59 530.22,287.01 531.18,287.36 532.14,287.67 533.10,287.94 534.06,288.20 535.02,288.44 535.98,288.67 536.94,288.89 537.90,289.09 538.86,289.29 539.82,289.49 540.78,289.68 541.74,289.86 542.70,290.04 543.66,290.21 544.62,290.38 545.58,290.54 546.54,290.70 547.50,290.86 548.46,290.70 549.42,290.54 550.38,290.38 551.34,290.21 552.30,290.04 553.26,289.86 554.22,289.68 555.18,289.49 556.14,289.29 557.10,289.09 558.06,288.89 559.02,288.67 559.98,288.44 560.94,288.20 561.90,287.94 562.86,287.67 563.82,287.36 564.78,287.01 565.74,286.59 566.70,285.80 566.70,285.80 565.74,285.01 564.78,284.59 563.82,284.24 562.86,283.93 561.90,283.66 560.94,283.40 559.98,283.16 559.02,282.93 558.06,282.71 557.10,282.51 556.14,282.31 555.18,282.11 554.22,281.92 553.26,281.74 552.30,281.56 551.34,281.39 550.38,281.22 549.42,281.06 548.46,280.90 547.50,280.74 546.54,280.90 545.58,281.06 544.62,281.22 543.66,281.39 542.70,281.56 541.74,281.74 540.78,281.92 539.82,282.11 538.86,282.31 537.90,282.51 536.94,282.71 535.98,282.93 535.02,283.16 534.06,283.40 533.10,283.66 532.14,283.93 531.18,284.24 530.22,284.59 529.26,285.01 528.30,285.80"/><polygon points="546.90,345.90 550.73,350.10 556.15,348.38 557.37,353.93 562.92,355.15 561.20,360.57 565.40,364.40 561.20,368.23 562.92,373.65 557.37,374.87 556.15,380.42 550.73,378.70 546.90,382.90 543.07,378.70 537.65,380.42 536.43,374.87 530.88,373.65 532.60,368.23 528.40,364.40 532.60,360.57 530.88,355.15 536.43,353.93 537.65,348.38 543.07,350.10"/><path d="M548,422.58500000000004 L555.215,429.8 L548,437.015 L540.785,429.8 Z"/><path d="M559.7,434.285 L566.9150000000001,441.5 L559.7,448.715 L552.485,441.5 Z"/><path d="M548,445.985 L555.215,453.2 L548,460.41499999999996 L540.785,453.2 Z"/><path d="M536.3,434.285 L543.515,441.5 L536.3,448.715 L529.0849999999999,441.5 Z"/></g>
<rect x="162.8" y="56.2" width="1849.6" height="1443.4" fill="none" stroke="#000" stroke-width="6.8"/>
<g stroke="#000" stroke-width="6.5"><line x1="265.5" y1="1497" x2="265.5" y2="1473"/><line x1="265.5" y1="59" x2="265.5" y2="81.5"/><line x1="368.3" y1="1497" x2="368.3" y2="1487"/><line x1="368.3" y1="59" x2="368.3" y2="69"/><line x1="471.0" y1="1497" x2="471.0" y2="1473"/><line x1="471.0" y1="59" x2="471.0" y2="81.5"/><line x1="573.8" y1="1497" x2="573.8" y2="1487"/><line x1="573.8" y1="59" x2="573.8" y2="69"/><line x1="676.6" y1="1497" x2="676.6" y2="1473"/><line x1="676.6" y1="59" x2="676.6" y2="81.5"/><line x1="779.3" y1="1497" x2="779.3" y2="1487"/><line x1="779.3" y1="59" x2="779.3" y2="69"/><line x1="882.1" y1="1497" x2="882.1" y2="1473"/><line x1="882.1" y1="59" x2="882.1" y2="81.5"/><line x1="984.9" y1="1497" x2="984.9" y2="1487"/><line x1="984.9" y1="59" x2="984.9" y2="69"/><line x1="1087.7" y1="1497" x2="1087.7" y2="1473"/><line x1="1087.7" y1="59" x2="1087.7" y2="81.5"/><line x1="1190.4" y1="1497" x2="1190.4" y2="1487"/><line x1="1190.4" y1="59" x2="1190.4" y2="69"/><line x1="1293.2" y1="1497" x2="1293.2" y2="1473"/><line x1="1293.2" y1="59" x2="1293.2" y2="81.5"/><line x1="1396.0" y1="1497" x2="1396.0" y2="1487"/><line x1="1396.0" y1="59" x2="1396.0" y2="69"/><line x1="1498.7" y1="1497" x2="1498.7" y2="1473"/><line x1="1498.7" y1="59" x2="1498.7" y2="81.5"/><line x1="1601.5" y1="1497" x2="1601.5" y2="1487"/><line x1="1601.5" y1="59" x2="1601.5" y2="69"/><line x1="1704.3" y1="1497" x2="1704.3" y2="1473"/><line x1="1704.3" y1="59" x2="1704.3" y2="81.5"/><line x1="1807.0" y1="1497" x2="1807.0" y2="1487"/><line x1="1807.0" y1="59" x2="1807.0" y2="69"/><line x1="1909.8" y1="1497" x2="1909.8" y2="1473"/><line x1="1909.8" y1="59" x2="1909.8" y2="81.5"/><line x1="166" y1="345.5" x2="176" y2="345.5"/><line x1="2009" y1="345.5" x2="1999" y2="345.5"/><line x1="166" y1="634" x2="189" y2="634"/><line x1="2009" y1="634" x2="1986" y2="634"/><line x1="166" y1="922" x2="176" y2="922"/><line x1="2009" y1="922" x2="1999" y2="922"/><line x1="166" y1="1210.4" x2="189" y2="1210.4"/><line x1="2009" y1="1210.4" x2="1986" y2="1210.4"/></g>
<g font-family="'Liberation Sans', Arial, sans-serif" font-weight="bold" font-size="76" fill="#000" transform="translate(0,0)">
<text x="471.0" y="1587" text-anchor="middle">20</text><text x="676.6" y="1587" text-anchor="middle">30</text><text x="882.1" y="1587" text-anchor="middle">40</text><text x="1087.7" y="1587" text-anchor="middle">50</text><text x="1293.2" y="1587" text-anchor="middle">60</text><text x="1498.7" y="1587" text-anchor="middle">70</text><text x="1704.3" y="1587" text-anchor="middle">80</text><text x="1909.8" y="1587" text-anchor="middle">90</text><text x="225.6" y="1587" clip-path="url(#clip1)">1</text><text x="264" y="1587">0</text>
</g>
<text transform="translate(85,950.5) rotate(-90) scale(0.965,1)" font-family="'Liberation Sans', Arial, sans-serif" font-weight="bold" font-style="italic" font-size="97" fill="#000">Intensity</text>
<g fill="#000" font-family="'Liberation Sans', Arial, sans-serif" font-weight="bold" font-style="italic">
<text transform="translate(863.1,1726.8) scale(0.886,1)" font-size="95">2</text>
<text transform="translate(907.75,1726.8) scale(1.19,1)" font-family="'Noto Serif CJK SC', serif" font-weight="normal" font-size="75.6">&#952;</text>
<text transform="translate(976.4,1716.1) scale(1.27,1)" font-family="'Noto Serif CJK SC', serif" font-weight="normal" font-size="65.8">/</text>
<text transform="translate(1024.7,1726.8) scale(0.99,1)" font-size="92">degree</text>
</g>
<g font-family="'Liberation Serif', 'Times New Roman', serif" font-weight="bold" font-size="52.5" fill="#000">
<text transform="translate(573,160) scale(0.93,1)" textLength="679.8" lengthAdjust="spacing">C; carbon; PDF 01-077-7164</text>
<text transform="translate(576,225) scale(0.93,1)" textLength="1005.6" lengthAdjust="spacing">MnO<tspan font-size="34" dy="16">2</tspan><tspan dy="-16">; Ramsdellite, syn; PDF 00-044-0142</tspan></text>
<text transform="translate(583.2,304) scale(0.93,1)" textLength="925.8" lengthAdjust="spacing">Mn(O,OH)<tspan font-size="34" dy="16">2</tspan><tspan dy="-16">; Nsutite; PDF 00-017-0510</tspan></text>
<text transform="translate(584.2,383) scale(0.93,1)" textLength="1509.2" lengthAdjust="spacing">Mn<tspan font-size="34" dy="16">4</tspan><tspan dy="-16">O</tspan><tspan font-size="34" dy="16">8</tspan><tspan dy="-16">(H</tspan><tspan font-size="34" dy="16">2</tspan><tspan dy="-16">O)0.60; Manganese Oxide Hydrate; PDF 04-014-3553</tspan></text>
<text transform="translate(583.3,460.6) scale(0.93,1)" textLength="1267.3" lengthAdjust="spacing">MnO<tspan font-size="34" dy="16">2</tspan><tspan dy="-16">; </tspan><tspan font-family="&quot;Noto Serif CJK SC&quot;, serif" font-style="italic" font-weight="normal" font-size="45">&#945;</tspan><tspan>-MnO</tspan><tspan font-size="34" dy="16">2</tspan><tspan dy="-16">; Manganese Oxide; PDF 00-044-0141</tspan></text>
</g>
<line x1="263.6" y1="1253.1" x2="406.6" y2="1253.1" stroke="#000" stroke-width="6.5" stroke-linecap="round"/>
<line x1="260.5" y1="1331" x2="409.8" y2="1331" stroke="#ff0000" stroke-width="6.7" stroke-linecap="butt"/>
<g font-family="'Liberation Sans', Arial, sans-serif" font-size="63.7" fill="#000">
<text x="421.5" y="1274.2" letter-spacing="0.5" clip-path="url(#clip2)">MnO2_MWCNT1</text>
<text x="421.5" y="1351.8" letter-spacing="0.5">MnO2_MWCNT2</text>
</g>
</svg>
</body></html>
